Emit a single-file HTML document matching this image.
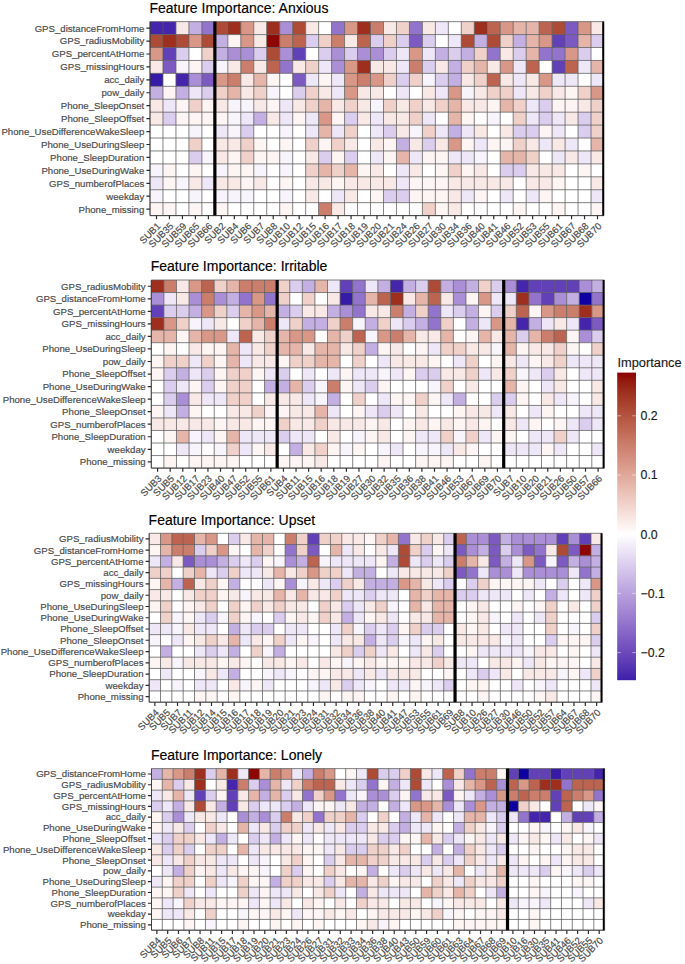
<!DOCTYPE html>
<html><head><meta charset="utf-8"><style>html,body{margin:0;padding:0;background:#fff;width:685px;height:964px;overflow:hidden}svg text{font-family:"Liberation Sans",sans-serif} .ax{stroke:#4d4d4d;stroke-width:0.2px} .tt{stroke:#000;stroke-width:0.15px} .lg{stroke:#1a1a1a;stroke-width:0.15px}</style></head>
<body><svg width="685" height="964" viewBox="0 0 685 964" style="position:absolute;left:0;top:0"><rect width="685" height="964" fill="#fff"/><text x="149.40" y="12.85" font-size="14.0" fill="#000" class="tt">Feature Importance: Anxious</text><rect x="150.00" y="21.65" width="13.02" height="12.98" fill="#4525ac"/><rect x="162.97" y="21.65" width="13.02" height="12.98" fill="#4525ac"/><rect x="175.94" y="21.65" width="13.02" height="12.98" fill="#f9e9e6"/><rect x="188.91" y="21.65" width="13.02" height="12.98" fill="#c4afe3"/><rect x="201.89" y="21.65" width="13.02" height="12.98" fill="#9374cc"/><rect x="214.86" y="21.65" width="13.02" height="12.98" fill="#ae4b37"/><rect x="227.83" y="21.65" width="13.02" height="12.98" fill="#9e2f1e"/><rect x="240.80" y="21.65" width="13.02" height="12.98" fill="#d89787"/><rect x="253.77" y="21.65" width="13.02" height="12.98" fill="#f9e9e6"/><rect x="266.74" y="21.65" width="13.02" height="12.98" fill="#9e2f1e"/><rect x="279.71" y="21.65" width="13.02" height="12.98" fill="#aa8fd7"/><rect x="292.69" y="21.65" width="13.02" height="12.98" fill="#ae4b37"/><rect x="305.66" y="21.65" width="13.02" height="12.98" fill="#f9e9e6"/><rect x="318.63" y="21.65" width="13.02" height="12.98" fill="#ffffff"/><rect x="331.60" y="21.65" width="13.02" height="12.98" fill="#9374cc"/><rect x="344.57" y="21.65" width="13.02" height="12.98" fill="#d89787"/><rect x="357.54" y="21.65" width="13.02" height="12.98" fill="#9e2f1e"/><rect x="370.51" y="21.65" width="13.02" height="12.98" fill="#cb7e6b"/><rect x="383.49" y="21.65" width="13.02" height="12.98" fill="#f9e9e6"/><rect x="396.46" y="21.65" width="13.02" height="12.98" fill="#f0d1c9"/><rect x="409.43" y="21.65" width="13.02" height="12.98" fill="#9374cc"/><rect x="422.40" y="21.65" width="13.02" height="12.98" fill="#f9e9e6"/><rect x="435.37" y="21.65" width="13.02" height="12.98" fill="#eee7f7"/><rect x="448.34" y="21.65" width="13.02" height="12.98" fill="#ffffff"/><rect x="461.31" y="21.65" width="13.02" height="12.98" fill="#f0d1c9"/><rect x="474.29" y="21.65" width="13.02" height="12.98" fill="#9e2f1e"/><rect x="487.26" y="21.65" width="13.02" height="12.98" fill="#bd6450"/><rect x="500.23" y="21.65" width="13.02" height="12.98" fill="#d89787"/><rect x="513.20" y="21.65" width="13.02" height="12.98" fill="#e6b5a9"/><rect x="526.17" y="21.65" width="13.02" height="12.98" fill="#e6b5a9"/><rect x="539.14" y="21.65" width="13.02" height="12.98" fill="#bd6450"/><rect x="552.11" y="21.65" width="13.02" height="12.98" fill="#ae4b37"/><rect x="565.09" y="21.65" width="13.02" height="12.98" fill="#7c5ac2"/><rect x="578.06" y="21.65" width="13.02" height="12.98" fill="#d89787"/><rect x="591.03" y="21.65" width="13.02" height="12.98" fill="#f9e9e6"/><rect x="150.00" y="34.58" width="13.02" height="12.98" fill="#ae4b37"/><rect x="162.97" y="34.58" width="13.02" height="12.98" fill="#9e2f1e"/><rect x="175.94" y="34.58" width="13.02" height="12.98" fill="#ae4b37"/><rect x="188.91" y="34.58" width="13.02" height="12.98" fill="#d89787"/><rect x="201.89" y="34.58" width="13.02" height="12.98" fill="#ae4b37"/><rect x="214.86" y="34.58" width="13.02" height="12.98" fill="#c4afe3"/><rect x="227.83" y="34.58" width="13.02" height="12.98" fill="#fcf5f4"/><rect x="240.80" y="34.58" width="13.02" height="12.98" fill="#d89787"/><rect x="253.77" y="34.58" width="13.02" height="12.98" fill="#f9e9e6"/><rect x="266.74" y="34.58" width="13.02" height="12.98" fill="#8d0603"/><rect x="279.71" y="34.58" width="13.02" height="12.98" fill="#cb7e6b"/><rect x="292.69" y="34.58" width="13.02" height="12.98" fill="#bd6450"/><rect x="305.66" y="34.58" width="13.02" height="12.98" fill="#dacdee"/><rect x="318.63" y="34.58" width="13.02" height="12.98" fill="#f0d1c9"/><rect x="331.60" y="34.58" width="13.02" height="12.98" fill="#cb7e6b"/><rect x="344.57" y="34.58" width="13.02" height="12.98" fill="#f9e9e6"/><rect x="357.54" y="34.58" width="13.02" height="12.98" fill="#bd6450"/><rect x="370.51" y="34.58" width="13.02" height="12.98" fill="#dacdee"/><rect x="383.49" y="34.58" width="13.02" height="12.98" fill="#f0d1c9"/><rect x="396.46" y="34.58" width="13.02" height="12.98" fill="#dacdee"/><rect x="409.43" y="34.58" width="13.02" height="12.98" fill="#7c5ac2"/><rect x="422.40" y="34.58" width="13.02" height="12.98" fill="#dacdee"/><rect x="435.37" y="34.58" width="13.02" height="12.98" fill="#ffffff"/><rect x="448.34" y="34.58" width="13.02" height="12.98" fill="#eee7f7"/><rect x="461.31" y="34.58" width="13.02" height="12.98" fill="#ae4b37"/><rect x="474.29" y="34.58" width="13.02" height="12.98" fill="#c4afe3"/><rect x="487.26" y="34.58" width="13.02" height="12.98" fill="#ae4b37"/><rect x="500.23" y="34.58" width="13.02" height="12.98" fill="#f0d1c9"/><rect x="513.20" y="34.58" width="13.02" height="12.98" fill="#c4afe3"/><rect x="526.17" y="34.58" width="13.02" height="12.98" fill="#e6b5a9"/><rect x="539.14" y="34.58" width="13.02" height="12.98" fill="#d89787"/><rect x="552.11" y="34.58" width="13.02" height="12.98" fill="#6240b7"/><rect x="565.09" y="34.58" width="13.02" height="12.98" fill="#7c5ac2"/><rect x="578.06" y="34.58" width="13.02" height="12.98" fill="#e6b5a9"/><rect x="591.03" y="34.58" width="13.02" height="12.98" fill="#dacdee"/><rect x="150.00" y="47.51" width="13.02" height="12.98" fill="#d89787"/><rect x="162.97" y="47.51" width="13.02" height="12.98" fill="#6240b7"/><rect x="175.94" y="47.51" width="13.02" height="12.98" fill="#dacdee"/><rect x="188.91" y="47.51" width="13.02" height="12.98" fill="#ffffff"/><rect x="201.89" y="47.51" width="13.02" height="12.98" fill="#f0d1c9"/><rect x="214.86" y="47.51" width="13.02" height="12.98" fill="#c4afe3"/><rect x="227.83" y="47.51" width="13.02" height="12.98" fill="#aa8fd7"/><rect x="240.80" y="47.51" width="13.02" height="12.98" fill="#aa8fd7"/><rect x="253.77" y="47.51" width="13.02" height="12.98" fill="#dacdee"/><rect x="266.74" y="47.51" width="13.02" height="12.98" fill="#ae4b37"/><rect x="279.71" y="47.51" width="13.02" height="12.98" fill="#aa8fd7"/><rect x="292.69" y="47.51" width="13.02" height="12.98" fill="#6240b7"/><rect x="305.66" y="47.51" width="13.02" height="12.98" fill="#ffffff"/><rect x="318.63" y="47.51" width="13.02" height="12.98" fill="#dacdee"/><rect x="331.60" y="47.51" width="13.02" height="12.98" fill="#aa8fd7"/><rect x="344.57" y="47.51" width="13.02" height="12.98" fill="#dacdee"/><rect x="357.54" y="47.51" width="13.02" height="12.98" fill="#aa8fd7"/><rect x="370.51" y="47.51" width="13.02" height="12.98" fill="#aa8fd7"/><rect x="383.49" y="47.51" width="13.02" height="12.98" fill="#dacdee"/><rect x="396.46" y="47.51" width="13.02" height="12.98" fill="#eee7f7"/><rect x="409.43" y="47.51" width="13.02" height="12.98" fill="#d89787"/><rect x="422.40" y="47.51" width="13.02" height="12.98" fill="#eee7f7"/><rect x="435.37" y="47.51" width="13.02" height="12.98" fill="#c4afe3"/><rect x="448.34" y="47.51" width="13.02" height="12.98" fill="#dacdee"/><rect x="461.31" y="47.51" width="13.02" height="12.98" fill="#c4afe3"/><rect x="474.29" y="47.51" width="13.02" height="12.98" fill="#f0d1c9"/><rect x="487.26" y="47.51" width="13.02" height="12.98" fill="#9374cc"/><rect x="500.23" y="47.51" width="13.02" height="12.98" fill="#f9e9e6"/><rect x="513.20" y="47.51" width="13.02" height="12.98" fill="#dacdee"/><rect x="526.17" y="47.51" width="13.02" height="12.98" fill="#e6b5a9"/><rect x="539.14" y="47.51" width="13.02" height="12.98" fill="#9374cc"/><rect x="552.11" y="47.51" width="13.02" height="12.98" fill="#9374cc"/><rect x="565.09" y="47.51" width="13.02" height="12.98" fill="#d89787"/><rect x="578.06" y="47.51" width="13.02" height="12.98" fill="#dacdee"/><rect x="591.03" y="47.51" width="13.02" height="12.98" fill="#ffffff"/><rect x="150.00" y="60.44" width="13.02" height="12.98" fill="#f9e9e6"/><rect x="162.97" y="60.44" width="13.02" height="12.98" fill="#7c5ac2"/><rect x="175.94" y="60.44" width="13.02" height="12.98" fill="#f7f4fb"/><rect x="188.91" y="60.44" width="13.02" height="12.98" fill="#fcf5f4"/><rect x="201.89" y="60.44" width="13.02" height="12.98" fill="#dacdee"/><rect x="214.86" y="60.44" width="13.02" height="12.98" fill="#f7f4fb"/><rect x="227.83" y="60.44" width="13.02" height="12.98" fill="#f9e9e6"/><rect x="240.80" y="60.44" width="13.02" height="12.98" fill="#cb7e6b"/><rect x="253.77" y="60.44" width="13.02" height="12.98" fill="#f9e9e6"/><rect x="266.74" y="60.44" width="13.02" height="12.98" fill="#bd6450"/><rect x="279.71" y="60.44" width="13.02" height="12.98" fill="#9374cc"/><rect x="292.69" y="60.44" width="13.02" height="12.98" fill="#f9e9e6"/><rect x="305.66" y="60.44" width="13.02" height="12.98" fill="#f0d1c9"/><rect x="318.63" y="60.44" width="13.02" height="12.98" fill="#eee7f7"/><rect x="331.60" y="60.44" width="13.02" height="12.98" fill="#aa8fd7"/><rect x="344.57" y="60.44" width="13.02" height="12.98" fill="#d89787"/><rect x="357.54" y="60.44" width="13.02" height="12.98" fill="#9e2f1e"/><rect x="370.51" y="60.44" width="13.02" height="12.98" fill="#f9e9e6"/><rect x="383.49" y="60.44" width="13.02" height="12.98" fill="#f9e9e6"/><rect x="396.46" y="60.44" width="13.02" height="12.98" fill="#eee7f7"/><rect x="409.43" y="60.44" width="13.02" height="12.98" fill="#cb7e6b"/><rect x="422.40" y="60.44" width="13.02" height="12.98" fill="#dacdee"/><rect x="435.37" y="60.44" width="13.02" height="12.98" fill="#f9e9e6"/><rect x="448.34" y="60.44" width="13.02" height="12.98" fill="#c4afe3"/><rect x="461.31" y="60.44" width="13.02" height="12.98" fill="#f0d1c9"/><rect x="474.29" y="60.44" width="13.02" height="12.98" fill="#e6b5a9"/><rect x="487.26" y="60.44" width="13.02" height="12.98" fill="#f9e9e6"/><rect x="500.23" y="60.44" width="13.02" height="12.98" fill="#d89787"/><rect x="513.20" y="60.44" width="13.02" height="12.98" fill="#eee7f7"/><rect x="526.17" y="60.44" width="13.02" height="12.98" fill="#bd6450"/><rect x="539.14" y="60.44" width="13.02" height="12.98" fill="#ffffff"/><rect x="552.11" y="60.44" width="13.02" height="12.98" fill="#6240b7"/><rect x="565.09" y="60.44" width="13.02" height="12.98" fill="#bd6450"/><rect x="578.06" y="60.44" width="13.02" height="12.98" fill="#eee7f7"/><rect x="591.03" y="60.44" width="13.02" height="12.98" fill="#e6b5a9"/><rect x="150.00" y="73.37" width="13.02" height="12.98" fill="#361aa8"/><rect x="162.97" y="73.37" width="13.02" height="12.98" fill="#ffffff"/><rect x="175.94" y="73.37" width="13.02" height="12.98" fill="#4525ac"/><rect x="188.91" y="73.37" width="13.02" height="12.98" fill="#aa8fd7"/><rect x="201.89" y="73.37" width="13.02" height="12.98" fill="#7c5ac2"/><rect x="214.86" y="73.37" width="13.02" height="12.98" fill="#d89787"/><rect x="227.83" y="73.37" width="13.02" height="12.98" fill="#cb7e6b"/><rect x="240.80" y="73.37" width="13.02" height="12.98" fill="#f9e9e6"/><rect x="253.77" y="73.37" width="13.02" height="12.98" fill="#e6b5a9"/><rect x="266.74" y="73.37" width="13.02" height="12.98" fill="#fcf5f4"/><rect x="279.71" y="73.37" width="13.02" height="12.98" fill="#ffffff"/><rect x="292.69" y="73.37" width="13.02" height="12.98" fill="#7c5ac2"/><rect x="305.66" y="73.37" width="13.02" height="12.98" fill="#eee7f7"/><rect x="318.63" y="73.37" width="13.02" height="12.98" fill="#fcf5f4"/><rect x="331.60" y="73.37" width="13.02" height="12.98" fill="#eee7f7"/><rect x="344.57" y="73.37" width="13.02" height="12.98" fill="#d89787"/><rect x="357.54" y="73.37" width="13.02" height="12.98" fill="#cb7e6b"/><rect x="370.51" y="73.37" width="13.02" height="12.98" fill="#d89787"/><rect x="383.49" y="73.37" width="13.02" height="12.98" fill="#f0d1c9"/><rect x="396.46" y="73.37" width="13.02" height="12.98" fill="#dacdee"/><rect x="409.43" y="73.37" width="13.02" height="12.98" fill="#f0d1c9"/><rect x="422.40" y="73.37" width="13.02" height="12.98" fill="#f7f4fb"/><rect x="435.37" y="73.37" width="13.02" height="12.98" fill="#dacdee"/><rect x="448.34" y="73.37" width="13.02" height="12.98" fill="#c4afe3"/><rect x="461.31" y="73.37" width="13.02" height="12.98" fill="#f9e9e6"/><rect x="474.29" y="73.37" width="13.02" height="12.98" fill="#f0d1c9"/><rect x="487.26" y="73.37" width="13.02" height="12.98" fill="#bd6450"/><rect x="500.23" y="73.37" width="13.02" height="12.98" fill="#f9e9e6"/><rect x="513.20" y="73.37" width="13.02" height="12.98" fill="#eee7f7"/><rect x="526.17" y="73.37" width="13.02" height="12.98" fill="#f9e9e6"/><rect x="539.14" y="73.37" width="13.02" height="12.98" fill="#d89787"/><rect x="552.11" y="73.37" width="13.02" height="12.98" fill="#eee7f7"/><rect x="565.09" y="73.37" width="13.02" height="12.98" fill="#eee7f7"/><rect x="578.06" y="73.37" width="13.02" height="12.98" fill="#ffffff"/><rect x="591.03" y="73.37" width="13.02" height="12.98" fill="#eee7f7"/><rect x="150.00" y="86.30" width="13.02" height="12.98" fill="#c4afe3"/><rect x="162.97" y="86.30" width="13.02" height="12.98" fill="#fcf5f4"/><rect x="175.94" y="86.30" width="13.02" height="12.98" fill="#c4afe3"/><rect x="188.91" y="86.30" width="13.02" height="12.98" fill="#eee7f7"/><rect x="201.89" y="86.30" width="13.02" height="12.98" fill="#dacdee"/><rect x="214.86" y="86.30" width="13.02" height="12.98" fill="#f0d1c9"/><rect x="227.83" y="86.30" width="13.02" height="12.98" fill="#e6b5a9"/><rect x="240.80" y="86.30" width="13.02" height="12.98" fill="#f9e9e6"/><rect x="253.77" y="86.30" width="13.02" height="12.98" fill="#f0d1c9"/><rect x="266.74" y="86.30" width="13.02" height="12.98" fill="#f7f4fb"/><rect x="279.71" y="86.30" width="13.02" height="12.98" fill="#ffffff"/><rect x="292.69" y="86.30" width="13.02" height="12.98" fill="#dacdee"/><rect x="305.66" y="86.30" width="13.02" height="12.98" fill="#f0d1c9"/><rect x="318.63" y="86.30" width="13.02" height="12.98" fill="#f9e9e6"/><rect x="331.60" y="86.30" width="13.02" height="12.98" fill="#eee7f7"/><rect x="344.57" y="86.30" width="13.02" height="12.98" fill="#d89787"/><rect x="357.54" y="86.30" width="13.02" height="12.98" fill="#f9e9e6"/><rect x="370.51" y="86.30" width="13.02" height="12.98" fill="#f9e9e6"/><rect x="383.49" y="86.30" width="13.02" height="12.98" fill="#ffffff"/><rect x="396.46" y="86.30" width="13.02" height="12.98" fill="#eee7f7"/><rect x="409.43" y="86.30" width="13.02" height="12.98" fill="#ffffff"/><rect x="422.40" y="86.30" width="13.02" height="12.98" fill="#f9e9e6"/><rect x="435.37" y="86.30" width="13.02" height="12.98" fill="#eee7f7"/><rect x="448.34" y="86.30" width="13.02" height="12.98" fill="#d89787"/><rect x="461.31" y="86.30" width="13.02" height="12.98" fill="#f7f4fb"/><rect x="474.29" y="86.30" width="13.02" height="12.98" fill="#f9e9e6"/><rect x="487.26" y="86.30" width="13.02" height="12.98" fill="#f0d1c9"/><rect x="500.23" y="86.30" width="13.02" height="12.98" fill="#f0d1c9"/><rect x="513.20" y="86.30" width="13.02" height="12.98" fill="#eee7f7"/><rect x="526.17" y="86.30" width="13.02" height="12.98" fill="#f9e9e6"/><rect x="539.14" y="86.30" width="13.02" height="12.98" fill="#f0d1c9"/><rect x="552.11" y="86.30" width="13.02" height="12.98" fill="#f9e9e6"/><rect x="565.09" y="86.30" width="13.02" height="12.98" fill="#fcf5f4"/><rect x="578.06" y="86.30" width="13.02" height="12.98" fill="#f0d1c9"/><rect x="591.03" y="86.30" width="13.02" height="12.98" fill="#d89787"/><rect x="150.00" y="99.23" width="13.02" height="12.98" fill="#f9e9e6"/><rect x="162.97" y="99.23" width="13.02" height="12.98" fill="#eee7f7"/><rect x="175.94" y="99.23" width="13.02" height="12.98" fill="#fcf5f4"/><rect x="188.91" y="99.23" width="13.02" height="12.98" fill="#f0d1c9"/><rect x="201.89" y="99.23" width="13.02" height="12.98" fill="#fcf5f4"/><rect x="214.86" y="99.23" width="13.02" height="12.98" fill="#f9e9e6"/><rect x="227.83" y="99.23" width="13.02" height="12.98" fill="#f7f4fb"/><rect x="240.80" y="99.23" width="13.02" height="12.98" fill="#f7f4fb"/><rect x="253.77" y="99.23" width="13.02" height="12.98" fill="#f9e9e6"/><rect x="266.74" y="99.23" width="13.02" height="12.98" fill="#fcf5f4"/><rect x="279.71" y="99.23" width="13.02" height="12.98" fill="#eee7f7"/><rect x="292.69" y="99.23" width="13.02" height="12.98" fill="#f9e9e6"/><rect x="305.66" y="99.23" width="13.02" height="12.98" fill="#f0d1c9"/><rect x="318.63" y="99.23" width="13.02" height="12.98" fill="#e6b5a9"/><rect x="331.60" y="99.23" width="13.02" height="12.98" fill="#f9e9e6"/><rect x="344.57" y="99.23" width="13.02" height="12.98" fill="#f0d1c9"/><rect x="357.54" y="99.23" width="13.02" height="12.98" fill="#f9e9e6"/><rect x="370.51" y="99.23" width="13.02" height="12.98" fill="#f7f4fb"/><rect x="383.49" y="99.23" width="13.02" height="12.98" fill="#f0d1c9"/><rect x="396.46" y="99.23" width="13.02" height="12.98" fill="#f9e9e6"/><rect x="409.43" y="99.23" width="13.02" height="12.98" fill="#f0d1c9"/><rect x="422.40" y="99.23" width="13.02" height="12.98" fill="#f9e9e6"/><rect x="435.37" y="99.23" width="13.02" height="12.98" fill="#f0d1c9"/><rect x="448.34" y="99.23" width="13.02" height="12.98" fill="#e6b5a9"/><rect x="461.31" y="99.23" width="13.02" height="12.98" fill="#f9e9e6"/><rect x="474.29" y="99.23" width="13.02" height="12.98" fill="#f9e9e6"/><rect x="487.26" y="99.23" width="13.02" height="12.98" fill="#fcf5f4"/><rect x="500.23" y="99.23" width="13.02" height="12.98" fill="#e6b5a9"/><rect x="513.20" y="99.23" width="13.02" height="12.98" fill="#f0d1c9"/><rect x="526.17" y="99.23" width="13.02" height="12.98" fill="#eee7f7"/><rect x="539.14" y="99.23" width="13.02" height="12.98" fill="#dacdee"/><rect x="552.11" y="99.23" width="13.02" height="12.98" fill="#fcf5f4"/><rect x="565.09" y="99.23" width="13.02" height="12.98" fill="#fcf5f4"/><rect x="578.06" y="99.23" width="13.02" height="12.98" fill="#f9e9e6"/><rect x="591.03" y="99.23" width="13.02" height="12.98" fill="#f0d1c9"/><rect x="150.00" y="112.16" width="13.02" height="12.98" fill="#f9e9e6"/><rect x="162.97" y="112.16" width="13.02" height="12.98" fill="#dacdee"/><rect x="175.94" y="112.16" width="13.02" height="12.98" fill="#fcf5f4"/><rect x="188.91" y="112.16" width="13.02" height="12.98" fill="#fcf5f4"/><rect x="201.89" y="112.16" width="13.02" height="12.98" fill="#fcf5f4"/><rect x="214.86" y="112.16" width="13.02" height="12.98" fill="#fcf5f4"/><rect x="227.83" y="112.16" width="13.02" height="12.98" fill="#f7f4fb"/><rect x="240.80" y="112.16" width="13.02" height="12.98" fill="#eee7f7"/><rect x="253.77" y="112.16" width="13.02" height="12.98" fill="#c4afe3"/><rect x="266.74" y="112.16" width="13.02" height="12.98" fill="#f9e9e6"/><rect x="279.71" y="112.16" width="13.02" height="12.98" fill="#eee7f7"/><rect x="292.69" y="112.16" width="13.02" height="12.98" fill="#fcf5f4"/><rect x="305.66" y="112.16" width="13.02" height="12.98" fill="#eee7f7"/><rect x="318.63" y="112.16" width="13.02" height="12.98" fill="#d89787"/><rect x="331.60" y="112.16" width="13.02" height="12.98" fill="#fcf5f4"/><rect x="344.57" y="112.16" width="13.02" height="12.98" fill="#dacdee"/><rect x="357.54" y="112.16" width="13.02" height="12.98" fill="#f9e9e6"/><rect x="370.51" y="112.16" width="13.02" height="12.98" fill="#eee7f7"/><rect x="383.49" y="112.16" width="13.02" height="12.98" fill="#f9e9e6"/><rect x="396.46" y="112.16" width="13.02" height="12.98" fill="#f9e9e6"/><rect x="409.43" y="112.16" width="13.02" height="12.98" fill="#f0d1c9"/><rect x="422.40" y="112.16" width="13.02" height="12.98" fill="#eee7f7"/><rect x="435.37" y="112.16" width="13.02" height="12.98" fill="#ffffff"/><rect x="448.34" y="112.16" width="13.02" height="12.98" fill="#e6b5a9"/><rect x="461.31" y="112.16" width="13.02" height="12.98" fill="#fcf5f4"/><rect x="474.29" y="112.16" width="13.02" height="12.98" fill="#ffffff"/><rect x="487.26" y="112.16" width="13.02" height="12.98" fill="#f7f4fb"/><rect x="500.23" y="112.16" width="13.02" height="12.98" fill="#ffffff"/><rect x="513.20" y="112.16" width="13.02" height="12.98" fill="#f0d1c9"/><rect x="526.17" y="112.16" width="13.02" height="12.98" fill="#eee7f7"/><rect x="539.14" y="112.16" width="13.02" height="12.98" fill="#dacdee"/><rect x="552.11" y="112.16" width="13.02" height="12.98" fill="#eee7f7"/><rect x="565.09" y="112.16" width="13.02" height="12.98" fill="#f9e9e6"/><rect x="578.06" y="112.16" width="13.02" height="12.98" fill="#dacdee"/><rect x="591.03" y="112.16" width="13.02" height="12.98" fill="#f0d1c9"/><rect x="150.00" y="125.09" width="13.02" height="12.98" fill="#ffffff"/><rect x="162.97" y="125.09" width="13.02" height="12.98" fill="#ffffff"/><rect x="175.94" y="125.09" width="13.02" height="12.98" fill="#ffffff"/><rect x="188.91" y="125.09" width="13.02" height="12.98" fill="#f7f4fb"/><rect x="201.89" y="125.09" width="13.02" height="12.98" fill="#ffffff"/><rect x="214.86" y="125.09" width="13.02" height="12.98" fill="#eee7f7"/><rect x="227.83" y="125.09" width="13.02" height="12.98" fill="#f7f4fb"/><rect x="240.80" y="125.09" width="13.02" height="12.98" fill="#dacdee"/><rect x="253.77" y="125.09" width="13.02" height="12.98" fill="#ffffff"/><rect x="266.74" y="125.09" width="13.02" height="12.98" fill="#ffffff"/><rect x="279.71" y="125.09" width="13.02" height="12.98" fill="#f7f4fb"/><rect x="292.69" y="125.09" width="13.02" height="12.98" fill="#ffffff"/><rect x="305.66" y="125.09" width="13.02" height="12.98" fill="#eee7f7"/><rect x="318.63" y="125.09" width="13.02" height="12.98" fill="#e6b5a9"/><rect x="331.60" y="125.09" width="13.02" height="12.98" fill="#eee7f7"/><rect x="344.57" y="125.09" width="13.02" height="12.98" fill="#f0d1c9"/><rect x="357.54" y="125.09" width="13.02" height="12.98" fill="#ffffff"/><rect x="370.51" y="125.09" width="13.02" height="12.98" fill="#eee7f7"/><rect x="383.49" y="125.09" width="13.02" height="12.98" fill="#dacdee"/><rect x="396.46" y="125.09" width="13.02" height="12.98" fill="#f9e9e6"/><rect x="409.43" y="125.09" width="13.02" height="12.98" fill="#f7f4fb"/><rect x="422.40" y="125.09" width="13.02" height="12.98" fill="#f0d1c9"/><rect x="435.37" y="125.09" width="13.02" height="12.98" fill="#eee7f7"/><rect x="448.34" y="125.09" width="13.02" height="12.98" fill="#c4afe3"/><rect x="461.31" y="125.09" width="13.02" height="12.98" fill="#eee7f7"/><rect x="474.29" y="125.09" width="13.02" height="12.98" fill="#f9e9e6"/><rect x="487.26" y="125.09" width="13.02" height="12.98" fill="#ffffff"/><rect x="500.23" y="125.09" width="13.02" height="12.98" fill="#f9e9e6"/><rect x="513.20" y="125.09" width="13.02" height="12.98" fill="#dacdee"/><rect x="526.17" y="125.09" width="13.02" height="12.98" fill="#dacdee"/><rect x="539.14" y="125.09" width="13.02" height="12.98" fill="#fcf5f4"/><rect x="552.11" y="125.09" width="13.02" height="12.98" fill="#eee7f7"/><rect x="565.09" y="125.09" width="13.02" height="12.98" fill="#ffffff"/><rect x="578.06" y="125.09" width="13.02" height="12.98" fill="#dacdee"/><rect x="591.03" y="125.09" width="13.02" height="12.98" fill="#f0d1c9"/><rect x="150.00" y="138.02" width="13.02" height="12.98" fill="#ffffff"/><rect x="162.97" y="138.02" width="13.02" height="12.98" fill="#ffffff"/><rect x="175.94" y="138.02" width="13.02" height="12.98" fill="#ffffff"/><rect x="188.91" y="138.02" width="13.02" height="12.98" fill="#f0d1c9"/><rect x="201.89" y="138.02" width="13.02" height="12.98" fill="#ffffff"/><rect x="214.86" y="138.02" width="13.02" height="12.98" fill="#f9e9e6"/><rect x="227.83" y="138.02" width="13.02" height="12.98" fill="#f9e9e6"/><rect x="240.80" y="138.02" width="13.02" height="12.98" fill="#f0d1c9"/><rect x="253.77" y="138.02" width="13.02" height="12.98" fill="#fcf5f4"/><rect x="266.74" y="138.02" width="13.02" height="12.98" fill="#ffffff"/><rect x="279.71" y="138.02" width="13.02" height="12.98" fill="#fcf5f4"/><rect x="292.69" y="138.02" width="13.02" height="12.98" fill="#ffffff"/><rect x="305.66" y="138.02" width="13.02" height="12.98" fill="#f0d1c9"/><rect x="318.63" y="138.02" width="13.02" height="12.98" fill="#fcf5f4"/><rect x="331.60" y="138.02" width="13.02" height="12.98" fill="#f0d1c9"/><rect x="344.57" y="138.02" width="13.02" height="12.98" fill="#f9e9e6"/><rect x="357.54" y="138.02" width="13.02" height="12.98" fill="#ffffff"/><rect x="370.51" y="138.02" width="13.02" height="12.98" fill="#f9e9e6"/><rect x="383.49" y="138.02" width="13.02" height="12.98" fill="#fcf5f4"/><rect x="396.46" y="138.02" width="13.02" height="12.98" fill="#c4afe3"/><rect x="409.43" y="138.02" width="13.02" height="12.98" fill="#f9e9e6"/><rect x="422.40" y="138.02" width="13.02" height="12.98" fill="#dacdee"/><rect x="435.37" y="138.02" width="13.02" height="12.98" fill="#f9e9e6"/><rect x="448.34" y="138.02" width="13.02" height="12.98" fill="#d89787"/><rect x="461.31" y="138.02" width="13.02" height="12.98" fill="#fcf5f4"/><rect x="474.29" y="138.02" width="13.02" height="12.98" fill="#eee7f7"/><rect x="487.26" y="138.02" width="13.02" height="12.98" fill="#fcf5f4"/><rect x="500.23" y="138.02" width="13.02" height="12.98" fill="#fcf5f4"/><rect x="513.20" y="138.02" width="13.02" height="12.98" fill="#f0d1c9"/><rect x="526.17" y="138.02" width="13.02" height="12.98" fill="#f9e9e6"/><rect x="539.14" y="138.02" width="13.02" height="12.98" fill="#eee7f7"/><rect x="552.11" y="138.02" width="13.02" height="12.98" fill="#f9e9e6"/><rect x="565.09" y="138.02" width="13.02" height="12.98" fill="#eee7f7"/><rect x="578.06" y="138.02" width="13.02" height="12.98" fill="#ffffff"/><rect x="591.03" y="138.02" width="13.02" height="12.98" fill="#e6b5a9"/><rect x="150.00" y="150.95" width="13.02" height="12.98" fill="#ffffff"/><rect x="162.97" y="150.95" width="13.02" height="12.98" fill="#ffffff"/><rect x="175.94" y="150.95" width="13.02" height="12.98" fill="#ffffff"/><rect x="188.91" y="150.95" width="13.02" height="12.98" fill="#dacdee"/><rect x="201.89" y="150.95" width="13.02" height="12.98" fill="#f7f4fb"/><rect x="214.86" y="150.95" width="13.02" height="12.98" fill="#f9e9e6"/><rect x="227.83" y="150.95" width="13.02" height="12.98" fill="#fcf5f4"/><rect x="240.80" y="150.95" width="13.02" height="12.98" fill="#f0d1c9"/><rect x="253.77" y="150.95" width="13.02" height="12.98" fill="#fcf5f4"/><rect x="266.74" y="150.95" width="13.02" height="12.98" fill="#fcf5f4"/><rect x="279.71" y="150.95" width="13.02" height="12.98" fill="#f7f4fb"/><rect x="292.69" y="150.95" width="13.02" height="12.98" fill="#ffffff"/><rect x="305.66" y="150.95" width="13.02" height="12.98" fill="#f9e9e6"/><rect x="318.63" y="150.95" width="13.02" height="12.98" fill="#dacdee"/><rect x="331.60" y="150.95" width="13.02" height="12.98" fill="#fcf5f4"/><rect x="344.57" y="150.95" width="13.02" height="12.98" fill="#dacdee"/><rect x="357.54" y="150.95" width="13.02" height="12.98" fill="#ffffff"/><rect x="370.51" y="150.95" width="13.02" height="12.98" fill="#eee7f7"/><rect x="383.49" y="150.95" width="13.02" height="12.98" fill="#fcf5f4"/><rect x="396.46" y="150.95" width="13.02" height="12.98" fill="#e6b5a9"/><rect x="409.43" y="150.95" width="13.02" height="12.98" fill="#eee7f7"/><rect x="422.40" y="150.95" width="13.02" height="12.98" fill="#fcf5f4"/><rect x="435.37" y="150.95" width="13.02" height="12.98" fill="#fcf5f4"/><rect x="448.34" y="150.95" width="13.02" height="12.98" fill="#eee7f7"/><rect x="461.31" y="150.95" width="13.02" height="12.98" fill="#eee7f7"/><rect x="474.29" y="150.95" width="13.02" height="12.98" fill="#f7f4fb"/><rect x="487.26" y="150.95" width="13.02" height="12.98" fill="#ffffff"/><rect x="500.23" y="150.95" width="13.02" height="12.98" fill="#e6b5a9"/><rect x="513.20" y="150.95" width="13.02" height="12.98" fill="#e6b5a9"/><rect x="526.17" y="150.95" width="13.02" height="12.98" fill="#f0d1c9"/><rect x="539.14" y="150.95" width="13.02" height="12.98" fill="#ffffff"/><rect x="552.11" y="150.95" width="13.02" height="12.98" fill="#eee7f7"/><rect x="565.09" y="150.95" width="13.02" height="12.98" fill="#f9e9e6"/><rect x="578.06" y="150.95" width="13.02" height="12.98" fill="#eee7f7"/><rect x="591.03" y="150.95" width="13.02" height="12.98" fill="#f9e9e6"/><rect x="150.00" y="163.88" width="13.02" height="12.98" fill="#f7f4fb"/><rect x="162.97" y="163.88" width="13.02" height="12.98" fill="#fcf5f4"/><rect x="175.94" y="163.88" width="13.02" height="12.98" fill="#ffffff"/><rect x="188.91" y="163.88" width="13.02" height="12.98" fill="#fcf5f4"/><rect x="201.89" y="163.88" width="13.02" height="12.98" fill="#ffffff"/><rect x="214.86" y="163.88" width="13.02" height="12.98" fill="#f7f4fb"/><rect x="227.83" y="163.88" width="13.02" height="12.98" fill="#fcf5f4"/><rect x="240.80" y="163.88" width="13.02" height="12.98" fill="#fcf5f4"/><rect x="253.77" y="163.88" width="13.02" height="12.98" fill="#f7f4fb"/><rect x="266.74" y="163.88" width="13.02" height="12.98" fill="#ffffff"/><rect x="279.71" y="163.88" width="13.02" height="12.98" fill="#f7f4fb"/><rect x="292.69" y="163.88" width="13.02" height="12.98" fill="#ffffff"/><rect x="305.66" y="163.88" width="13.02" height="12.98" fill="#f0d1c9"/><rect x="318.63" y="163.88" width="13.02" height="12.98" fill="#e6b5a9"/><rect x="331.60" y="163.88" width="13.02" height="12.98" fill="#f0d1c9"/><rect x="344.57" y="163.88" width="13.02" height="12.98" fill="#e6b5a9"/><rect x="357.54" y="163.88" width="13.02" height="12.98" fill="#fcf5f4"/><rect x="370.51" y="163.88" width="13.02" height="12.98" fill="#f9e9e6"/><rect x="383.49" y="163.88" width="13.02" height="12.98" fill="#ffffff"/><rect x="396.46" y="163.88" width="13.02" height="12.98" fill="#eee7f7"/><rect x="409.43" y="163.88" width="13.02" height="12.98" fill="#f9e9e6"/><rect x="422.40" y="163.88" width="13.02" height="12.98" fill="#ffffff"/><rect x="435.37" y="163.88" width="13.02" height="12.98" fill="#fcf5f4"/><rect x="448.34" y="163.88" width="13.02" height="12.98" fill="#f0d1c9"/><rect x="461.31" y="163.88" width="13.02" height="12.98" fill="#fcf5f4"/><rect x="474.29" y="163.88" width="13.02" height="12.98" fill="#f9e9e6"/><rect x="487.26" y="163.88" width="13.02" height="12.98" fill="#ffffff"/><rect x="500.23" y="163.88" width="13.02" height="12.98" fill="#dacdee"/><rect x="513.20" y="163.88" width="13.02" height="12.98" fill="#dacdee"/><rect x="526.17" y="163.88" width="13.02" height="12.98" fill="#f9e9e6"/><rect x="539.14" y="163.88" width="13.02" height="12.98" fill="#f9e9e6"/><rect x="552.11" y="163.88" width="13.02" height="12.98" fill="#f9e9e6"/><rect x="565.09" y="163.88" width="13.02" height="12.98" fill="#ffffff"/><rect x="578.06" y="163.88" width="13.02" height="12.98" fill="#fcf5f4"/><rect x="591.03" y="163.88" width="13.02" height="12.98" fill="#ffffff"/><rect x="150.00" y="176.81" width="13.02" height="12.98" fill="#eee7f7"/><rect x="162.97" y="176.81" width="13.02" height="12.98" fill="#fcf5f4"/><rect x="175.94" y="176.81" width="13.02" height="12.98" fill="#f7f4fb"/><rect x="188.91" y="176.81" width="13.02" height="12.98" fill="#f9e9e6"/><rect x="201.89" y="176.81" width="13.02" height="12.98" fill="#eee7f7"/><rect x="214.86" y="176.81" width="13.02" height="12.98" fill="#f9e9e6"/><rect x="227.83" y="176.81" width="13.02" height="12.98" fill="#f9e9e6"/><rect x="240.80" y="176.81" width="13.02" height="12.98" fill="#fcf5f4"/><rect x="253.77" y="176.81" width="13.02" height="12.98" fill="#f9e9e6"/><rect x="266.74" y="176.81" width="13.02" height="12.98" fill="#ffffff"/><rect x="279.71" y="176.81" width="13.02" height="12.98" fill="#fcf5f4"/><rect x="292.69" y="176.81" width="13.02" height="12.98" fill="#ffffff"/><rect x="305.66" y="176.81" width="13.02" height="12.98" fill="#f9e9e6"/><rect x="318.63" y="176.81" width="13.02" height="12.98" fill="#f9e9e6"/><rect x="331.60" y="176.81" width="13.02" height="12.98" fill="#fcf5f4"/><rect x="344.57" y="176.81" width="13.02" height="12.98" fill="#f9e9e6"/><rect x="357.54" y="176.81" width="13.02" height="12.98" fill="#f9e9e6"/><rect x="370.51" y="176.81" width="13.02" height="12.98" fill="#f9e9e6"/><rect x="383.49" y="176.81" width="13.02" height="12.98" fill="#f9e9e6"/><rect x="396.46" y="176.81" width="13.02" height="12.98" fill="#eee7f7"/><rect x="409.43" y="176.81" width="13.02" height="12.98" fill="#fcf5f4"/><rect x="422.40" y="176.81" width="13.02" height="12.98" fill="#fcf5f4"/><rect x="435.37" y="176.81" width="13.02" height="12.98" fill="#fcf5f4"/><rect x="448.34" y="176.81" width="13.02" height="12.98" fill="#f9e9e6"/><rect x="461.31" y="176.81" width="13.02" height="12.98" fill="#f9e9e6"/><rect x="474.29" y="176.81" width="13.02" height="12.98" fill="#f9e9e6"/><rect x="487.26" y="176.81" width="13.02" height="12.98" fill="#f9e9e6"/><rect x="500.23" y="176.81" width="13.02" height="12.98" fill="#f9e9e6"/><rect x="513.20" y="176.81" width="13.02" height="12.98" fill="#ffffff"/><rect x="526.17" y="176.81" width="13.02" height="12.98" fill="#f9e9e6"/><rect x="539.14" y="176.81" width="13.02" height="12.98" fill="#f9e9e6"/><rect x="552.11" y="176.81" width="13.02" height="12.98" fill="#fcf5f4"/><rect x="565.09" y="176.81" width="13.02" height="12.98" fill="#ffffff"/><rect x="578.06" y="176.81" width="13.02" height="12.98" fill="#ffffff"/><rect x="591.03" y="176.81" width="13.02" height="12.98" fill="#f9e9e6"/><rect x="150.00" y="189.74" width="13.02" height="12.98" fill="#f7f4fb"/><rect x="162.97" y="189.74" width="13.02" height="12.98" fill="#ffffff"/><rect x="175.94" y="189.74" width="13.02" height="12.98" fill="#ffffff"/><rect x="188.91" y="189.74" width="13.02" height="12.98" fill="#f7f4fb"/><rect x="201.89" y="189.74" width="13.02" height="12.98" fill="#ffffff"/><rect x="214.86" y="189.74" width="13.02" height="12.98" fill="#f7f4fb"/><rect x="227.83" y="189.74" width="13.02" height="12.98" fill="#f7f4fb"/><rect x="240.80" y="189.74" width="13.02" height="12.98" fill="#f7f4fb"/><rect x="253.77" y="189.74" width="13.02" height="12.98" fill="#ffffff"/><rect x="266.74" y="189.74" width="13.02" height="12.98" fill="#ffffff"/><rect x="279.71" y="189.74" width="13.02" height="12.98" fill="#f7f4fb"/><rect x="292.69" y="189.74" width="13.02" height="12.98" fill="#ffffff"/><rect x="305.66" y="189.74" width="13.02" height="12.98" fill="#f9e9e6"/><rect x="318.63" y="189.74" width="13.02" height="12.98" fill="#ffffff"/><rect x="331.60" y="189.74" width="13.02" height="12.98" fill="#eee7f7"/><rect x="344.57" y="189.74" width="13.02" height="12.98" fill="#f9e9e6"/><rect x="357.54" y="189.74" width="13.02" height="12.98" fill="#ffffff"/><rect x="370.51" y="189.74" width="13.02" height="12.98" fill="#fcf5f4"/><rect x="383.49" y="189.74" width="13.02" height="12.98" fill="#dacdee"/><rect x="396.46" y="189.74" width="13.02" height="12.98" fill="#dacdee"/><rect x="409.43" y="189.74" width="13.02" height="12.98" fill="#fcf5f4"/><rect x="422.40" y="189.74" width="13.02" height="12.98" fill="#fcf5f4"/><rect x="435.37" y="189.74" width="13.02" height="12.98" fill="#fcf5f4"/><rect x="448.34" y="189.74" width="13.02" height="12.98" fill="#f9e9e6"/><rect x="461.31" y="189.74" width="13.02" height="12.98" fill="#eee7f7"/><rect x="474.29" y="189.74" width="13.02" height="12.98" fill="#fcf5f4"/><rect x="487.26" y="189.74" width="13.02" height="12.98" fill="#ffffff"/><rect x="500.23" y="189.74" width="13.02" height="12.98" fill="#eee7f7"/><rect x="513.20" y="189.74" width="13.02" height="12.98" fill="#ffffff"/><rect x="526.17" y="189.74" width="13.02" height="12.98" fill="#eee7f7"/><rect x="539.14" y="189.74" width="13.02" height="12.98" fill="#fcf5f4"/><rect x="552.11" y="189.74" width="13.02" height="12.98" fill="#ffffff"/><rect x="565.09" y="189.74" width="13.02" height="12.98" fill="#ffffff"/><rect x="578.06" y="189.74" width="13.02" height="12.98" fill="#ffffff"/><rect x="591.03" y="189.74" width="13.02" height="12.98" fill="#eee7f7"/><rect x="150.00" y="202.67" width="13.02" height="12.98" fill="#fcf5f4"/><rect x="162.97" y="202.67" width="13.02" height="12.98" fill="#fcf5f4"/><rect x="175.94" y="202.67" width="13.02" height="12.98" fill="#ffffff"/><rect x="188.91" y="202.67" width="13.02" height="12.98" fill="#fcf5f4"/><rect x="201.89" y="202.67" width="13.02" height="12.98" fill="#ffffff"/><rect x="214.86" y="202.67" width="13.02" height="12.98" fill="#fcf5f4"/><rect x="227.83" y="202.67" width="13.02" height="12.98" fill="#ffffff"/><rect x="240.80" y="202.67" width="13.02" height="12.98" fill="#ffffff"/><rect x="253.77" y="202.67" width="13.02" height="12.98" fill="#ffffff"/><rect x="266.74" y="202.67" width="13.02" height="12.98" fill="#ffffff"/><rect x="279.71" y="202.67" width="13.02" height="12.98" fill="#fcf5f4"/><rect x="292.69" y="202.67" width="13.02" height="12.98" fill="#ffffff"/><rect x="305.66" y="202.67" width="13.02" height="12.98" fill="#ffffff"/><rect x="318.63" y="202.67" width="13.02" height="12.98" fill="#cb7e6b"/><rect x="331.60" y="202.67" width="13.02" height="12.98" fill="#f9e9e6"/><rect x="344.57" y="202.67" width="13.02" height="12.98" fill="#ffffff"/><rect x="357.54" y="202.67" width="13.02" height="12.98" fill="#ffffff"/><rect x="370.51" y="202.67" width="13.02" height="12.98" fill="#ffffff"/><rect x="383.49" y="202.67" width="13.02" height="12.98" fill="#ffffff"/><rect x="396.46" y="202.67" width="13.02" height="12.98" fill="#ffffff"/><rect x="409.43" y="202.67" width="13.02" height="12.98" fill="#ffffff"/><rect x="422.40" y="202.67" width="13.02" height="12.98" fill="#f0d1c9"/><rect x="435.37" y="202.67" width="13.02" height="12.98" fill="#fcf5f4"/><rect x="448.34" y="202.67" width="13.02" height="12.98" fill="#f9e9e6"/><rect x="461.31" y="202.67" width="13.02" height="12.98" fill="#ffffff"/><rect x="474.29" y="202.67" width="13.02" height="12.98" fill="#ffffff"/><rect x="487.26" y="202.67" width="13.02" height="12.98" fill="#ffffff"/><rect x="500.23" y="202.67" width="13.02" height="12.98" fill="#ffffff"/><rect x="513.20" y="202.67" width="13.02" height="12.98" fill="#fcf5f4"/><rect x="526.17" y="202.67" width="13.02" height="12.98" fill="#ffffff"/><rect x="539.14" y="202.67" width="13.02" height="12.98" fill="#ffffff"/><rect x="552.11" y="202.67" width="13.02" height="12.98" fill="#fcf5f4"/><rect x="565.09" y="202.67" width="13.02" height="12.98" fill="#ffffff"/><rect x="578.06" y="202.67" width="13.02" height="12.98" fill="#ffffff"/><rect x="591.03" y="202.67" width="13.02" height="12.98" fill="#fcf5f4"/><path d="M150.00 21.65V215.60M162.97 21.65V215.60M175.94 21.65V215.60M188.91 21.65V215.60M201.89 21.65V215.60M214.86 21.65V215.60M227.83 21.65V215.60M240.80 21.65V215.60M253.77 21.65V215.60M266.74 21.65V215.60M279.71 21.65V215.60M292.69 21.65V215.60M305.66 21.65V215.60M318.63 21.65V215.60M331.60 21.65V215.60M344.57 21.65V215.60M357.54 21.65V215.60M370.51 21.65V215.60M383.49 21.65V215.60M396.46 21.65V215.60M409.43 21.65V215.60M422.40 21.65V215.60M435.37 21.65V215.60M448.34 21.65V215.60M461.31 21.65V215.60M474.29 21.65V215.60M487.26 21.65V215.60M500.23 21.65V215.60M513.20 21.65V215.60M526.17 21.65V215.60M539.14 21.65V215.60M552.11 21.65V215.60M565.09 21.65V215.60M578.06 21.65V215.60M591.03 21.65V215.60M604.00 21.65V215.60M150.00 21.65H604.00M150.00 34.58H604.00M150.00 47.51H604.00M150.00 60.44H604.00M150.00 73.37H604.00M150.00 86.30H604.00M150.00 99.23H604.00M150.00 112.16H604.00M150.00 125.09H604.00M150.00 138.02H604.00M150.00 150.95H604.00M150.00 163.88H604.00M150.00 176.81H604.00M150.00 189.74H604.00M150.00 202.67H604.00M150.00 215.60H604.00" stroke="#5a5a5a" stroke-width="0.75" fill="none"/><rect x="213.26" y="21.65" width="3.2" height="193.95" fill="#000"/><rect x="602.20" y="21.65" width="1.8" height="193.95" fill="#000"/><path d="M150.00 21.65V215.60H604.00" stroke="#262626" stroke-width="0.7" fill="none"/><text x="144.30" y="31.51" font-size="9.65" fill="#4d4d4d" class="ax" text-anchor="end">GPS_distanceFromHome</text><text x="144.30" y="44.45" font-size="9.65" fill="#4d4d4d" class="ax" text-anchor="end">GPS_radiusMobility</text><text x="144.30" y="57.38" font-size="9.65" fill="#4d4d4d" class="ax" text-anchor="end">GPS_percentAtHome</text><text x="144.30" y="70.31" font-size="9.65" fill="#4d4d4d" class="ax" text-anchor="end">GPS_missingHours</text><text x="144.30" y="83.24" font-size="9.65" fill="#4d4d4d" class="ax" text-anchor="end">acc_daily</text><text x="144.30" y="96.16" font-size="9.65" fill="#4d4d4d" class="ax" text-anchor="end">pow_daily</text><text x="144.30" y="109.09" font-size="9.65" fill="#4d4d4d" class="ax" text-anchor="end">Phone_SleepOnset</text><text x="144.30" y="122.03" font-size="9.65" fill="#4d4d4d" class="ax" text-anchor="end">Phone_SleepOffset</text><text x="144.30" y="134.96" font-size="9.65" fill="#4d4d4d" class="ax" text-anchor="end">Phone_UseDifferenceWakeSleep</text><text x="144.30" y="147.88" font-size="9.65" fill="#4d4d4d" class="ax" text-anchor="end">Phone_UseDuringSleep</text><text x="144.30" y="160.81" font-size="9.65" fill="#4d4d4d" class="ax" text-anchor="end">Phone_SleepDuration</text><text x="144.30" y="173.75" font-size="9.65" fill="#4d4d4d" class="ax" text-anchor="end">Phone_UseDuringWake</text><text x="144.30" y="186.68" font-size="9.65" fill="#4d4d4d" class="ax" text-anchor="end">GPS_numberofPlaces</text><text x="144.30" y="199.61" font-size="9.65" fill="#4d4d4d" class="ax" text-anchor="end">weekday</text><text x="144.30" y="212.53" font-size="9.65" fill="#4d4d4d" class="ax" text-anchor="end">Phone_missing</text><text x="0" y="0" font-size="9.65" fill="#4d4d4d" class="ax" text-anchor="end" transform="translate(161.19 226.60) rotate(-45)">SUB1</text><text x="0" y="0" font-size="9.65" fill="#4d4d4d" class="ax" text-anchor="end" transform="translate(174.16 226.60) rotate(-45)">SUB35</text><text x="0" y="0" font-size="9.65" fill="#4d4d4d" class="ax" text-anchor="end" transform="translate(187.13 226.60) rotate(-45)">SUB59</text><text x="0" y="0" font-size="9.65" fill="#4d4d4d" class="ax" text-anchor="end" transform="translate(200.10 226.60) rotate(-45)">SUB65</text><text x="0" y="0" font-size="9.65" fill="#4d4d4d" class="ax" text-anchor="end" transform="translate(213.07 226.60) rotate(-45)">SUB66</text><text x="0" y="0" font-size="9.65" fill="#4d4d4d" class="ax" text-anchor="end" transform="translate(226.04 226.60) rotate(-45)">SUB2</text><text x="0" y="0" font-size="9.65" fill="#4d4d4d" class="ax" text-anchor="end" transform="translate(239.01 226.60) rotate(-45)">SUB4</text><text x="0" y="0" font-size="9.65" fill="#4d4d4d" class="ax" text-anchor="end" transform="translate(251.99 226.60) rotate(-45)">SUB6</text><text x="0" y="0" font-size="9.65" fill="#4d4d4d" class="ax" text-anchor="end" transform="translate(264.96 226.60) rotate(-45)">SUB7</text><text x="0" y="0" font-size="9.65" fill="#4d4d4d" class="ax" text-anchor="end" transform="translate(277.93 226.60) rotate(-45)">SUB8</text><text x="0" y="0" font-size="9.65" fill="#4d4d4d" class="ax" text-anchor="end" transform="translate(290.90 226.60) rotate(-45)">SUB10</text><text x="0" y="0" font-size="9.65" fill="#4d4d4d" class="ax" text-anchor="end" transform="translate(303.87 226.60) rotate(-45)">SUB12</text><text x="0" y="0" font-size="9.65" fill="#4d4d4d" class="ax" text-anchor="end" transform="translate(316.84 226.60) rotate(-45)">SUB15</text><text x="0" y="0" font-size="9.65" fill="#4d4d4d" class="ax" text-anchor="end" transform="translate(329.81 226.60) rotate(-45)">SUB16</text><text x="0" y="0" font-size="9.65" fill="#4d4d4d" class="ax" text-anchor="end" transform="translate(342.79 226.60) rotate(-45)">SUB17</text><text x="0" y="0" font-size="9.65" fill="#4d4d4d" class="ax" text-anchor="end" transform="translate(355.76 226.60) rotate(-45)">SUB18</text><text x="0" y="0" font-size="9.65" fill="#4d4d4d" class="ax" text-anchor="end" transform="translate(368.73 226.60) rotate(-45)">SUB19</text><text x="0" y="0" font-size="9.65" fill="#4d4d4d" class="ax" text-anchor="end" transform="translate(381.70 226.60) rotate(-45)">SUB20</text><text x="0" y="0" font-size="9.65" fill="#4d4d4d" class="ax" text-anchor="end" transform="translate(394.67 226.60) rotate(-45)">SUB21</text><text x="0" y="0" font-size="9.65" fill="#4d4d4d" class="ax" text-anchor="end" transform="translate(407.64 226.60) rotate(-45)">SUB24</text><text x="0" y="0" font-size="9.65" fill="#4d4d4d" class="ax" text-anchor="end" transform="translate(420.61 226.60) rotate(-45)">SUB26</text><text x="0" y="0" font-size="9.65" fill="#4d4d4d" class="ax" text-anchor="end" transform="translate(433.59 226.60) rotate(-45)">SUB27</text><text x="0" y="0" font-size="9.65" fill="#4d4d4d" class="ax" text-anchor="end" transform="translate(446.56 226.60) rotate(-45)">SUB30</text><text x="0" y="0" font-size="9.65" fill="#4d4d4d" class="ax" text-anchor="end" transform="translate(459.53 226.60) rotate(-45)">SUB34</text><text x="0" y="0" font-size="9.65" fill="#4d4d4d" class="ax" text-anchor="end" transform="translate(472.50 226.60) rotate(-45)">SUB36</text><text x="0" y="0" font-size="9.65" fill="#4d4d4d" class="ax" text-anchor="end" transform="translate(485.47 226.60) rotate(-45)">SUB40</text><text x="0" y="0" font-size="9.65" fill="#4d4d4d" class="ax" text-anchor="end" transform="translate(498.44 226.60) rotate(-45)">SUB41</text><text x="0" y="0" font-size="9.65" fill="#4d4d4d" class="ax" text-anchor="end" transform="translate(511.41 226.60) rotate(-45)">SUB46</text><text x="0" y="0" font-size="9.65" fill="#4d4d4d" class="ax" text-anchor="end" transform="translate(524.39 226.60) rotate(-45)">SUB52</text><text x="0" y="0" font-size="9.65" fill="#4d4d4d" class="ax" text-anchor="end" transform="translate(537.36 226.60) rotate(-45)">SUB53</text><text x="0" y="0" font-size="9.65" fill="#4d4d4d" class="ax" text-anchor="end" transform="translate(550.33 226.60) rotate(-45)">SUB55</text><text x="0" y="0" font-size="9.65" fill="#4d4d4d" class="ax" text-anchor="end" transform="translate(563.30 226.60) rotate(-45)">SUB61</text><text x="0" y="0" font-size="9.65" fill="#4d4d4d" class="ax" text-anchor="end" transform="translate(576.27 226.60) rotate(-45)">SUB67</text><text x="0" y="0" font-size="9.65" fill="#4d4d4d" class="ax" text-anchor="end" transform="translate(589.24 226.60) rotate(-45)">SUB68</text><text x="0" y="0" font-size="9.65" fill="#4d4d4d" class="ax" text-anchor="end" transform="translate(602.21 226.60) rotate(-45)">SUB70</text><path d="M146.40 28.11H150.00M146.40 41.05H150.00M146.40 53.98H150.00M146.40 66.91H150.00M146.40 79.84H150.00M146.40 92.76H150.00M146.40 105.69H150.00M146.40 118.62H150.00M146.40 131.56H150.00M146.40 144.48H150.00M146.40 157.41H150.00M146.40 170.34H150.00M146.40 183.28H150.00M146.40 196.21H150.00M146.40 209.13H150.00M156.49 215.60V219.30M169.46 215.60V219.30M182.43 215.60V219.30M195.40 215.60V219.30M208.37 215.60V219.30M221.34 215.60V219.30M234.31 215.60V219.30M247.29 215.60V219.30M260.26 215.60V219.30M273.23 215.60V219.30M286.20 215.60V219.30M299.17 215.60V219.30M312.14 215.60V219.30M325.11 215.60V219.30M338.09 215.60V219.30M351.06 215.60V219.30M364.03 215.60V219.30M377.00 215.60V219.30M389.97 215.60V219.30M402.94 215.60V219.30M415.91 215.60V219.30M428.89 215.60V219.30M441.86 215.60V219.30M454.83 215.60V219.30M467.80 215.60V219.30M480.77 215.60V219.30M493.74 215.60V219.30M506.71 215.60V219.30M519.69 215.60V219.30M532.66 215.60V219.30M545.63 215.60V219.30M558.60 215.60V219.30M571.57 215.60V219.30M584.54 215.60V219.30M597.51 215.60V219.30" stroke="#2b2b2b" stroke-width="1.2" fill="none"/><text x="150.70" y="271.20" font-size="14.0" fill="#000" class="tt">Feature Importance: Irritable</text><rect x="151.30" y="280.00" width="12.64" height="12.59" fill="#9e2f1e"/><rect x="163.89" y="280.00" width="12.64" height="12.59" fill="#cb7e6b"/><rect x="176.47" y="280.00" width="12.64" height="12.59" fill="#f9e9e6"/><rect x="189.06" y="280.00" width="12.64" height="12.59" fill="#d89787"/><rect x="201.64" y="280.00" width="12.64" height="12.59" fill="#bd6450"/><rect x="214.23" y="280.00" width="12.64" height="12.59" fill="#f0d1c9"/><rect x="226.82" y="280.00" width="12.64" height="12.59" fill="#e6b5a9"/><rect x="239.40" y="280.00" width="12.64" height="12.59" fill="#cb7e6b"/><rect x="251.99" y="280.00" width="12.64" height="12.59" fill="#cb7e6b"/><rect x="264.57" y="280.00" width="12.64" height="12.59" fill="#cb7e6b"/><rect x="277.16" y="280.00" width="12.64" height="12.59" fill="#f0d1c9"/><rect x="289.75" y="280.00" width="12.64" height="12.59" fill="#dacdee"/><rect x="302.33" y="280.00" width="12.64" height="12.59" fill="#c4afe3"/><rect x="314.92" y="280.00" width="12.64" height="12.59" fill="#e6b5a9"/><rect x="327.51" y="280.00" width="12.64" height="12.59" fill="#eee7f7"/><rect x="340.09" y="280.00" width="12.64" height="12.59" fill="#6240b7"/><rect x="352.68" y="280.00" width="12.64" height="12.59" fill="#9374cc"/><rect x="365.26" y="280.00" width="12.64" height="12.59" fill="#eee7f7"/><rect x="377.85" y="280.00" width="12.64" height="12.59" fill="#c4afe3"/><rect x="390.44" y="280.00" width="12.64" height="12.59" fill="#4525ac"/><rect x="403.02" y="280.00" width="12.64" height="12.59" fill="#c4afe3"/><rect x="415.61" y="280.00" width="12.64" height="12.59" fill="#dacdee"/><rect x="428.19" y="280.00" width="12.64" height="12.59" fill="#ae4b37"/><rect x="440.78" y="280.00" width="12.64" height="12.59" fill="#c4afe3"/><rect x="453.37" y="280.00" width="12.64" height="12.59" fill="#aa8fd7"/><rect x="465.95" y="280.00" width="12.64" height="12.59" fill="#c4afe3"/><rect x="478.54" y="280.00" width="12.64" height="12.59" fill="#f0d1c9"/><rect x="491.12" y="280.00" width="12.64" height="12.59" fill="#dacdee"/><rect x="503.71" y="280.00" width="12.64" height="12.59" fill="#aa8fd7"/><rect x="516.30" y="280.00" width="12.64" height="12.59" fill="#4525ac"/><rect x="528.88" y="280.00" width="12.64" height="12.59" fill="#6240b7"/><rect x="541.47" y="280.00" width="12.64" height="12.59" fill="#6240b7"/><rect x="554.06" y="280.00" width="12.64" height="12.59" fill="#6240b7"/><rect x="566.64" y="280.00" width="12.64" height="12.59" fill="#6240b7"/><rect x="579.23" y="280.00" width="12.64" height="12.59" fill="#aa8fd7"/><rect x="591.81" y="280.00" width="12.64" height="12.59" fill="#c4afe3"/><rect x="151.30" y="292.54" width="12.64" height="12.59" fill="#aa8fd7"/><rect x="163.89" y="292.54" width="12.64" height="12.59" fill="#eee7f7"/><rect x="176.47" y="292.54" width="12.64" height="12.59" fill="#f9e9e6"/><rect x="189.06" y="292.54" width="12.64" height="12.59" fill="#aa8fd7"/><rect x="201.64" y="292.54" width="12.64" height="12.59" fill="#cb7e6b"/><rect x="214.23" y="292.54" width="12.64" height="12.59" fill="#aa8fd7"/><rect x="226.82" y="292.54" width="12.64" height="12.59" fill="#c4afe3"/><rect x="239.40" y="292.54" width="12.64" height="12.59" fill="#9374cc"/><rect x="251.99" y="292.54" width="12.64" height="12.59" fill="#d89787"/><rect x="264.57" y="292.54" width="12.64" height="12.59" fill="#9374cc"/><rect x="277.16" y="292.54" width="12.64" height="12.59" fill="#f0d1c9"/><rect x="289.75" y="292.54" width="12.64" height="12.59" fill="#ffffff"/><rect x="302.33" y="292.54" width="12.64" height="12.59" fill="#f0d1c9"/><rect x="314.92" y="292.54" width="12.64" height="12.59" fill="#ffffff"/><rect x="327.51" y="292.54" width="12.64" height="12.59" fill="#f9e9e6"/><rect x="340.09" y="292.54" width="12.64" height="12.59" fill="#361aa8"/><rect x="352.68" y="292.54" width="12.64" height="12.59" fill="#9374cc"/><rect x="365.26" y="292.54" width="12.64" height="12.59" fill="#e6b5a9"/><rect x="377.85" y="292.54" width="12.64" height="12.59" fill="#bd6450"/><rect x="390.44" y="292.54" width="12.64" height="12.59" fill="#9e2f1e"/><rect x="403.02" y="292.54" width="12.64" height="12.59" fill="#f9e9e6"/><rect x="415.61" y="292.54" width="12.64" height="12.59" fill="#e6b5a9"/><rect x="428.19" y="292.54" width="12.64" height="12.59" fill="#bd6450"/><rect x="440.78" y="292.54" width="12.64" height="12.59" fill="#f9e9e6"/><rect x="453.37" y="292.54" width="12.64" height="12.59" fill="#aa8fd7"/><rect x="465.95" y="292.54" width="12.64" height="12.59" fill="#fcf5f4"/><rect x="478.54" y="292.54" width="12.64" height="12.59" fill="#d89787"/><rect x="491.12" y="292.54" width="12.64" height="12.59" fill="#eee7f7"/><rect x="503.71" y="292.54" width="12.64" height="12.59" fill="#eee7f7"/><rect x="516.30" y="292.54" width="12.64" height="12.59" fill="#9e2f1e"/><rect x="528.88" y="292.54" width="12.64" height="12.59" fill="#9374cc"/><rect x="541.47" y="292.54" width="12.64" height="12.59" fill="#6240b7"/><rect x="554.06" y="292.54" width="12.64" height="12.59" fill="#aa8fd7"/><rect x="566.64" y="292.54" width="12.64" height="12.59" fill="#c4afe3"/><rect x="579.23" y="292.54" width="12.64" height="12.59" fill="#0f00a0"/><rect x="591.81" y="292.54" width="12.64" height="12.59" fill="#9374cc"/><rect x="151.30" y="305.08" width="12.64" height="12.59" fill="#6240b7"/><rect x="163.89" y="305.08" width="12.64" height="12.59" fill="#dacdee"/><rect x="176.47" y="305.08" width="12.64" height="12.59" fill="#dacdee"/><rect x="189.06" y="305.08" width="12.64" height="12.59" fill="#c4afe3"/><rect x="201.64" y="305.08" width="12.64" height="12.59" fill="#d89787"/><rect x="214.23" y="305.08" width="12.64" height="12.59" fill="#f0d1c9"/><rect x="226.82" y="305.08" width="12.64" height="12.59" fill="#dacdee"/><rect x="239.40" y="305.08" width="12.64" height="12.59" fill="#e6b5a9"/><rect x="251.99" y="305.08" width="12.64" height="12.59" fill="#d89787"/><rect x="264.57" y="305.08" width="12.64" height="12.59" fill="#e6b5a9"/><rect x="277.16" y="305.08" width="12.64" height="12.59" fill="#c4afe3"/><rect x="289.75" y="305.08" width="12.64" height="12.59" fill="#dacdee"/><rect x="302.33" y="305.08" width="12.64" height="12.59" fill="#f9e9e6"/><rect x="314.92" y="305.08" width="12.64" height="12.59" fill="#f9e9e6"/><rect x="327.51" y="305.08" width="12.64" height="12.59" fill="#c4afe3"/><rect x="340.09" y="305.08" width="12.64" height="12.59" fill="#aa8fd7"/><rect x="352.68" y="305.08" width="12.64" height="12.59" fill="#9374cc"/><rect x="365.26" y="305.08" width="12.64" height="12.59" fill="#f9e9e6"/><rect x="377.85" y="305.08" width="12.64" height="12.59" fill="#f9e9e6"/><rect x="390.44" y="305.08" width="12.64" height="12.59" fill="#cb7e6b"/><rect x="403.02" y="305.08" width="12.64" height="12.59" fill="#c4afe3"/><rect x="415.61" y="305.08" width="12.64" height="12.59" fill="#f0d1c9"/><rect x="428.19" y="305.08" width="12.64" height="12.59" fill="#9374cc"/><rect x="440.78" y="305.08" width="12.64" height="12.59" fill="#eee7f7"/><rect x="453.37" y="305.08" width="12.64" height="12.59" fill="#dacdee"/><rect x="465.95" y="305.08" width="12.64" height="12.59" fill="#c4afe3"/><rect x="478.54" y="305.08" width="12.64" height="12.59" fill="#fcf5f4"/><rect x="491.12" y="305.08" width="12.64" height="12.59" fill="#dacdee"/><rect x="503.71" y="305.08" width="12.64" height="12.59" fill="#f0d1c9"/><rect x="516.30" y="305.08" width="12.64" height="12.59" fill="#bd6450"/><rect x="528.88" y="305.08" width="12.64" height="12.59" fill="#fcf5f4"/><rect x="541.47" y="305.08" width="12.64" height="12.59" fill="#d89787"/><rect x="554.06" y="305.08" width="12.64" height="12.59" fill="#cb7e6b"/><rect x="566.64" y="305.08" width="12.64" height="12.59" fill="#cb7e6b"/><rect x="579.23" y="305.08" width="12.64" height="12.59" fill="#9e2f1e"/><rect x="591.81" y="305.08" width="12.64" height="12.59" fill="#d89787"/><rect x="151.30" y="317.62" width="12.64" height="12.59" fill="#9e2f1e"/><rect x="163.89" y="317.62" width="12.64" height="12.59" fill="#d89787"/><rect x="176.47" y="317.62" width="12.64" height="12.59" fill="#f0d1c9"/><rect x="189.06" y="317.62" width="12.64" height="12.59" fill="#f7f4fb"/><rect x="201.64" y="317.62" width="12.64" height="12.59" fill="#eee7f7"/><rect x="214.23" y="317.62" width="12.64" height="12.59" fill="#f9e9e6"/><rect x="226.82" y="317.62" width="12.64" height="12.59" fill="#ffffff"/><rect x="239.40" y="317.62" width="12.64" height="12.59" fill="#f0d1c9"/><rect x="251.99" y="317.62" width="12.64" height="12.59" fill="#e6b5a9"/><rect x="264.57" y="317.62" width="12.64" height="12.59" fill="#cb7e6b"/><rect x="277.16" y="317.62" width="12.64" height="12.59" fill="#eee7f7"/><rect x="289.75" y="317.62" width="12.64" height="12.59" fill="#f0d1c9"/><rect x="302.33" y="317.62" width="12.64" height="12.59" fill="#c4afe3"/><rect x="314.92" y="317.62" width="12.64" height="12.59" fill="#c4afe3"/><rect x="327.51" y="317.62" width="12.64" height="12.59" fill="#f0d1c9"/><rect x="340.09" y="317.62" width="12.64" height="12.59" fill="#cb7e6b"/><rect x="352.68" y="317.62" width="12.64" height="12.59" fill="#f7f4fb"/><rect x="365.26" y="317.62" width="12.64" height="12.59" fill="#c4afe3"/><rect x="377.85" y="317.62" width="12.64" height="12.59" fill="#f0d1c9"/><rect x="390.44" y="317.62" width="12.64" height="12.59" fill="#eee7f7"/><rect x="403.02" y="317.62" width="12.64" height="12.59" fill="#dacdee"/><rect x="415.61" y="317.62" width="12.64" height="12.59" fill="#c4afe3"/><rect x="428.19" y="317.62" width="12.64" height="12.59" fill="#9374cc"/><rect x="440.78" y="317.62" width="12.64" height="12.59" fill="#f0d1c9"/><rect x="453.37" y="317.62" width="12.64" height="12.59" fill="#ffffff"/><rect x="465.95" y="317.62" width="12.64" height="12.59" fill="#c4afe3"/><rect x="478.54" y="317.62" width="12.64" height="12.59" fill="#eee7f7"/><rect x="491.12" y="317.62" width="12.64" height="12.59" fill="#d89787"/><rect x="503.71" y="317.62" width="12.64" height="12.59" fill="#e6b5a9"/><rect x="516.30" y="317.62" width="12.64" height="12.59" fill="#4525ac"/><rect x="528.88" y="317.62" width="12.64" height="12.59" fill="#c4afe3"/><rect x="541.47" y="317.62" width="12.64" height="12.59" fill="#eee7f7"/><rect x="554.06" y="317.62" width="12.64" height="12.59" fill="#f9e9e6"/><rect x="566.64" y="317.62" width="12.64" height="12.59" fill="#eee7f7"/><rect x="579.23" y="317.62" width="12.64" height="12.59" fill="#4525ac"/><rect x="591.81" y="317.62" width="12.64" height="12.59" fill="#7c5ac2"/><rect x="151.30" y="330.16" width="12.64" height="12.59" fill="#e6b5a9"/><rect x="163.89" y="330.16" width="12.64" height="12.59" fill="#e6b5a9"/><rect x="176.47" y="330.16" width="12.64" height="12.59" fill="#fcf5f4"/><rect x="189.06" y="330.16" width="12.64" height="12.59" fill="#e6b5a9"/><rect x="201.64" y="330.16" width="12.64" height="12.59" fill="#d89787"/><rect x="214.23" y="330.16" width="12.64" height="12.59" fill="#d89787"/><rect x="226.82" y="330.16" width="12.64" height="12.59" fill="#eee7f7"/><rect x="239.40" y="330.16" width="12.64" height="12.59" fill="#bd6450"/><rect x="251.99" y="330.16" width="12.64" height="12.59" fill="#f9e9e6"/><rect x="264.57" y="330.16" width="12.64" height="12.59" fill="#f0d1c9"/><rect x="277.16" y="330.16" width="12.64" height="12.59" fill="#e6b5a9"/><rect x="289.75" y="330.16" width="12.64" height="12.59" fill="#d89787"/><rect x="302.33" y="330.16" width="12.64" height="12.59" fill="#d89787"/><rect x="314.92" y="330.16" width="12.64" height="12.59" fill="#ffffff"/><rect x="327.51" y="330.16" width="12.64" height="12.59" fill="#e6b5a9"/><rect x="340.09" y="330.16" width="12.64" height="12.59" fill="#f0d1c9"/><rect x="352.68" y="330.16" width="12.64" height="12.59" fill="#bd6450"/><rect x="365.26" y="330.16" width="12.64" height="12.59" fill="#f7f4fb"/><rect x="377.85" y="330.16" width="12.64" height="12.59" fill="#d89787"/><rect x="390.44" y="330.16" width="12.64" height="12.59" fill="#cb7e6b"/><rect x="403.02" y="330.16" width="12.64" height="12.59" fill="#e6b5a9"/><rect x="415.61" y="330.16" width="12.64" height="12.59" fill="#f9e9e6"/><rect x="428.19" y="330.16" width="12.64" height="12.59" fill="#f9e9e6"/><rect x="440.78" y="330.16" width="12.64" height="12.59" fill="#e6b5a9"/><rect x="453.37" y="330.16" width="12.64" height="12.59" fill="#ffffff"/><rect x="465.95" y="330.16" width="12.64" height="12.59" fill="#fcf5f4"/><rect x="478.54" y="330.16" width="12.64" height="12.59" fill="#e6b5a9"/><rect x="491.12" y="330.16" width="12.64" height="12.59" fill="#f9e9e6"/><rect x="503.71" y="330.16" width="12.64" height="12.59" fill="#e6b5a9"/><rect x="516.30" y="330.16" width="12.64" height="12.59" fill="#dacdee"/><rect x="528.88" y="330.16" width="12.64" height="12.59" fill="#e6b5a9"/><rect x="541.47" y="330.16" width="12.64" height="12.59" fill="#cb7e6b"/><rect x="554.06" y="330.16" width="12.64" height="12.59" fill="#bd6450"/><rect x="566.64" y="330.16" width="12.64" height="12.59" fill="#fcf5f4"/><rect x="579.23" y="330.16" width="12.64" height="12.59" fill="#aa8fd7"/><rect x="591.81" y="330.16" width="12.64" height="12.59" fill="#dacdee"/><rect x="151.30" y="342.70" width="12.64" height="12.59" fill="#ffffff"/><rect x="163.89" y="342.70" width="12.64" height="12.59" fill="#fcf5f4"/><rect x="176.47" y="342.70" width="12.64" height="12.59" fill="#ffffff"/><rect x="189.06" y="342.70" width="12.64" height="12.59" fill="#f9e9e6"/><rect x="201.64" y="342.70" width="12.64" height="12.59" fill="#fcf5f4"/><rect x="214.23" y="342.70" width="12.64" height="12.59" fill="#fcf5f4"/><rect x="226.82" y="342.70" width="12.64" height="12.59" fill="#e6b5a9"/><rect x="239.40" y="342.70" width="12.64" height="12.59" fill="#eee7f7"/><rect x="251.99" y="342.70" width="12.64" height="12.59" fill="#f9e9e6"/><rect x="264.57" y="342.70" width="12.64" height="12.59" fill="#f0d1c9"/><rect x="277.16" y="342.70" width="12.64" height="12.59" fill="#e6b5a9"/><rect x="289.75" y="342.70" width="12.64" height="12.59" fill="#e6b5a9"/><rect x="302.33" y="342.70" width="12.64" height="12.59" fill="#f9e9e6"/><rect x="314.92" y="342.70" width="12.64" height="12.59" fill="#e6b5a9"/><rect x="327.51" y="342.70" width="12.64" height="12.59" fill="#e6b5a9"/><rect x="340.09" y="342.70" width="12.64" height="12.59" fill="#f9e9e6"/><rect x="352.68" y="342.70" width="12.64" height="12.59" fill="#f0d1c9"/><rect x="365.26" y="342.70" width="12.64" height="12.59" fill="#c4afe3"/><rect x="377.85" y="342.70" width="12.64" height="12.59" fill="#fcf5f4"/><rect x="390.44" y="342.70" width="12.64" height="12.59" fill="#f9e9e6"/><rect x="403.02" y="342.70" width="12.64" height="12.59" fill="#ffffff"/><rect x="415.61" y="342.70" width="12.64" height="12.59" fill="#fcf5f4"/><rect x="428.19" y="342.70" width="12.64" height="12.59" fill="#eee7f7"/><rect x="440.78" y="342.70" width="12.64" height="12.59" fill="#f0d1c9"/><rect x="453.37" y="342.70" width="12.64" height="12.59" fill="#f0d1c9"/><rect x="465.95" y="342.70" width="12.64" height="12.59" fill="#f9e9e6"/><rect x="478.54" y="342.70" width="12.64" height="12.59" fill="#f9e9e6"/><rect x="491.12" y="342.70" width="12.64" height="12.59" fill="#f7f4fb"/><rect x="503.71" y="342.70" width="12.64" height="12.59" fill="#e6b5a9"/><rect x="516.30" y="342.70" width="12.64" height="12.59" fill="#fcf5f4"/><rect x="528.88" y="342.70" width="12.64" height="12.59" fill="#f9e9e6"/><rect x="541.47" y="342.70" width="12.64" height="12.59" fill="#f9e9e6"/><rect x="554.06" y="342.70" width="12.64" height="12.59" fill="#f0d1c9"/><rect x="566.64" y="342.70" width="12.64" height="12.59" fill="#fcf5f4"/><rect x="579.23" y="342.70" width="12.64" height="12.59" fill="#ffffff"/><rect x="591.81" y="342.70" width="12.64" height="12.59" fill="#f0d1c9"/><rect x="151.30" y="355.24" width="12.64" height="12.59" fill="#fcf5f4"/><rect x="163.89" y="355.24" width="12.64" height="12.59" fill="#f0d1c9"/><rect x="176.47" y="355.24" width="12.64" height="12.59" fill="#f0d1c9"/><rect x="189.06" y="355.24" width="12.64" height="12.59" fill="#eee7f7"/><rect x="201.64" y="355.24" width="12.64" height="12.59" fill="#f0d1c9"/><rect x="214.23" y="355.24" width="12.64" height="12.59" fill="#fcf5f4"/><rect x="226.82" y="355.24" width="12.64" height="12.59" fill="#e6b5a9"/><rect x="239.40" y="355.24" width="12.64" height="12.59" fill="#eee7f7"/><rect x="251.99" y="355.24" width="12.64" height="12.59" fill="#f9e9e6"/><rect x="264.57" y="355.24" width="12.64" height="12.59" fill="#f9e9e6"/><rect x="277.16" y="355.24" width="12.64" height="12.59" fill="#fcf5f4"/><rect x="289.75" y="355.24" width="12.64" height="12.59" fill="#f0d1c9"/><rect x="302.33" y="355.24" width="12.64" height="12.59" fill="#f0d1c9"/><rect x="314.92" y="355.24" width="12.64" height="12.59" fill="#e6b5a9"/><rect x="327.51" y="355.24" width="12.64" height="12.59" fill="#e6b5a9"/><rect x="340.09" y="355.24" width="12.64" height="12.59" fill="#ffffff"/><rect x="352.68" y="355.24" width="12.64" height="12.59" fill="#f0d1c9"/><rect x="365.26" y="355.24" width="12.64" height="12.59" fill="#ffffff"/><rect x="377.85" y="355.24" width="12.64" height="12.59" fill="#eee7f7"/><rect x="390.44" y="355.24" width="12.64" height="12.59" fill="#f9e9e6"/><rect x="403.02" y="355.24" width="12.64" height="12.59" fill="#f9e9e6"/><rect x="415.61" y="355.24" width="12.64" height="12.59" fill="#f9e9e6"/><rect x="428.19" y="355.24" width="12.64" height="12.59" fill="#fcf5f4"/><rect x="440.78" y="355.24" width="12.64" height="12.59" fill="#ffffff"/><rect x="453.37" y="355.24" width="12.64" height="12.59" fill="#eee7f7"/><rect x="465.95" y="355.24" width="12.64" height="12.59" fill="#f0d1c9"/><rect x="478.54" y="355.24" width="12.64" height="12.59" fill="#ffffff"/><rect x="491.12" y="355.24" width="12.64" height="12.59" fill="#fcf5f4"/><rect x="503.71" y="355.24" width="12.64" height="12.59" fill="#f9e9e6"/><rect x="516.30" y="355.24" width="12.64" height="12.59" fill="#eee7f7"/><rect x="528.88" y="355.24" width="12.64" height="12.59" fill="#fcf5f4"/><rect x="541.47" y="355.24" width="12.64" height="12.59" fill="#f9e9e6"/><rect x="554.06" y="355.24" width="12.64" height="12.59" fill="#f0d1c9"/><rect x="566.64" y="355.24" width="12.64" height="12.59" fill="#eee7f7"/><rect x="579.23" y="355.24" width="12.64" height="12.59" fill="#eee7f7"/><rect x="591.81" y="355.24" width="12.64" height="12.59" fill="#eee7f7"/><rect x="151.30" y="367.78" width="12.64" height="12.59" fill="#fcf5f4"/><rect x="163.89" y="367.78" width="12.64" height="12.59" fill="#dacdee"/><rect x="176.47" y="367.78" width="12.64" height="12.59" fill="#c4afe3"/><rect x="189.06" y="367.78" width="12.64" height="12.59" fill="#eee7f7"/><rect x="201.64" y="367.78" width="12.64" height="12.59" fill="#dacdee"/><rect x="214.23" y="367.78" width="12.64" height="12.59" fill="#fcf5f4"/><rect x="226.82" y="367.78" width="12.64" height="12.59" fill="#f0d1c9"/><rect x="239.40" y="367.78" width="12.64" height="12.59" fill="#f0d1c9"/><rect x="251.99" y="367.78" width="12.64" height="12.59" fill="#fcf5f4"/><rect x="264.57" y="367.78" width="12.64" height="12.59" fill="#eee7f7"/><rect x="277.16" y="367.78" width="12.64" height="12.59" fill="#dacdee"/><rect x="289.75" y="367.78" width="12.64" height="12.59" fill="#ffffff"/><rect x="302.33" y="367.78" width="12.64" height="12.59" fill="#eee7f7"/><rect x="314.92" y="367.78" width="12.64" height="12.59" fill="#ffffff"/><rect x="327.51" y="367.78" width="12.64" height="12.59" fill="#eee7f7"/><rect x="340.09" y="367.78" width="12.64" height="12.59" fill="#fcf5f4"/><rect x="352.68" y="367.78" width="12.64" height="12.59" fill="#eee7f7"/><rect x="365.26" y="367.78" width="12.64" height="12.59" fill="#eee7f7"/><rect x="377.85" y="367.78" width="12.64" height="12.59" fill="#f7f4fb"/><rect x="390.44" y="367.78" width="12.64" height="12.59" fill="#eee7f7"/><rect x="403.02" y="367.78" width="12.64" height="12.59" fill="#fcf5f4"/><rect x="415.61" y="367.78" width="12.64" height="12.59" fill="#dacdee"/><rect x="428.19" y="367.78" width="12.64" height="12.59" fill="#dacdee"/><rect x="440.78" y="367.78" width="12.64" height="12.59" fill="#f9e9e6"/><rect x="453.37" y="367.78" width="12.64" height="12.59" fill="#f9e9e6"/><rect x="465.95" y="367.78" width="12.64" height="12.59" fill="#f0d1c9"/><rect x="478.54" y="367.78" width="12.64" height="12.59" fill="#eee7f7"/><rect x="491.12" y="367.78" width="12.64" height="12.59" fill="#f9e9e6"/><rect x="503.71" y="367.78" width="12.64" height="12.59" fill="#f0d1c9"/><rect x="516.30" y="367.78" width="12.64" height="12.59" fill="#f7f4fb"/><rect x="528.88" y="367.78" width="12.64" height="12.59" fill="#eee7f7"/><rect x="541.47" y="367.78" width="12.64" height="12.59" fill="#dacdee"/><rect x="554.06" y="367.78" width="12.64" height="12.59" fill="#f9e9e6"/><rect x="566.64" y="367.78" width="12.64" height="12.59" fill="#ffffff"/><rect x="579.23" y="367.78" width="12.64" height="12.59" fill="#eee7f7"/><rect x="591.81" y="367.78" width="12.64" height="12.59" fill="#eee7f7"/><rect x="151.30" y="380.32" width="12.64" height="12.59" fill="#ffffff"/><rect x="163.89" y="380.32" width="12.64" height="12.59" fill="#dacdee"/><rect x="176.47" y="380.32" width="12.64" height="12.59" fill="#eee7f7"/><rect x="189.06" y="380.32" width="12.64" height="12.59" fill="#fcf5f4"/><rect x="201.64" y="380.32" width="12.64" height="12.59" fill="#dacdee"/><rect x="214.23" y="380.32" width="12.64" height="12.59" fill="#fcf5f4"/><rect x="226.82" y="380.32" width="12.64" height="12.59" fill="#f0d1c9"/><rect x="239.40" y="380.32" width="12.64" height="12.59" fill="#f0d1c9"/><rect x="251.99" y="380.32" width="12.64" height="12.59" fill="#ffffff"/><rect x="264.57" y="380.32" width="12.64" height="12.59" fill="#c4afe3"/><rect x="277.16" y="380.32" width="12.64" height="12.59" fill="#c4afe3"/><rect x="289.75" y="380.32" width="12.64" height="12.59" fill="#e6b5a9"/><rect x="302.33" y="380.32" width="12.64" height="12.59" fill="#dacdee"/><rect x="314.92" y="380.32" width="12.64" height="12.59" fill="#f7f4fb"/><rect x="327.51" y="380.32" width="12.64" height="12.59" fill="#cb7e6b"/><rect x="340.09" y="380.32" width="12.64" height="12.59" fill="#fcf5f4"/><rect x="352.68" y="380.32" width="12.64" height="12.59" fill="#eee7f7"/><rect x="365.26" y="380.32" width="12.64" height="12.59" fill="#dacdee"/><rect x="377.85" y="380.32" width="12.64" height="12.59" fill="#fcf5f4"/><rect x="390.44" y="380.32" width="12.64" height="12.59" fill="#ffffff"/><rect x="403.02" y="380.32" width="12.64" height="12.59" fill="#ffffff"/><rect x="415.61" y="380.32" width="12.64" height="12.59" fill="#ffffff"/><rect x="428.19" y="380.32" width="12.64" height="12.59" fill="#f7f4fb"/><rect x="440.78" y="380.32" width="12.64" height="12.59" fill="#f0d1c9"/><rect x="453.37" y="380.32" width="12.64" height="12.59" fill="#ffffff"/><rect x="465.95" y="380.32" width="12.64" height="12.59" fill="#f9e9e6"/><rect x="478.54" y="380.32" width="12.64" height="12.59" fill="#ffffff"/><rect x="491.12" y="380.32" width="12.64" height="12.59" fill="#ffffff"/><rect x="503.71" y="380.32" width="12.64" height="12.59" fill="#e6b5a9"/><rect x="516.30" y="380.32" width="12.64" height="12.59" fill="#fcf5f4"/><rect x="528.88" y="380.32" width="12.64" height="12.59" fill="#ffffff"/><rect x="541.47" y="380.32" width="12.64" height="12.59" fill="#eee7f7"/><rect x="554.06" y="380.32" width="12.64" height="12.59" fill="#f9e9e6"/><rect x="566.64" y="380.32" width="12.64" height="12.59" fill="#ffffff"/><rect x="579.23" y="380.32" width="12.64" height="12.59" fill="#ffffff"/><rect x="591.81" y="380.32" width="12.64" height="12.59" fill="#f9e9e6"/><rect x="151.30" y="392.86" width="12.64" height="12.59" fill="#ffffff"/><rect x="163.89" y="392.86" width="12.64" height="12.59" fill="#dacdee"/><rect x="176.47" y="392.86" width="12.64" height="12.59" fill="#aa8fd7"/><rect x="189.06" y="392.86" width="12.64" height="12.59" fill="#f9e9e6"/><rect x="201.64" y="392.86" width="12.64" height="12.59" fill="#eee7f7"/><rect x="214.23" y="392.86" width="12.64" height="12.59" fill="#eee7f7"/><rect x="226.82" y="392.86" width="12.64" height="12.59" fill="#f0d1c9"/><rect x="239.40" y="392.86" width="12.64" height="12.59" fill="#f0d1c9"/><rect x="251.99" y="392.86" width="12.64" height="12.59" fill="#ffffff"/><rect x="264.57" y="392.86" width="12.64" height="12.59" fill="#f9e9e6"/><rect x="277.16" y="392.86" width="12.64" height="12.59" fill="#f9e9e6"/><rect x="289.75" y="392.86" width="12.64" height="12.59" fill="#f9e9e6"/><rect x="302.33" y="392.86" width="12.64" height="12.59" fill="#eee7f7"/><rect x="314.92" y="392.86" width="12.64" height="12.59" fill="#f7f4fb"/><rect x="327.51" y="392.86" width="12.64" height="12.59" fill="#c4afe3"/><rect x="340.09" y="392.86" width="12.64" height="12.59" fill="#ffffff"/><rect x="352.68" y="392.86" width="12.64" height="12.59" fill="#f0d1c9"/><rect x="365.26" y="392.86" width="12.64" height="12.59" fill="#ffffff"/><rect x="377.85" y="392.86" width="12.64" height="12.59" fill="#eee7f7"/><rect x="390.44" y="392.86" width="12.64" height="12.59" fill="#fcf5f4"/><rect x="403.02" y="392.86" width="12.64" height="12.59" fill="#fcf5f4"/><rect x="415.61" y="392.86" width="12.64" height="12.59" fill="#f0d1c9"/><rect x="428.19" y="392.86" width="12.64" height="12.59" fill="#fcf5f4"/><rect x="440.78" y="392.86" width="12.64" height="12.59" fill="#eee7f7"/><rect x="453.37" y="392.86" width="12.64" height="12.59" fill="#c4afe3"/><rect x="465.95" y="392.86" width="12.64" height="12.59" fill="#ffffff"/><rect x="478.54" y="392.86" width="12.64" height="12.59" fill="#ffffff"/><rect x="491.12" y="392.86" width="12.64" height="12.59" fill="#dacdee"/><rect x="503.71" y="392.86" width="12.64" height="12.59" fill="#dacdee"/><rect x="516.30" y="392.86" width="12.64" height="12.59" fill="#fcf5f4"/><rect x="528.88" y="392.86" width="12.64" height="12.59" fill="#ffffff"/><rect x="541.47" y="392.86" width="12.64" height="12.59" fill="#f9e9e6"/><rect x="554.06" y="392.86" width="12.64" height="12.59" fill="#eee7f7"/><rect x="566.64" y="392.86" width="12.64" height="12.59" fill="#f7f4fb"/><rect x="579.23" y="392.86" width="12.64" height="12.59" fill="#ffffff"/><rect x="591.81" y="392.86" width="12.64" height="12.59" fill="#f9e9e6"/><rect x="151.30" y="405.40" width="12.64" height="12.59" fill="#fcf5f4"/><rect x="163.89" y="405.40" width="12.64" height="12.59" fill="#eee7f7"/><rect x="176.47" y="405.40" width="12.64" height="12.59" fill="#c4afe3"/><rect x="189.06" y="405.40" width="12.64" height="12.59" fill="#fcf5f4"/><rect x="201.64" y="405.40" width="12.64" height="12.59" fill="#ffffff"/><rect x="214.23" y="405.40" width="12.64" height="12.59" fill="#ffffff"/><rect x="226.82" y="405.40" width="12.64" height="12.59" fill="#f9e9e6"/><rect x="239.40" y="405.40" width="12.64" height="12.59" fill="#f9e9e6"/><rect x="251.99" y="405.40" width="12.64" height="12.59" fill="#f0d1c9"/><rect x="264.57" y="405.40" width="12.64" height="12.59" fill="#fcf5f4"/><rect x="277.16" y="405.40" width="12.64" height="12.59" fill="#fcf5f4"/><rect x="289.75" y="405.40" width="12.64" height="12.59" fill="#f9e9e6"/><rect x="302.33" y="405.40" width="12.64" height="12.59" fill="#f9e9e6"/><rect x="314.92" y="405.40" width="12.64" height="12.59" fill="#e6b5a9"/><rect x="327.51" y="405.40" width="12.64" height="12.59" fill="#eee7f7"/><rect x="340.09" y="405.40" width="12.64" height="12.59" fill="#ffffff"/><rect x="352.68" y="405.40" width="12.64" height="12.59" fill="#fcf5f4"/><rect x="365.26" y="405.40" width="12.64" height="12.59" fill="#eee7f7"/><rect x="377.85" y="405.40" width="12.64" height="12.59" fill="#dacdee"/><rect x="390.44" y="405.40" width="12.64" height="12.59" fill="#eee7f7"/><rect x="403.02" y="405.40" width="12.64" height="12.59" fill="#ffffff"/><rect x="415.61" y="405.40" width="12.64" height="12.59" fill="#f9e9e6"/><rect x="428.19" y="405.40" width="12.64" height="12.59" fill="#ffffff"/><rect x="440.78" y="405.40" width="12.64" height="12.59" fill="#ffffff"/><rect x="453.37" y="405.40" width="12.64" height="12.59" fill="#fcf5f4"/><rect x="465.95" y="405.40" width="12.64" height="12.59" fill="#f9e9e6"/><rect x="478.54" y="405.40" width="12.64" height="12.59" fill="#f9e9e6"/><rect x="491.12" y="405.40" width="12.64" height="12.59" fill="#eee7f7"/><rect x="503.71" y="405.40" width="12.64" height="12.59" fill="#f9e9e6"/><rect x="516.30" y="405.40" width="12.64" height="12.59" fill="#ffffff"/><rect x="528.88" y="405.40" width="12.64" height="12.59" fill="#eee7f7"/><rect x="541.47" y="405.40" width="12.64" height="12.59" fill="#fcf5f4"/><rect x="554.06" y="405.40" width="12.64" height="12.59" fill="#ffffff"/><rect x="566.64" y="405.40" width="12.64" height="12.59" fill="#ffffff"/><rect x="579.23" y="405.40" width="12.64" height="12.59" fill="#eee7f7"/><rect x="591.81" y="405.40" width="12.64" height="12.59" fill="#eee7f7"/><rect x="151.30" y="417.94" width="12.64" height="12.59" fill="#f9e9e6"/><rect x="163.89" y="417.94" width="12.64" height="12.59" fill="#f9e9e6"/><rect x="176.47" y="417.94" width="12.64" height="12.59" fill="#f9e9e6"/><rect x="189.06" y="417.94" width="12.64" height="12.59" fill="#f9e9e6"/><rect x="201.64" y="417.94" width="12.64" height="12.59" fill="#f9e9e6"/><rect x="214.23" y="417.94" width="12.64" height="12.59" fill="#fcf5f4"/><rect x="226.82" y="417.94" width="12.64" height="12.59" fill="#f9e9e6"/><rect x="239.40" y="417.94" width="12.64" height="12.59" fill="#f9e9e6"/><rect x="251.99" y="417.94" width="12.64" height="12.59" fill="#fcf5f4"/><rect x="264.57" y="417.94" width="12.64" height="12.59" fill="#fcf5f4"/><rect x="277.16" y="417.94" width="12.64" height="12.59" fill="#f0d1c9"/><rect x="289.75" y="417.94" width="12.64" height="12.59" fill="#f9e9e6"/><rect x="302.33" y="417.94" width="12.64" height="12.59" fill="#f9e9e6"/><rect x="314.92" y="417.94" width="12.64" height="12.59" fill="#f0d1c9"/><rect x="327.51" y="417.94" width="12.64" height="12.59" fill="#f9e9e6"/><rect x="340.09" y="417.94" width="12.64" height="12.59" fill="#f9e9e6"/><rect x="352.68" y="417.94" width="12.64" height="12.59" fill="#f9e9e6"/><rect x="365.26" y="417.94" width="12.64" height="12.59" fill="#fcf5f4"/><rect x="377.85" y="417.94" width="12.64" height="12.59" fill="#f9e9e6"/><rect x="390.44" y="417.94" width="12.64" height="12.59" fill="#ffffff"/><rect x="403.02" y="417.94" width="12.64" height="12.59" fill="#fcf5f4"/><rect x="415.61" y="417.94" width="12.64" height="12.59" fill="#f9e9e6"/><rect x="428.19" y="417.94" width="12.64" height="12.59" fill="#fcf5f4"/><rect x="440.78" y="417.94" width="12.64" height="12.59" fill="#f9e9e6"/><rect x="453.37" y="417.94" width="12.64" height="12.59" fill="#fcf5f4"/><rect x="465.95" y="417.94" width="12.64" height="12.59" fill="#f9e9e6"/><rect x="478.54" y="417.94" width="12.64" height="12.59" fill="#fcf5f4"/><rect x="491.12" y="417.94" width="12.64" height="12.59" fill="#ffffff"/><rect x="503.71" y="417.94" width="12.64" height="12.59" fill="#f9e9e6"/><rect x="516.30" y="417.94" width="12.64" height="12.59" fill="#eee7f7"/><rect x="528.88" y="417.94" width="12.64" height="12.59" fill="#fcf5f4"/><rect x="541.47" y="417.94" width="12.64" height="12.59" fill="#ffffff"/><rect x="554.06" y="417.94" width="12.64" height="12.59" fill="#fcf5f4"/><rect x="566.64" y="417.94" width="12.64" height="12.59" fill="#eee7f7"/><rect x="579.23" y="417.94" width="12.64" height="12.59" fill="#dacdee"/><rect x="591.81" y="417.94" width="12.64" height="12.59" fill="#eee7f7"/><rect x="151.30" y="430.48" width="12.64" height="12.59" fill="#ffffff"/><rect x="163.89" y="430.48" width="12.64" height="12.59" fill="#fcf5f4"/><rect x="176.47" y="430.48" width="12.64" height="12.59" fill="#e6b5a9"/><rect x="189.06" y="430.48" width="12.64" height="12.59" fill="#f7f4fb"/><rect x="201.64" y="430.48" width="12.64" height="12.59" fill="#eee7f7"/><rect x="214.23" y="430.48" width="12.64" height="12.59" fill="#fcf5f4"/><rect x="226.82" y="430.48" width="12.64" height="12.59" fill="#e6b5a9"/><rect x="239.40" y="430.48" width="12.64" height="12.59" fill="#eee7f7"/><rect x="251.99" y="430.48" width="12.64" height="12.59" fill="#eee7f7"/><rect x="264.57" y="430.48" width="12.64" height="12.59" fill="#eee7f7"/><rect x="277.16" y="430.48" width="12.64" height="12.59" fill="#dacdee"/><rect x="289.75" y="430.48" width="12.64" height="12.59" fill="#eee7f7"/><rect x="302.33" y="430.48" width="12.64" height="12.59" fill="#eee7f7"/><rect x="314.92" y="430.48" width="12.64" height="12.59" fill="#ffffff"/><rect x="327.51" y="430.48" width="12.64" height="12.59" fill="#f9e9e6"/><rect x="340.09" y="430.48" width="12.64" height="12.59" fill="#ffffff"/><rect x="352.68" y="430.48" width="12.64" height="12.59" fill="#f7f4fb"/><rect x="365.26" y="430.48" width="12.64" height="12.59" fill="#fcf5f4"/><rect x="377.85" y="430.48" width="12.64" height="12.59" fill="#f9e9e6"/><rect x="390.44" y="430.48" width="12.64" height="12.59" fill="#ffffff"/><rect x="403.02" y="430.48" width="12.64" height="12.59" fill="#fcf5f4"/><rect x="415.61" y="430.48" width="12.64" height="12.59" fill="#eee7f7"/><rect x="428.19" y="430.48" width="12.64" height="12.59" fill="#eee7f7"/><rect x="440.78" y="430.48" width="12.64" height="12.59" fill="#f0d1c9"/><rect x="453.37" y="430.48" width="12.64" height="12.59" fill="#f7f4fb"/><rect x="465.95" y="430.48" width="12.64" height="12.59" fill="#f0d1c9"/><rect x="478.54" y="430.48" width="12.64" height="12.59" fill="#eee7f7"/><rect x="491.12" y="430.48" width="12.64" height="12.59" fill="#fcf5f4"/><rect x="503.71" y="430.48" width="12.64" height="12.59" fill="#fcf5f4"/><rect x="516.30" y="430.48" width="12.64" height="12.59" fill="#ffffff"/><rect x="528.88" y="430.48" width="12.64" height="12.59" fill="#eee7f7"/><rect x="541.47" y="430.48" width="12.64" height="12.59" fill="#eee7f7"/><rect x="554.06" y="430.48" width="12.64" height="12.59" fill="#f0d1c9"/><rect x="566.64" y="430.48" width="12.64" height="12.59" fill="#eee7f7"/><rect x="579.23" y="430.48" width="12.64" height="12.59" fill="#ffffff"/><rect x="591.81" y="430.48" width="12.64" height="12.59" fill="#ffffff"/><rect x="151.30" y="443.02" width="12.64" height="12.59" fill="#ffffff"/><rect x="163.89" y="443.02" width="12.64" height="12.59" fill="#ffffff"/><rect x="176.47" y="443.02" width="12.64" height="12.59" fill="#eee7f7"/><rect x="189.06" y="443.02" width="12.64" height="12.59" fill="#f7f4fb"/><rect x="201.64" y="443.02" width="12.64" height="12.59" fill="#ffffff"/><rect x="214.23" y="443.02" width="12.64" height="12.59" fill="#f7f4fb"/><rect x="226.82" y="443.02" width="12.64" height="12.59" fill="#f0d1c9"/><rect x="239.40" y="443.02" width="12.64" height="12.59" fill="#eee7f7"/><rect x="251.99" y="443.02" width="12.64" height="12.59" fill="#fcf5f4"/><rect x="264.57" y="443.02" width="12.64" height="12.59" fill="#f9e9e6"/><rect x="277.16" y="443.02" width="12.64" height="12.59" fill="#ffffff"/><rect x="289.75" y="443.02" width="12.64" height="12.59" fill="#c4afe3"/><rect x="302.33" y="443.02" width="12.64" height="12.59" fill="#f9e9e6"/><rect x="314.92" y="443.02" width="12.64" height="12.59" fill="#f0d1c9"/><rect x="327.51" y="443.02" width="12.64" height="12.59" fill="#fcf5f4"/><rect x="340.09" y="443.02" width="12.64" height="12.59" fill="#f7f4fb"/><rect x="352.68" y="443.02" width="12.64" height="12.59" fill="#fcf5f4"/><rect x="365.26" y="443.02" width="12.64" height="12.59" fill="#ffffff"/><rect x="377.85" y="443.02" width="12.64" height="12.59" fill="#f7f4fb"/><rect x="390.44" y="443.02" width="12.64" height="12.59" fill="#eee7f7"/><rect x="403.02" y="443.02" width="12.64" height="12.59" fill="#ffffff"/><rect x="415.61" y="443.02" width="12.64" height="12.59" fill="#f7f4fb"/><rect x="428.19" y="443.02" width="12.64" height="12.59" fill="#f7f4fb"/><rect x="440.78" y="443.02" width="12.64" height="12.59" fill="#eee7f7"/><rect x="453.37" y="443.02" width="12.64" height="12.59" fill="#f9e9e6"/><rect x="465.95" y="443.02" width="12.64" height="12.59" fill="#fcf5f4"/><rect x="478.54" y="443.02" width="12.64" height="12.59" fill="#ffffff"/><rect x="491.12" y="443.02" width="12.64" height="12.59" fill="#ffffff"/><rect x="503.71" y="443.02" width="12.64" height="12.59" fill="#eee7f7"/><rect x="516.30" y="443.02" width="12.64" height="12.59" fill="#eee7f7"/><rect x="528.88" y="443.02" width="12.64" height="12.59" fill="#eee7f7"/><rect x="541.47" y="443.02" width="12.64" height="12.59" fill="#fcf5f4"/><rect x="554.06" y="443.02" width="12.64" height="12.59" fill="#eee7f7"/><rect x="566.64" y="443.02" width="12.64" height="12.59" fill="#ffffff"/><rect x="579.23" y="443.02" width="12.64" height="12.59" fill="#ffffff"/><rect x="591.81" y="443.02" width="12.64" height="12.59" fill="#eee7f7"/><rect x="151.30" y="455.56" width="12.64" height="12.59" fill="#ffffff"/><rect x="163.89" y="455.56" width="12.64" height="12.59" fill="#fcf5f4"/><rect x="176.47" y="455.56" width="12.64" height="12.59" fill="#ffffff"/><rect x="189.06" y="455.56" width="12.64" height="12.59" fill="#fcf5f4"/><rect x="201.64" y="455.56" width="12.64" height="12.59" fill="#fcf5f4"/><rect x="214.23" y="455.56" width="12.64" height="12.59" fill="#fcf5f4"/><rect x="226.82" y="455.56" width="12.64" height="12.59" fill="#fcf5f4"/><rect x="239.40" y="455.56" width="12.64" height="12.59" fill="#ffffff"/><rect x="251.99" y="455.56" width="12.64" height="12.59" fill="#ffffff"/><rect x="264.57" y="455.56" width="12.64" height="12.59" fill="#ffffff"/><rect x="277.16" y="455.56" width="12.64" height="12.59" fill="#fcf5f4"/><rect x="289.75" y="455.56" width="12.64" height="12.59" fill="#fcf5f4"/><rect x="302.33" y="455.56" width="12.64" height="12.59" fill="#fcf5f4"/><rect x="314.92" y="455.56" width="12.64" height="12.59" fill="#f9e9e6"/><rect x="327.51" y="455.56" width="12.64" height="12.59" fill="#ffffff"/><rect x="340.09" y="455.56" width="12.64" height="12.59" fill="#ffffff"/><rect x="352.68" y="455.56" width="12.64" height="12.59" fill="#ffffff"/><rect x="365.26" y="455.56" width="12.64" height="12.59" fill="#ffffff"/><rect x="377.85" y="455.56" width="12.64" height="12.59" fill="#fcf5f4"/><rect x="390.44" y="455.56" width="12.64" height="12.59" fill="#ffffff"/><rect x="403.02" y="455.56" width="12.64" height="12.59" fill="#ffffff"/><rect x="415.61" y="455.56" width="12.64" height="12.59" fill="#fcf5f4"/><rect x="428.19" y="455.56" width="12.64" height="12.59" fill="#fcf5f4"/><rect x="440.78" y="455.56" width="12.64" height="12.59" fill="#fcf5f4"/><rect x="453.37" y="455.56" width="12.64" height="12.59" fill="#ffffff"/><rect x="465.95" y="455.56" width="12.64" height="12.59" fill="#ffffff"/><rect x="478.54" y="455.56" width="12.64" height="12.59" fill="#fcf5f4"/><rect x="491.12" y="455.56" width="12.64" height="12.59" fill="#ffffff"/><rect x="503.71" y="455.56" width="12.64" height="12.59" fill="#ffffff"/><rect x="516.30" y="455.56" width="12.64" height="12.59" fill="#ffffff"/><rect x="528.88" y="455.56" width="12.64" height="12.59" fill="#ffffff"/><rect x="541.47" y="455.56" width="12.64" height="12.59" fill="#ffffff"/><rect x="554.06" y="455.56" width="12.64" height="12.59" fill="#ffffff"/><rect x="566.64" y="455.56" width="12.64" height="12.59" fill="#ffffff"/><rect x="579.23" y="455.56" width="12.64" height="12.59" fill="#ffffff"/><rect x="591.81" y="455.56" width="12.64" height="12.59" fill="#ffffff"/><path d="M151.30 280.00V468.10M163.89 280.00V468.10M176.47 280.00V468.10M189.06 280.00V468.10M201.64 280.00V468.10M214.23 280.00V468.10M226.82 280.00V468.10M239.40 280.00V468.10M251.99 280.00V468.10M264.57 280.00V468.10M277.16 280.00V468.10M289.75 280.00V468.10M302.33 280.00V468.10M314.92 280.00V468.10M327.51 280.00V468.10M340.09 280.00V468.10M352.68 280.00V468.10M365.26 280.00V468.10M377.85 280.00V468.10M390.44 280.00V468.10M403.02 280.00V468.10M415.61 280.00V468.10M428.19 280.00V468.10M440.78 280.00V468.10M453.37 280.00V468.10M465.95 280.00V468.10M478.54 280.00V468.10M491.12 280.00V468.10M503.71 280.00V468.10M516.30 280.00V468.10M528.88 280.00V468.10M541.47 280.00V468.10M554.06 280.00V468.10M566.64 280.00V468.10M579.23 280.00V468.10M591.81 280.00V468.10M604.40 280.00V468.10M151.30 280.00H604.40M151.30 292.54H604.40M151.30 305.08H604.40M151.30 317.62H604.40M151.30 330.16H604.40M151.30 342.70H604.40M151.30 355.24H604.40M151.30 367.78H604.40M151.30 380.32H604.40M151.30 392.86H604.40M151.30 405.40H604.40M151.30 417.94H604.40M151.30 430.48H604.40M151.30 443.02H604.40M151.30 455.56H604.40M151.30 468.10H604.40" stroke="#5a5a5a" stroke-width="0.75" fill="none"/><rect x="275.56" y="280.00" width="3.2" height="188.10" fill="#000"/><rect x="502.11" y="280.00" width="3.2" height="188.10" fill="#000"/><rect x="602.60" y="280.00" width="1.8" height="188.10" fill="#000"/><path d="M151.30 280.00V468.10H604.40" stroke="#262626" stroke-width="0.7" fill="none"/><text x="145.60" y="289.67" font-size="9.65" fill="#4d4d4d" class="ax" text-anchor="end">GPS_radiusMobility</text><text x="145.60" y="302.21" font-size="9.65" fill="#4d4d4d" class="ax" text-anchor="end">GPS_distanceFromHome</text><text x="145.60" y="314.75" font-size="9.65" fill="#4d4d4d" class="ax" text-anchor="end">GPS_percentAtHome</text><text x="145.60" y="327.29" font-size="9.65" fill="#4d4d4d" class="ax" text-anchor="end">GPS_missingHours</text><text x="145.60" y="339.83" font-size="9.65" fill="#4d4d4d" class="ax" text-anchor="end">acc_daily</text><text x="145.60" y="352.37" font-size="9.65" fill="#4d4d4d" class="ax" text-anchor="end">Phone_UseDuringSleep</text><text x="145.60" y="364.91" font-size="9.65" fill="#4d4d4d" class="ax" text-anchor="end">pow_daily</text><text x="145.60" y="377.45" font-size="9.65" fill="#4d4d4d" class="ax" text-anchor="end">Phone_SleepOffset</text><text x="145.60" y="389.99" font-size="9.65" fill="#4d4d4d" class="ax" text-anchor="end">Phone_UseDuringWake</text><text x="145.60" y="402.53" font-size="9.65" fill="#4d4d4d" class="ax" text-anchor="end">Phone_UseDifferenceWakeSleep</text><text x="145.60" y="415.07" font-size="9.65" fill="#4d4d4d" class="ax" text-anchor="end">Phone_SleepOnset</text><text x="145.60" y="427.61" font-size="9.65" fill="#4d4d4d" class="ax" text-anchor="end">GPS_numberofPlaces</text><text x="145.60" y="440.15" font-size="9.65" fill="#4d4d4d" class="ax" text-anchor="end">Phone_SleepDuration</text><text x="145.60" y="452.69" font-size="9.65" fill="#4d4d4d" class="ax" text-anchor="end">weekday</text><text x="145.60" y="465.23" font-size="9.65" fill="#4d4d4d" class="ax" text-anchor="end">Phone_missing</text><text x="0" y="0" font-size="9.65" fill="#4d4d4d" class="ax" text-anchor="end" transform="translate(162.29 479.10) rotate(-45)">SUB3</text><text x="0" y="0" font-size="9.65" fill="#4d4d4d" class="ax" text-anchor="end" transform="translate(174.88 479.10) rotate(-45)">SUB5</text><text x="0" y="0" font-size="9.65" fill="#4d4d4d" class="ax" text-anchor="end" transform="translate(187.47 479.10) rotate(-45)">SUB12</text><text x="0" y="0" font-size="9.65" fill="#4d4d4d" class="ax" text-anchor="end" transform="translate(200.05 479.10) rotate(-45)">SUB17</text><text x="0" y="0" font-size="9.65" fill="#4d4d4d" class="ax" text-anchor="end" transform="translate(212.64 479.10) rotate(-45)">SUB23</text><text x="0" y="0" font-size="9.65" fill="#4d4d4d" class="ax" text-anchor="end" transform="translate(225.22 479.10) rotate(-45)">SUB40</text><text x="0" y="0" font-size="9.65" fill="#4d4d4d" class="ax" text-anchor="end" transform="translate(237.81 479.10) rotate(-45)">SUB47</text><text x="0" y="0" font-size="9.65" fill="#4d4d4d" class="ax" text-anchor="end" transform="translate(250.40 479.10) rotate(-45)">SUB52</text><text x="0" y="0" font-size="9.65" fill="#4d4d4d" class="ax" text-anchor="end" transform="translate(262.98 479.10) rotate(-45)">SUB55</text><text x="0" y="0" font-size="9.65" fill="#4d4d4d" class="ax" text-anchor="end" transform="translate(275.57 479.10) rotate(-45)">SUB61</text><text x="0" y="0" font-size="9.65" fill="#4d4d4d" class="ax" text-anchor="end" transform="translate(288.15 479.10) rotate(-45)">SUB4</text><text x="0" y="0" font-size="9.65" fill="#4d4d4d" class="ax" text-anchor="end" transform="translate(300.74 479.10) rotate(-45)">SUB11</text><text x="0" y="0" font-size="9.65" fill="#4d4d4d" class="ax" text-anchor="end" transform="translate(313.33 479.10) rotate(-45)">SUB15</text><text x="0" y="0" font-size="9.65" fill="#4d4d4d" class="ax" text-anchor="end" transform="translate(325.91 479.10) rotate(-45)">SUB16</text><text x="0" y="0" font-size="9.65" fill="#4d4d4d" class="ax" text-anchor="end" transform="translate(338.50 479.10) rotate(-45)">SUB18</text><text x="0" y="0" font-size="9.65" fill="#4d4d4d" class="ax" text-anchor="end" transform="translate(351.08 479.10) rotate(-45)">SUB19</text><text x="0" y="0" font-size="9.65" fill="#4d4d4d" class="ax" text-anchor="end" transform="translate(363.67 479.10) rotate(-45)">SUB27</text><text x="0" y="0" font-size="9.65" fill="#4d4d4d" class="ax" text-anchor="end" transform="translate(376.26 479.10) rotate(-45)">SUB30</text><text x="0" y="0" font-size="9.65" fill="#4d4d4d" class="ax" text-anchor="end" transform="translate(388.84 479.10) rotate(-45)">SUB32</text><text x="0" y="0" font-size="9.65" fill="#4d4d4d" class="ax" text-anchor="end" transform="translate(401.43 479.10) rotate(-45)">SUB35</text><text x="0" y="0" font-size="9.65" fill="#4d4d4d" class="ax" text-anchor="end" transform="translate(414.02 479.10) rotate(-45)">SUB36</text><text x="0" y="0" font-size="9.65" fill="#4d4d4d" class="ax" text-anchor="end" transform="translate(426.60 479.10) rotate(-45)">SUB38</text><text x="0" y="0" font-size="9.65" fill="#4d4d4d" class="ax" text-anchor="end" transform="translate(439.19 479.10) rotate(-45)">SUB41</text><text x="0" y="0" font-size="9.65" fill="#4d4d4d" class="ax" text-anchor="end" transform="translate(451.77 479.10) rotate(-45)">SUB46</text><text x="0" y="0" font-size="9.65" fill="#4d4d4d" class="ax" text-anchor="end" transform="translate(464.36 479.10) rotate(-45)">SUB53</text><text x="0" y="0" font-size="9.65" fill="#4d4d4d" class="ax" text-anchor="end" transform="translate(476.95 479.10) rotate(-45)">SUB67</text><text x="0" y="0" font-size="9.65" fill="#4d4d4d" class="ax" text-anchor="end" transform="translate(489.53 479.10) rotate(-45)">SUB69</text><text x="0" y="0" font-size="9.65" fill="#4d4d4d" class="ax" text-anchor="end" transform="translate(502.12 479.10) rotate(-45)">SUB70</text><text x="0" y="0" font-size="9.65" fill="#4d4d4d" class="ax" text-anchor="end" transform="translate(514.70 479.10) rotate(-45)">SUB7</text><text x="0" y="0" font-size="9.65" fill="#4d4d4d" class="ax" text-anchor="end" transform="translate(527.29 479.10) rotate(-45)">SUB10</text><text x="0" y="0" font-size="9.65" fill="#4d4d4d" class="ax" text-anchor="end" transform="translate(539.88 479.10) rotate(-45)">SUB20</text><text x="0" y="0" font-size="9.65" fill="#4d4d4d" class="ax" text-anchor="end" transform="translate(552.46 479.10) rotate(-45)">SUB21</text><text x="0" y="0" font-size="9.65" fill="#4d4d4d" class="ax" text-anchor="end" transform="translate(565.05 479.10) rotate(-45)">SUB26</text><text x="0" y="0" font-size="9.65" fill="#4d4d4d" class="ax" text-anchor="end" transform="translate(577.63 479.10) rotate(-45)">SUB50</text><text x="0" y="0" font-size="9.65" fill="#4d4d4d" class="ax" text-anchor="end" transform="translate(590.22 479.10) rotate(-45)">SUB57</text><text x="0" y="0" font-size="9.65" fill="#4d4d4d" class="ax" text-anchor="end" transform="translate(602.81 479.10) rotate(-45)">SUB66</text><path d="M147.70 286.27H151.30M147.70 298.81H151.30M147.70 311.35H151.30M147.70 323.89H151.30M147.70 336.43H151.30M147.70 348.97H151.30M147.70 361.51H151.30M147.70 374.05H151.30M147.70 386.59H151.30M147.70 399.13H151.30M147.70 411.67H151.30M147.70 424.21H151.30M147.70 436.75H151.30M147.70 449.29H151.30M147.70 461.83H151.30M157.59 468.10V471.80M170.18 468.10V471.80M182.77 468.10V471.80M195.35 468.10V471.80M207.94 468.10V471.80M220.52 468.10V471.80M233.11 468.10V471.80M245.70 468.10V471.80M258.28 468.10V471.80M270.87 468.10V471.80M283.45 468.10V471.80M296.04 468.10V471.80M308.63 468.10V471.80M321.21 468.10V471.80M333.80 468.10V471.80M346.38 468.10V471.80M358.97 468.10V471.80M371.56 468.10V471.80M384.14 468.10V471.80M396.73 468.10V471.80M409.32 468.10V471.80M421.90 468.10V471.80M434.49 468.10V471.80M447.07 468.10V471.80M459.66 468.10V471.80M472.25 468.10V471.80M484.83 468.10V471.80M497.42 468.10V471.80M510.00 468.10V471.80M522.59 468.10V471.80M535.18 468.10V471.80M547.76 468.10V471.80M560.35 468.10V471.80M572.93 468.10V471.80M585.52 468.10V471.80M598.11 468.10V471.80" stroke="#2b2b2b" stroke-width="1.2" fill="none"/><text x="148.60" y="524.50" font-size="14.0" fill="#000" class="tt">Feature Importance: Upset</text><rect x="149.20" y="533.30" width="11.38" height="11.31" fill="#f9e9e6"/><rect x="160.53" y="533.30" width="11.38" height="11.31" fill="#d89787"/><rect x="171.85" y="533.30" width="11.38" height="11.31" fill="#bd6450"/><rect x="183.18" y="533.30" width="11.38" height="11.31" fill="#bd6450"/><rect x="194.51" y="533.30" width="11.38" height="11.31" fill="#e6b5a9"/><rect x="205.84" y="533.30" width="11.38" height="11.31" fill="#d89787"/><rect x="217.16" y="533.30" width="11.38" height="11.31" fill="#ffffff"/><rect x="228.49" y="533.30" width="11.38" height="11.31" fill="#dacdee"/><rect x="239.82" y="533.30" width="11.38" height="11.31" fill="#f9e9e6"/><rect x="251.15" y="533.30" width="11.38" height="11.31" fill="#e6b5a9"/><rect x="262.47" y="533.30" width="11.38" height="11.31" fill="#e6b5a9"/><rect x="273.80" y="533.30" width="11.38" height="11.31" fill="#ffffff"/><rect x="285.13" y="533.30" width="11.38" height="11.31" fill="#cb7e6b"/><rect x="296.46" y="533.30" width="11.38" height="11.31" fill="#f0d1c9"/><rect x="307.78" y="533.30" width="11.38" height="11.31" fill="#6240b7"/><rect x="319.11" y="533.30" width="11.38" height="11.31" fill="#f0d1c9"/><rect x="330.44" y="533.30" width="11.38" height="11.31" fill="#f0d1c9"/><rect x="341.77" y="533.30" width="11.38" height="11.31" fill="#f9e9e6"/><rect x="353.09" y="533.30" width="11.38" height="11.31" fill="#f9e9e6"/><rect x="364.42" y="533.30" width="11.38" height="11.31" fill="#fcf5f4"/><rect x="375.75" y="533.30" width="11.38" height="11.31" fill="#f0d1c9"/><rect x="387.08" y="533.30" width="11.38" height="11.31" fill="#e6b5a9"/><rect x="398.40" y="533.30" width="11.38" height="11.31" fill="#9374cc"/><rect x="409.73" y="533.30" width="11.38" height="11.31" fill="#f9e9e6"/><rect x="421.06" y="533.30" width="11.38" height="11.31" fill="#f0d1c9"/><rect x="432.39" y="533.30" width="11.38" height="11.31" fill="#f9e9e6"/><rect x="443.71" y="533.30" width="11.38" height="11.31" fill="#dacdee"/><rect x="455.04" y="533.30" width="11.38" height="11.31" fill="#bd6450"/><rect x="466.37" y="533.30" width="11.38" height="11.31" fill="#aa8fd7"/><rect x="477.70" y="533.30" width="11.38" height="11.31" fill="#aa8fd7"/><rect x="489.02" y="533.30" width="11.38" height="11.31" fill="#7c5ac2"/><rect x="500.35" y="533.30" width="11.38" height="11.31" fill="#c4afe3"/><rect x="511.68" y="533.30" width="11.38" height="11.31" fill="#aa8fd7"/><rect x="523.01" y="533.30" width="11.38" height="11.31" fill="#aa8fd7"/><rect x="534.33" y="533.30" width="11.38" height="11.31" fill="#aa8fd7"/><rect x="545.66" y="533.30" width="11.38" height="11.31" fill="#aa8fd7"/><rect x="556.99" y="533.30" width="11.38" height="11.31" fill="#6240b7"/><rect x="568.32" y="533.30" width="11.38" height="11.31" fill="#aa8fd7"/><rect x="579.64" y="533.30" width="11.38" height="11.31" fill="#6240b7"/><rect x="590.97" y="533.30" width="11.38" height="11.31" fill="#f9e9e6"/><rect x="149.20" y="544.56" width="11.38" height="11.31" fill="#fcf5f4"/><rect x="160.53" y="544.56" width="11.38" height="11.31" fill="#e6b5a9"/><rect x="171.85" y="544.56" width="11.38" height="11.31" fill="#cb7e6b"/><rect x="183.18" y="544.56" width="11.38" height="11.31" fill="#cb7e6b"/><rect x="194.51" y="544.56" width="11.38" height="11.31" fill="#dacdee"/><rect x="205.84" y="544.56" width="11.38" height="11.31" fill="#f0d1c9"/><rect x="217.16" y="544.56" width="11.38" height="11.31" fill="#d89787"/><rect x="228.49" y="544.56" width="11.38" height="11.31" fill="#fcf5f4"/><rect x="239.82" y="544.56" width="11.38" height="11.31" fill="#ffffff"/><rect x="251.15" y="544.56" width="11.38" height="11.31" fill="#e6b5a9"/><rect x="262.47" y="544.56" width="11.38" height="11.31" fill="#f0d1c9"/><rect x="273.80" y="544.56" width="11.38" height="11.31" fill="#ffffff"/><rect x="285.13" y="544.56" width="11.38" height="11.31" fill="#9374cc"/><rect x="296.46" y="544.56" width="11.38" height="11.31" fill="#f0d1c9"/><rect x="307.78" y="544.56" width="11.38" height="11.31" fill="#7c5ac2"/><rect x="319.11" y="544.56" width="11.38" height="11.31" fill="#ffffff"/><rect x="330.44" y="544.56" width="11.38" height="11.31" fill="#e6b5a9"/><rect x="341.77" y="544.56" width="11.38" height="11.31" fill="#eee7f7"/><rect x="353.09" y="544.56" width="11.38" height="11.31" fill="#f9e9e6"/><rect x="364.42" y="544.56" width="11.38" height="11.31" fill="#ffffff"/><rect x="375.75" y="544.56" width="11.38" height="11.31" fill="#f9e9e6"/><rect x="387.08" y="544.56" width="11.38" height="11.31" fill="#eee7f7"/><rect x="398.40" y="544.56" width="11.38" height="11.31" fill="#ae4b37"/><rect x="409.73" y="544.56" width="11.38" height="11.31" fill="#f0d1c9"/><rect x="421.06" y="544.56" width="11.38" height="11.31" fill="#dacdee"/><rect x="432.39" y="544.56" width="11.38" height="11.31" fill="#fcf5f4"/><rect x="443.71" y="544.56" width="11.38" height="11.31" fill="#eee7f7"/><rect x="455.04" y="544.56" width="11.38" height="11.31" fill="#7c5ac2"/><rect x="466.37" y="544.56" width="11.38" height="11.31" fill="#aa8fd7"/><rect x="477.70" y="544.56" width="11.38" height="11.31" fill="#c4afe3"/><rect x="489.02" y="544.56" width="11.38" height="11.31" fill="#7c5ac2"/><rect x="500.35" y="544.56" width="11.38" height="11.31" fill="#dacdee"/><rect x="511.68" y="544.56" width="11.38" height="11.31" fill="#aa8fd7"/><rect x="523.01" y="544.56" width="11.38" height="11.31" fill="#7c5ac2"/><rect x="534.33" y="544.56" width="11.38" height="11.31" fill="#9374cc"/><rect x="545.66" y="544.56" width="11.38" height="11.31" fill="#f9e9e6"/><rect x="556.99" y="544.56" width="11.38" height="11.31" fill="#ae4b37"/><rect x="568.32" y="544.56" width="11.38" height="11.31" fill="#7c5ac2"/><rect x="579.64" y="544.56" width="11.38" height="11.31" fill="#8d0603"/><rect x="590.97" y="544.56" width="11.38" height="11.31" fill="#c4afe3"/><rect x="149.20" y="555.82" width="11.38" height="11.31" fill="#eee7f7"/><rect x="160.53" y="555.82" width="11.38" height="11.31" fill="#c4afe3"/><rect x="171.85" y="555.82" width="11.38" height="11.31" fill="#f9e9e6"/><rect x="183.18" y="555.82" width="11.38" height="11.31" fill="#7c5ac2"/><rect x="194.51" y="555.82" width="11.38" height="11.31" fill="#aa8fd7"/><rect x="205.84" y="555.82" width="11.38" height="11.31" fill="#aa8fd7"/><rect x="217.16" y="555.82" width="11.38" height="11.31" fill="#c4afe3"/><rect x="228.49" y="555.82" width="11.38" height="11.31" fill="#dacdee"/><rect x="239.82" y="555.82" width="11.38" height="11.31" fill="#eee7f7"/><rect x="251.15" y="555.82" width="11.38" height="11.31" fill="#dacdee"/><rect x="262.47" y="555.82" width="11.38" height="11.31" fill="#fcf5f4"/><rect x="273.80" y="555.82" width="11.38" height="11.31" fill="#f7f4fb"/><rect x="285.13" y="555.82" width="11.38" height="11.31" fill="#aa8fd7"/><rect x="296.46" y="555.82" width="11.38" height="11.31" fill="#c4afe3"/><rect x="307.78" y="555.82" width="11.38" height="11.31" fill="#bd6450"/><rect x="319.11" y="555.82" width="11.38" height="11.31" fill="#f7f4fb"/><rect x="330.44" y="555.82" width="11.38" height="11.31" fill="#eee7f7"/><rect x="341.77" y="555.82" width="11.38" height="11.31" fill="#eee7f7"/><rect x="353.09" y="555.82" width="11.38" height="11.31" fill="#eee7f7"/><rect x="364.42" y="555.82" width="11.38" height="11.31" fill="#eee7f7"/><rect x="375.75" y="555.82" width="11.38" height="11.31" fill="#fcf5f4"/><rect x="387.08" y="555.82" width="11.38" height="11.31" fill="#c4afe3"/><rect x="398.40" y="555.82" width="11.38" height="11.31" fill="#ae4b37"/><rect x="409.73" y="555.82" width="11.38" height="11.31" fill="#eee7f7"/><rect x="421.06" y="555.82" width="11.38" height="11.31" fill="#dacdee"/><rect x="432.39" y="555.82" width="11.38" height="11.31" fill="#eee7f7"/><rect x="443.71" y="555.82" width="11.38" height="11.31" fill="#dacdee"/><rect x="455.04" y="555.82" width="11.38" height="11.31" fill="#cb7e6b"/><rect x="466.37" y="555.82" width="11.38" height="11.31" fill="#e6b5a9"/><rect x="477.70" y="555.82" width="11.38" height="11.31" fill="#f9e9e6"/><rect x="489.02" y="555.82" width="11.38" height="11.31" fill="#7c5ac2"/><rect x="500.35" y="555.82" width="11.38" height="11.31" fill="#c4afe3"/><rect x="511.68" y="555.82" width="11.38" height="11.31" fill="#eee7f7"/><rect x="523.01" y="555.82" width="11.38" height="11.31" fill="#d89787"/><rect x="534.33" y="555.82" width="11.38" height="11.31" fill="#7c5ac2"/><rect x="545.66" y="555.82" width="11.38" height="11.31" fill="#f7f4fb"/><rect x="556.99" y="555.82" width="11.38" height="11.31" fill="#7c5ac2"/><rect x="568.32" y="555.82" width="11.38" height="11.31" fill="#c4afe3"/><rect x="579.64" y="555.82" width="11.38" height="11.31" fill="#aa8fd7"/><rect x="590.97" y="555.82" width="11.38" height="11.31" fill="#c4afe3"/><rect x="149.20" y="567.08" width="11.38" height="11.31" fill="#f0d1c9"/><rect x="160.53" y="567.08" width="11.38" height="11.31" fill="#f0d1c9"/><rect x="171.85" y="567.08" width="11.38" height="11.31" fill="#ffffff"/><rect x="183.18" y="567.08" width="11.38" height="11.31" fill="#f0d1c9"/><rect x="194.51" y="567.08" width="11.38" height="11.31" fill="#e6b5a9"/><rect x="205.84" y="567.08" width="11.38" height="11.31" fill="#eee7f7"/><rect x="217.16" y="567.08" width="11.38" height="11.31" fill="#dacdee"/><rect x="228.49" y="567.08" width="11.38" height="11.31" fill="#f0d1c9"/><rect x="239.82" y="567.08" width="11.38" height="11.31" fill="#eee7f7"/><rect x="251.15" y="567.08" width="11.38" height="11.31" fill="#eee7f7"/><rect x="262.47" y="567.08" width="11.38" height="11.31" fill="#f9e9e6"/><rect x="273.80" y="567.08" width="11.38" height="11.31" fill="#e6b5a9"/><rect x="285.13" y="567.08" width="11.38" height="11.31" fill="#f9e9e6"/><rect x="296.46" y="567.08" width="11.38" height="11.31" fill="#f0d1c9"/><rect x="307.78" y="567.08" width="11.38" height="11.31" fill="#d89787"/><rect x="319.11" y="567.08" width="11.38" height="11.31" fill="#f0d1c9"/><rect x="330.44" y="567.08" width="11.38" height="11.31" fill="#f0d1c9"/><rect x="341.77" y="567.08" width="11.38" height="11.31" fill="#eee7f7"/><rect x="353.09" y="567.08" width="11.38" height="11.31" fill="#c4afe3"/><rect x="364.42" y="567.08" width="11.38" height="11.31" fill="#c4afe3"/><rect x="375.75" y="567.08" width="11.38" height="11.31" fill="#ffffff"/><rect x="387.08" y="567.08" width="11.38" height="11.31" fill="#eee7f7"/><rect x="398.40" y="567.08" width="11.38" height="11.31" fill="#f9e9e6"/><rect x="409.73" y="567.08" width="11.38" height="11.31" fill="#f9e9e6"/><rect x="421.06" y="567.08" width="11.38" height="11.31" fill="#f9e9e6"/><rect x="432.39" y="567.08" width="11.38" height="11.31" fill="#f9e9e6"/><rect x="443.71" y="567.08" width="11.38" height="11.31" fill="#f0d1c9"/><rect x="455.04" y="567.08" width="11.38" height="11.31" fill="#7c5ac2"/><rect x="466.37" y="567.08" width="11.38" height="11.31" fill="#9374cc"/><rect x="477.70" y="567.08" width="11.38" height="11.31" fill="#eee7f7"/><rect x="489.02" y="567.08" width="11.38" height="11.31" fill="#aa8fd7"/><rect x="500.35" y="567.08" width="11.38" height="11.31" fill="#aa8fd7"/><rect x="511.68" y="567.08" width="11.38" height="11.31" fill="#eee7f7"/><rect x="523.01" y="567.08" width="11.38" height="11.31" fill="#aa8fd7"/><rect x="534.33" y="567.08" width="11.38" height="11.31" fill="#aa8fd7"/><rect x="545.66" y="567.08" width="11.38" height="11.31" fill="#aa8fd7"/><rect x="556.99" y="567.08" width="11.38" height="11.31" fill="#aa8fd7"/><rect x="568.32" y="567.08" width="11.38" height="11.31" fill="#eee7f7"/><rect x="579.64" y="567.08" width="11.38" height="11.31" fill="#9374cc"/><rect x="590.97" y="567.08" width="11.38" height="11.31" fill="#c4afe3"/><rect x="149.20" y="578.34" width="11.38" height="11.31" fill="#fcf5f4"/><rect x="160.53" y="578.34" width="11.38" height="11.31" fill="#e6b5a9"/><rect x="171.85" y="578.34" width="11.38" height="11.31" fill="#c4afe3"/><rect x="183.18" y="578.34" width="11.38" height="11.31" fill="#bd6450"/><rect x="194.51" y="578.34" width="11.38" height="11.31" fill="#f9e9e6"/><rect x="205.84" y="578.34" width="11.38" height="11.31" fill="#f0d1c9"/><rect x="217.16" y="578.34" width="11.38" height="11.31" fill="#fcf5f4"/><rect x="228.49" y="578.34" width="11.38" height="11.31" fill="#c4afe3"/><rect x="239.82" y="578.34" width="11.38" height="11.31" fill="#ffffff"/><rect x="251.15" y="578.34" width="11.38" height="11.31" fill="#ffffff"/><rect x="262.47" y="578.34" width="11.38" height="11.31" fill="#eee7f7"/><rect x="273.80" y="578.34" width="11.38" height="11.31" fill="#fcf5f4"/><rect x="285.13" y="578.34" width="11.38" height="11.31" fill="#aa8fd7"/><rect x="296.46" y="578.34" width="11.38" height="11.31" fill="#f7f4fb"/><rect x="307.78" y="578.34" width="11.38" height="11.31" fill="#f9e9e6"/><rect x="319.11" y="578.34" width="11.38" height="11.31" fill="#eee7f7"/><rect x="330.44" y="578.34" width="11.38" height="11.31" fill="#dacdee"/><rect x="341.77" y="578.34" width="11.38" height="11.31" fill="#f0d1c9"/><rect x="353.09" y="578.34" width="11.38" height="11.31" fill="#f9e9e6"/><rect x="364.42" y="578.34" width="11.38" height="11.31" fill="#c4afe3"/><rect x="375.75" y="578.34" width="11.38" height="11.31" fill="#c4afe3"/><rect x="387.08" y="578.34" width="11.38" height="11.31" fill="#c4afe3"/><rect x="398.40" y="578.34" width="11.38" height="11.31" fill="#d89787"/><rect x="409.73" y="578.34" width="11.38" height="11.31" fill="#e6b5a9"/><rect x="421.06" y="578.34" width="11.38" height="11.31" fill="#f9e9e6"/><rect x="432.39" y="578.34" width="11.38" height="11.31" fill="#eee7f7"/><rect x="443.71" y="578.34" width="11.38" height="11.31" fill="#dacdee"/><rect x="455.04" y="578.34" width="11.38" height="11.31" fill="#ffffff"/><rect x="466.37" y="578.34" width="11.38" height="11.31" fill="#dacdee"/><rect x="477.70" y="578.34" width="11.38" height="11.31" fill="#f0d1c9"/><rect x="489.02" y="578.34" width="11.38" height="11.31" fill="#fcf5f4"/><rect x="500.35" y="578.34" width="11.38" height="11.31" fill="#fcf5f4"/><rect x="511.68" y="578.34" width="11.38" height="11.31" fill="#fcf5f4"/><rect x="523.01" y="578.34" width="11.38" height="11.31" fill="#fcf5f4"/><rect x="534.33" y="578.34" width="11.38" height="11.31" fill="#eee7f7"/><rect x="545.66" y="578.34" width="11.38" height="11.31" fill="#ffffff"/><rect x="556.99" y="578.34" width="11.38" height="11.31" fill="#dacdee"/><rect x="568.32" y="578.34" width="11.38" height="11.31" fill="#ffffff"/><rect x="579.64" y="578.34" width="11.38" height="11.31" fill="#eee7f7"/><rect x="590.97" y="578.34" width="11.38" height="11.31" fill="#d89787"/><rect x="149.20" y="589.60" width="11.38" height="11.31" fill="#f9e9e6"/><rect x="160.53" y="589.60" width="11.38" height="11.31" fill="#f9e9e6"/><rect x="171.85" y="589.60" width="11.38" height="11.31" fill="#ffffff"/><rect x="183.18" y="589.60" width="11.38" height="11.31" fill="#f9e9e6"/><rect x="194.51" y="589.60" width="11.38" height="11.31" fill="#f0d1c9"/><rect x="205.84" y="589.60" width="11.38" height="11.31" fill="#f0d1c9"/><rect x="217.16" y="589.60" width="11.38" height="11.31" fill="#fcf5f4"/><rect x="228.49" y="589.60" width="11.38" height="11.31" fill="#f9e9e6"/><rect x="239.82" y="589.60" width="11.38" height="11.31" fill="#f7f4fb"/><rect x="251.15" y="589.60" width="11.38" height="11.31" fill="#f9e9e6"/><rect x="262.47" y="589.60" width="11.38" height="11.31" fill="#f9e9e6"/><rect x="273.80" y="589.60" width="11.38" height="11.31" fill="#e6b5a9"/><rect x="285.13" y="589.60" width="11.38" height="11.31" fill="#f9e9e6"/><rect x="296.46" y="589.60" width="11.38" height="11.31" fill="#e6b5a9"/><rect x="307.78" y="589.60" width="11.38" height="11.31" fill="#f9e9e6"/><rect x="319.11" y="589.60" width="11.38" height="11.31" fill="#f9e9e6"/><rect x="330.44" y="589.60" width="11.38" height="11.31" fill="#f0d1c9"/><rect x="341.77" y="589.60" width="11.38" height="11.31" fill="#eee7f7"/><rect x="353.09" y="589.60" width="11.38" height="11.31" fill="#eee7f7"/><rect x="364.42" y="589.60" width="11.38" height="11.31" fill="#dacdee"/><rect x="375.75" y="589.60" width="11.38" height="11.31" fill="#eee7f7"/><rect x="387.08" y="589.60" width="11.38" height="11.31" fill="#eee7f7"/><rect x="398.40" y="589.60" width="11.38" height="11.31" fill="#ffffff"/><rect x="409.73" y="589.60" width="11.38" height="11.31" fill="#e6b5a9"/><rect x="421.06" y="589.60" width="11.38" height="11.31" fill="#f0d1c9"/><rect x="432.39" y="589.60" width="11.38" height="11.31" fill="#e6b5a9"/><rect x="443.71" y="589.60" width="11.38" height="11.31" fill="#e6b5a9"/><rect x="455.04" y="589.60" width="11.38" height="11.31" fill="#dacdee"/><rect x="466.37" y="589.60" width="11.38" height="11.31" fill="#dacdee"/><rect x="477.70" y="589.60" width="11.38" height="11.31" fill="#eee7f7"/><rect x="489.02" y="589.60" width="11.38" height="11.31" fill="#eee7f7"/><rect x="500.35" y="589.60" width="11.38" height="11.31" fill="#eee7f7"/><rect x="511.68" y="589.60" width="11.38" height="11.31" fill="#ffffff"/><rect x="523.01" y="589.60" width="11.38" height="11.31" fill="#eee7f7"/><rect x="534.33" y="589.60" width="11.38" height="11.31" fill="#ffffff"/><rect x="545.66" y="589.60" width="11.38" height="11.31" fill="#c4afe3"/><rect x="556.99" y="589.60" width="11.38" height="11.31" fill="#eee7f7"/><rect x="568.32" y="589.60" width="11.38" height="11.31" fill="#ffffff"/><rect x="579.64" y="589.60" width="11.38" height="11.31" fill="#eee7f7"/><rect x="590.97" y="589.60" width="11.38" height="11.31" fill="#f0d1c9"/><rect x="149.20" y="600.86" width="11.38" height="11.31" fill="#fcf5f4"/><rect x="160.53" y="600.86" width="11.38" height="11.31" fill="#f0d1c9"/><rect x="171.85" y="600.86" width="11.38" height="11.31" fill="#ffffff"/><rect x="183.18" y="600.86" width="11.38" height="11.31" fill="#fcf5f4"/><rect x="194.51" y="600.86" width="11.38" height="11.31" fill="#f9e9e6"/><rect x="205.84" y="600.86" width="11.38" height="11.31" fill="#f0d1c9"/><rect x="217.16" y="600.86" width="11.38" height="11.31" fill="#ffffff"/><rect x="228.49" y="600.86" width="11.38" height="11.31" fill="#f0d1c9"/><rect x="239.82" y="600.86" width="11.38" height="11.31" fill="#fcf5f4"/><rect x="251.15" y="600.86" width="11.38" height="11.31" fill="#f0d1c9"/><rect x="262.47" y="600.86" width="11.38" height="11.31" fill="#f9e9e6"/><rect x="273.80" y="600.86" width="11.38" height="11.31" fill="#f0d1c9"/><rect x="285.13" y="600.86" width="11.38" height="11.31" fill="#f9e9e6"/><rect x="296.46" y="600.86" width="11.38" height="11.31" fill="#f9e9e6"/><rect x="307.78" y="600.86" width="11.38" height="11.31" fill="#ffffff"/><rect x="319.11" y="600.86" width="11.38" height="11.31" fill="#f0d1c9"/><rect x="330.44" y="600.86" width="11.38" height="11.31" fill="#f9e9e6"/><rect x="341.77" y="600.86" width="11.38" height="11.31" fill="#dacdee"/><rect x="353.09" y="600.86" width="11.38" height="11.31" fill="#eee7f7"/><rect x="364.42" y="600.86" width="11.38" height="11.31" fill="#f9e9e6"/><rect x="375.75" y="600.86" width="11.38" height="11.31" fill="#f0d1c9"/><rect x="387.08" y="600.86" width="11.38" height="11.31" fill="#f7f4fb"/><rect x="398.40" y="600.86" width="11.38" height="11.31" fill="#ffffff"/><rect x="409.73" y="600.86" width="11.38" height="11.31" fill="#e6b5a9"/><rect x="421.06" y="600.86" width="11.38" height="11.31" fill="#f9e9e6"/><rect x="432.39" y="600.86" width="11.38" height="11.31" fill="#e6b5a9"/><rect x="443.71" y="600.86" width="11.38" height="11.31" fill="#e6b5a9"/><rect x="455.04" y="600.86" width="11.38" height="11.31" fill="#ffffff"/><rect x="466.37" y="600.86" width="11.38" height="11.31" fill="#fcf5f4"/><rect x="477.70" y="600.86" width="11.38" height="11.31" fill="#f9e9e6"/><rect x="489.02" y="600.86" width="11.38" height="11.31" fill="#ffffff"/><rect x="500.35" y="600.86" width="11.38" height="11.31" fill="#ffffff"/><rect x="511.68" y="600.86" width="11.38" height="11.31" fill="#fcf5f4"/><rect x="523.01" y="600.86" width="11.38" height="11.31" fill="#ffffff"/><rect x="534.33" y="600.86" width="11.38" height="11.31" fill="#fcf5f4"/><rect x="545.66" y="600.86" width="11.38" height="11.31" fill="#f0d1c9"/><rect x="556.99" y="600.86" width="11.38" height="11.31" fill="#ffffff"/><rect x="568.32" y="600.86" width="11.38" height="11.31" fill="#f9e9e6"/><rect x="579.64" y="600.86" width="11.38" height="11.31" fill="#ffffff"/><rect x="590.97" y="600.86" width="11.38" height="11.31" fill="#f0d1c9"/><rect x="149.20" y="612.12" width="11.38" height="11.31" fill="#ffffff"/><rect x="160.53" y="612.12" width="11.38" height="11.31" fill="#f0d1c9"/><rect x="171.85" y="612.12" width="11.38" height="11.31" fill="#f7f4fb"/><rect x="183.18" y="612.12" width="11.38" height="11.31" fill="#fcf5f4"/><rect x="194.51" y="612.12" width="11.38" height="11.31" fill="#eee7f7"/><rect x="205.84" y="612.12" width="11.38" height="11.31" fill="#dacdee"/><rect x="217.16" y="612.12" width="11.38" height="11.31" fill="#f7f4fb"/><rect x="228.49" y="612.12" width="11.38" height="11.31" fill="#f0d1c9"/><rect x="239.82" y="612.12" width="11.38" height="11.31" fill="#fcf5f4"/><rect x="251.15" y="612.12" width="11.38" height="11.31" fill="#f7f4fb"/><rect x="262.47" y="612.12" width="11.38" height="11.31" fill="#ffffff"/><rect x="273.80" y="612.12" width="11.38" height="11.31" fill="#dacdee"/><rect x="285.13" y="612.12" width="11.38" height="11.31" fill="#fcf5f4"/><rect x="296.46" y="612.12" width="11.38" height="11.31" fill="#f9e9e6"/><rect x="307.78" y="612.12" width="11.38" height="11.31" fill="#fcf5f4"/><rect x="319.11" y="612.12" width="11.38" height="11.31" fill="#f0d1c9"/><rect x="330.44" y="612.12" width="11.38" height="11.31" fill="#f9e9e6"/><rect x="341.77" y="612.12" width="11.38" height="11.31" fill="#c4afe3"/><rect x="353.09" y="612.12" width="11.38" height="11.31" fill="#eee7f7"/><rect x="364.42" y="612.12" width="11.38" height="11.31" fill="#fcf5f4"/><rect x="375.75" y="612.12" width="11.38" height="11.31" fill="#f9e9e6"/><rect x="387.08" y="612.12" width="11.38" height="11.31" fill="#eee7f7"/><rect x="398.40" y="612.12" width="11.38" height="11.31" fill="#ffffff"/><rect x="409.73" y="612.12" width="11.38" height="11.31" fill="#f9e9e6"/><rect x="421.06" y="612.12" width="11.38" height="11.31" fill="#f9e9e6"/><rect x="432.39" y="612.12" width="11.38" height="11.31" fill="#e6b5a9"/><rect x="443.71" y="612.12" width="11.38" height="11.31" fill="#e6b5a9"/><rect x="455.04" y="612.12" width="11.38" height="11.31" fill="#ffffff"/><rect x="466.37" y="612.12" width="11.38" height="11.31" fill="#fcf5f4"/><rect x="477.70" y="612.12" width="11.38" height="11.31" fill="#f9e9e6"/><rect x="489.02" y="612.12" width="11.38" height="11.31" fill="#f7f4fb"/><rect x="500.35" y="612.12" width="11.38" height="11.31" fill="#ffffff"/><rect x="511.68" y="612.12" width="11.38" height="11.31" fill="#eee7f7"/><rect x="523.01" y="612.12" width="11.38" height="11.31" fill="#ffffff"/><rect x="534.33" y="612.12" width="11.38" height="11.31" fill="#eee7f7"/><rect x="545.66" y="612.12" width="11.38" height="11.31" fill="#f0d1c9"/><rect x="556.99" y="612.12" width="11.38" height="11.31" fill="#ffffff"/><rect x="568.32" y="612.12" width="11.38" height="11.31" fill="#ffffff"/><rect x="579.64" y="612.12" width="11.38" height="11.31" fill="#ffffff"/><rect x="590.97" y="612.12" width="11.38" height="11.31" fill="#dacdee"/><rect x="149.20" y="623.38" width="11.38" height="11.31" fill="#eee7f7"/><rect x="160.53" y="623.38" width="11.38" height="11.31" fill="#eee7f7"/><rect x="171.85" y="623.38" width="11.38" height="11.31" fill="#f7f4fb"/><rect x="183.18" y="623.38" width="11.38" height="11.31" fill="#f9e9e6"/><rect x="194.51" y="623.38" width="11.38" height="11.31" fill="#eee7f7"/><rect x="205.84" y="623.38" width="11.38" height="11.31" fill="#eee7f7"/><rect x="217.16" y="623.38" width="11.38" height="11.31" fill="#ffffff"/><rect x="228.49" y="623.38" width="11.38" height="11.31" fill="#c4afe3"/><rect x="239.82" y="623.38" width="11.38" height="11.31" fill="#eee7f7"/><rect x="251.15" y="623.38" width="11.38" height="11.31" fill="#dacdee"/><rect x="262.47" y="623.38" width="11.38" height="11.31" fill="#dacdee"/><rect x="273.80" y="623.38" width="11.38" height="11.31" fill="#ffffff"/><rect x="285.13" y="623.38" width="11.38" height="11.31" fill="#eee7f7"/><rect x="296.46" y="623.38" width="11.38" height="11.31" fill="#eee7f7"/><rect x="307.78" y="623.38" width="11.38" height="11.31" fill="#ffffff"/><rect x="319.11" y="623.38" width="11.38" height="11.31" fill="#ffffff"/><rect x="330.44" y="623.38" width="11.38" height="11.31" fill="#eee7f7"/><rect x="341.77" y="623.38" width="11.38" height="11.31" fill="#f0d1c9"/><rect x="353.09" y="623.38" width="11.38" height="11.31" fill="#f7f4fb"/><rect x="364.42" y="623.38" width="11.38" height="11.31" fill="#dacdee"/><rect x="375.75" y="623.38" width="11.38" height="11.31" fill="#eee7f7"/><rect x="387.08" y="623.38" width="11.38" height="11.31" fill="#dacdee"/><rect x="398.40" y="623.38" width="11.38" height="11.31" fill="#fcf5f4"/><rect x="409.73" y="623.38" width="11.38" height="11.31" fill="#f0d1c9"/><rect x="421.06" y="623.38" width="11.38" height="11.31" fill="#dacdee"/><rect x="432.39" y="623.38" width="11.38" height="11.31" fill="#dacdee"/><rect x="443.71" y="623.38" width="11.38" height="11.31" fill="#ffffff"/><rect x="455.04" y="623.38" width="11.38" height="11.31" fill="#f9e9e6"/><rect x="466.37" y="623.38" width="11.38" height="11.31" fill="#fcf5f4"/><rect x="477.70" y="623.38" width="11.38" height="11.31" fill="#f9e9e6"/><rect x="489.02" y="623.38" width="11.38" height="11.31" fill="#ffffff"/><rect x="500.35" y="623.38" width="11.38" height="11.31" fill="#eee7f7"/><rect x="511.68" y="623.38" width="11.38" height="11.31" fill="#eee7f7"/><rect x="523.01" y="623.38" width="11.38" height="11.31" fill="#ffffff"/><rect x="534.33" y="623.38" width="11.38" height="11.31" fill="#ffffff"/><rect x="545.66" y="623.38" width="11.38" height="11.31" fill="#f0d1c9"/><rect x="556.99" y="623.38" width="11.38" height="11.31" fill="#ffffff"/><rect x="568.32" y="623.38" width="11.38" height="11.31" fill="#f7f4fb"/><rect x="579.64" y="623.38" width="11.38" height="11.31" fill="#ffffff"/><rect x="590.97" y="623.38" width="11.38" height="11.31" fill="#f0d1c9"/><rect x="149.20" y="634.64" width="11.38" height="11.31" fill="#f7f4fb"/><rect x="160.53" y="634.64" width="11.38" height="11.31" fill="#ffffff"/><rect x="171.85" y="634.64" width="11.38" height="11.31" fill="#eee7f7"/><rect x="183.18" y="634.64" width="11.38" height="11.31" fill="#fcf5f4"/><rect x="194.51" y="634.64" width="11.38" height="11.31" fill="#f9e9e6"/><rect x="205.84" y="634.64" width="11.38" height="11.31" fill="#f0d1c9"/><rect x="217.16" y="634.64" width="11.38" height="11.31" fill="#f9e9e6"/><rect x="228.49" y="634.64" width="11.38" height="11.31" fill="#e6b5a9"/><rect x="239.82" y="634.64" width="11.38" height="11.31" fill="#eee7f7"/><rect x="251.15" y="634.64" width="11.38" height="11.31" fill="#f9e9e6"/><rect x="262.47" y="634.64" width="11.38" height="11.31" fill="#fcf5f4"/><rect x="273.80" y="634.64" width="11.38" height="11.31" fill="#f0d1c9"/><rect x="285.13" y="634.64" width="11.38" height="11.31" fill="#eee7f7"/><rect x="296.46" y="634.64" width="11.38" height="11.31" fill="#fcf5f4"/><rect x="307.78" y="634.64" width="11.38" height="11.31" fill="#f7f4fb"/><rect x="319.11" y="634.64" width="11.38" height="11.31" fill="#ffffff"/><rect x="330.44" y="634.64" width="11.38" height="11.31" fill="#eee7f7"/><rect x="341.77" y="634.64" width="11.38" height="11.31" fill="#f9e9e6"/><rect x="353.09" y="634.64" width="11.38" height="11.31" fill="#f9e9e6"/><rect x="364.42" y="634.64" width="11.38" height="11.31" fill="#c4afe3"/><rect x="375.75" y="634.64" width="11.38" height="11.31" fill="#eee7f7"/><rect x="387.08" y="634.64" width="11.38" height="11.31" fill="#dacdee"/><rect x="398.40" y="634.64" width="11.38" height="11.31" fill="#f7f4fb"/><rect x="409.73" y="634.64" width="11.38" height="11.31" fill="#eee7f7"/><rect x="421.06" y="634.64" width="11.38" height="11.31" fill="#fcf5f4"/><rect x="432.39" y="634.64" width="11.38" height="11.31" fill="#f9e9e6"/><rect x="443.71" y="634.64" width="11.38" height="11.31" fill="#ffffff"/><rect x="455.04" y="634.64" width="11.38" height="11.31" fill="#f9e9e6"/><rect x="466.37" y="634.64" width="11.38" height="11.31" fill="#f9e9e6"/><rect x="477.70" y="634.64" width="11.38" height="11.31" fill="#f9e9e6"/><rect x="489.02" y="634.64" width="11.38" height="11.31" fill="#f9e9e6"/><rect x="500.35" y="634.64" width="11.38" height="11.31" fill="#f7f4fb"/><rect x="511.68" y="634.64" width="11.38" height="11.31" fill="#eee7f7"/><rect x="523.01" y="634.64" width="11.38" height="11.31" fill="#ffffff"/><rect x="534.33" y="634.64" width="11.38" height="11.31" fill="#ffffff"/><rect x="545.66" y="634.64" width="11.38" height="11.31" fill="#dacdee"/><rect x="556.99" y="634.64" width="11.38" height="11.31" fill="#fcf5f4"/><rect x="568.32" y="634.64" width="11.38" height="11.31" fill="#fcf5f4"/><rect x="579.64" y="634.64" width="11.38" height="11.31" fill="#fcf5f4"/><rect x="590.97" y="634.64" width="11.38" height="11.31" fill="#dacdee"/><rect x="149.20" y="645.90" width="11.38" height="11.31" fill="#ffffff"/><rect x="160.53" y="645.90" width="11.38" height="11.31" fill="#c4afe3"/><rect x="171.85" y="645.90" width="11.38" height="11.31" fill="#ffffff"/><rect x="183.18" y="645.90" width="11.38" height="11.31" fill="#ffffff"/><rect x="194.51" y="645.90" width="11.38" height="11.31" fill="#eee7f7"/><rect x="205.84" y="645.90" width="11.38" height="11.31" fill="#dacdee"/><rect x="217.16" y="645.90" width="11.38" height="11.31" fill="#eee7f7"/><rect x="228.49" y="645.90" width="11.38" height="11.31" fill="#c4afe3"/><rect x="239.82" y="645.90" width="11.38" height="11.31" fill="#ffffff"/><rect x="251.15" y="645.90" width="11.38" height="11.31" fill="#f0d1c9"/><rect x="262.47" y="645.90" width="11.38" height="11.31" fill="#f7f4fb"/><rect x="273.80" y="645.90" width="11.38" height="11.31" fill="#c4afe3"/><rect x="285.13" y="645.90" width="11.38" height="11.31" fill="#ffffff"/><rect x="296.46" y="645.90" width="11.38" height="11.31" fill="#ffffff"/><rect x="307.78" y="645.90" width="11.38" height="11.31" fill="#ffffff"/><rect x="319.11" y="645.90" width="11.38" height="11.31" fill="#ffffff"/><rect x="330.44" y="645.90" width="11.38" height="11.31" fill="#f9e9e6"/><rect x="341.77" y="645.90" width="11.38" height="11.31" fill="#f0d1c9"/><rect x="353.09" y="645.90" width="11.38" height="11.31" fill="#dacdee"/><rect x="364.42" y="645.90" width="11.38" height="11.31" fill="#f0d1c9"/><rect x="375.75" y="645.90" width="11.38" height="11.31" fill="#eee7f7"/><rect x="387.08" y="645.90" width="11.38" height="11.31" fill="#f9e9e6"/><rect x="398.40" y="645.90" width="11.38" height="11.31" fill="#ffffff"/><rect x="409.73" y="645.90" width="11.38" height="11.31" fill="#eee7f7"/><rect x="421.06" y="645.90" width="11.38" height="11.31" fill="#f9e9e6"/><rect x="432.39" y="645.90" width="11.38" height="11.31" fill="#dacdee"/><rect x="443.71" y="645.90" width="11.38" height="11.31" fill="#ffffff"/><rect x="455.04" y="645.90" width="11.38" height="11.31" fill="#ffffff"/><rect x="466.37" y="645.90" width="11.38" height="11.31" fill="#fcf5f4"/><rect x="477.70" y="645.90" width="11.38" height="11.31" fill="#eee7f7"/><rect x="489.02" y="645.90" width="11.38" height="11.31" fill="#eee7f7"/><rect x="500.35" y="645.90" width="11.38" height="11.31" fill="#eee7f7"/><rect x="511.68" y="645.90" width="11.38" height="11.31" fill="#eee7f7"/><rect x="523.01" y="645.90" width="11.38" height="11.31" fill="#f7f4fb"/><rect x="534.33" y="645.90" width="11.38" height="11.31" fill="#f9e9e6"/><rect x="545.66" y="645.90" width="11.38" height="11.31" fill="#f9e9e6"/><rect x="556.99" y="645.90" width="11.38" height="11.31" fill="#ffffff"/><rect x="568.32" y="645.90" width="11.38" height="11.31" fill="#fcf5f4"/><rect x="579.64" y="645.90" width="11.38" height="11.31" fill="#ffffff"/><rect x="590.97" y="645.90" width="11.38" height="11.31" fill="#eee7f7"/><rect x="149.20" y="657.16" width="11.38" height="11.31" fill="#fcf5f4"/><rect x="160.53" y="657.16" width="11.38" height="11.31" fill="#f9e9e6"/><rect x="171.85" y="657.16" width="11.38" height="11.31" fill="#f7f4fb"/><rect x="183.18" y="657.16" width="11.38" height="11.31" fill="#f9e9e6"/><rect x="194.51" y="657.16" width="11.38" height="11.31" fill="#f9e9e6"/><rect x="205.84" y="657.16" width="11.38" height="11.31" fill="#f9e9e6"/><rect x="217.16" y="657.16" width="11.38" height="11.31" fill="#fcf5f4"/><rect x="228.49" y="657.16" width="11.38" height="11.31" fill="#f9e9e6"/><rect x="239.82" y="657.16" width="11.38" height="11.31" fill="#fcf5f4"/><rect x="251.15" y="657.16" width="11.38" height="11.31" fill="#ffffff"/><rect x="262.47" y="657.16" width="11.38" height="11.31" fill="#f9e9e6"/><rect x="273.80" y="657.16" width="11.38" height="11.31" fill="#f9e9e6"/><rect x="285.13" y="657.16" width="11.38" height="11.31" fill="#fcf5f4"/><rect x="296.46" y="657.16" width="11.38" height="11.31" fill="#f9e9e6"/><rect x="307.78" y="657.16" width="11.38" height="11.31" fill="#ffffff"/><rect x="319.11" y="657.16" width="11.38" height="11.31" fill="#f9e9e6"/><rect x="330.44" y="657.16" width="11.38" height="11.31" fill="#fcf5f4"/><rect x="341.77" y="657.16" width="11.38" height="11.31" fill="#f7f4fb"/><rect x="353.09" y="657.16" width="11.38" height="11.31" fill="#fcf5f4"/><rect x="364.42" y="657.16" width="11.38" height="11.31" fill="#f9e9e6"/><rect x="375.75" y="657.16" width="11.38" height="11.31" fill="#fcf5f4"/><rect x="387.08" y="657.16" width="11.38" height="11.31" fill="#fcf5f4"/><rect x="398.40" y="657.16" width="11.38" height="11.31" fill="#fcf5f4"/><rect x="409.73" y="657.16" width="11.38" height="11.31" fill="#f9e9e6"/><rect x="421.06" y="657.16" width="11.38" height="11.31" fill="#f9e9e6"/><rect x="432.39" y="657.16" width="11.38" height="11.31" fill="#f0d1c9"/><rect x="443.71" y="657.16" width="11.38" height="11.31" fill="#f9e9e6"/><rect x="455.04" y="657.16" width="11.38" height="11.31" fill="#eee7f7"/><rect x="466.37" y="657.16" width="11.38" height="11.31" fill="#eee7f7"/><rect x="477.70" y="657.16" width="11.38" height="11.31" fill="#ffffff"/><rect x="489.02" y="657.16" width="11.38" height="11.31" fill="#f9e9e6"/><rect x="500.35" y="657.16" width="11.38" height="11.31" fill="#f9e9e6"/><rect x="511.68" y="657.16" width="11.38" height="11.31" fill="#fcf5f4"/><rect x="523.01" y="657.16" width="11.38" height="11.31" fill="#eee7f7"/><rect x="534.33" y="657.16" width="11.38" height="11.31" fill="#f9e9e6"/><rect x="545.66" y="657.16" width="11.38" height="11.31" fill="#fcf5f4"/><rect x="556.99" y="657.16" width="11.38" height="11.31" fill="#fcf5f4"/><rect x="568.32" y="657.16" width="11.38" height="11.31" fill="#fcf5f4"/><rect x="579.64" y="657.16" width="11.38" height="11.31" fill="#ffffff"/><rect x="590.97" y="657.16" width="11.38" height="11.31" fill="#f9e9e6"/><rect x="149.20" y="668.42" width="11.38" height="11.31" fill="#ffffff"/><rect x="160.53" y="668.42" width="11.38" height="11.31" fill="#eee7f7"/><rect x="171.85" y="668.42" width="11.38" height="11.31" fill="#ffffff"/><rect x="183.18" y="668.42" width="11.38" height="11.31" fill="#ffffff"/><rect x="194.51" y="668.42" width="11.38" height="11.31" fill="#f7f4fb"/><rect x="205.84" y="668.42" width="11.38" height="11.31" fill="#f9e9e6"/><rect x="217.16" y="668.42" width="11.38" height="11.31" fill="#eee7f7"/><rect x="228.49" y="668.42" width="11.38" height="11.31" fill="#c4afe3"/><rect x="239.82" y="668.42" width="11.38" height="11.31" fill="#ffffff"/><rect x="251.15" y="668.42" width="11.38" height="11.31" fill="#ffffff"/><rect x="262.47" y="668.42" width="11.38" height="11.31" fill="#f7f4fb"/><rect x="273.80" y="668.42" width="11.38" height="11.31" fill="#eee7f7"/><rect x="285.13" y="668.42" width="11.38" height="11.31" fill="#f7f4fb"/><rect x="296.46" y="668.42" width="11.38" height="11.31" fill="#ffffff"/><rect x="307.78" y="668.42" width="11.38" height="11.31" fill="#fcf5f4"/><rect x="319.11" y="668.42" width="11.38" height="11.31" fill="#fcf5f4"/><rect x="330.44" y="668.42" width="11.38" height="11.31" fill="#f9e9e6"/><rect x="341.77" y="668.42" width="11.38" height="11.31" fill="#f9e9e6"/><rect x="353.09" y="668.42" width="11.38" height="11.31" fill="#eee7f7"/><rect x="364.42" y="668.42" width="11.38" height="11.31" fill="#f9e9e6"/><rect x="375.75" y="668.42" width="11.38" height="11.31" fill="#eee7f7"/><rect x="387.08" y="668.42" width="11.38" height="11.31" fill="#f9e9e6"/><rect x="398.40" y="668.42" width="11.38" height="11.31" fill="#f9e9e6"/><rect x="409.73" y="668.42" width="11.38" height="11.31" fill="#f9e9e6"/><rect x="421.06" y="668.42" width="11.38" height="11.31" fill="#ffffff"/><rect x="432.39" y="668.42" width="11.38" height="11.31" fill="#ffffff"/><rect x="443.71" y="668.42" width="11.38" height="11.31" fill="#fcf5f4"/><rect x="455.04" y="668.42" width="11.38" height="11.31" fill="#ffffff"/><rect x="466.37" y="668.42" width="11.38" height="11.31" fill="#eee7f7"/><rect x="477.70" y="668.42" width="11.38" height="11.31" fill="#dacdee"/><rect x="489.02" y="668.42" width="11.38" height="11.31" fill="#eee7f7"/><rect x="500.35" y="668.42" width="11.38" height="11.31" fill="#f9e9e6"/><rect x="511.68" y="668.42" width="11.38" height="11.31" fill="#ffffff"/><rect x="523.01" y="668.42" width="11.38" height="11.31" fill="#f9e9e6"/><rect x="534.33" y="668.42" width="11.38" height="11.31" fill="#f9e9e6"/><rect x="545.66" y="668.42" width="11.38" height="11.31" fill="#f9e9e6"/><rect x="556.99" y="668.42" width="11.38" height="11.31" fill="#f7f4fb"/><rect x="568.32" y="668.42" width="11.38" height="11.31" fill="#fcf5f4"/><rect x="579.64" y="668.42" width="11.38" height="11.31" fill="#eee7f7"/><rect x="590.97" y="668.42" width="11.38" height="11.31" fill="#f0d1c9"/><rect x="149.20" y="679.68" width="11.38" height="11.31" fill="#eee7f7"/><rect x="160.53" y="679.68" width="11.38" height="11.31" fill="#ffffff"/><rect x="171.85" y="679.68" width="11.38" height="11.31" fill="#f7f4fb"/><rect x="183.18" y="679.68" width="11.38" height="11.31" fill="#ffffff"/><rect x="194.51" y="679.68" width="11.38" height="11.31" fill="#eee7f7"/><rect x="205.84" y="679.68" width="11.38" height="11.31" fill="#eee7f7"/><rect x="217.16" y="679.68" width="11.38" height="11.31" fill="#ffffff"/><rect x="228.49" y="679.68" width="11.38" height="11.31" fill="#f9e9e6"/><rect x="239.82" y="679.68" width="11.38" height="11.31" fill="#f7f4fb"/><rect x="251.15" y="679.68" width="11.38" height="11.31" fill="#fcf5f4"/><rect x="262.47" y="679.68" width="11.38" height="11.31" fill="#eee7f7"/><rect x="273.80" y="679.68" width="11.38" height="11.31" fill="#ffffff"/><rect x="285.13" y="679.68" width="11.38" height="11.31" fill="#ffffff"/><rect x="296.46" y="679.68" width="11.38" height="11.31" fill="#ffffff"/><rect x="307.78" y="679.68" width="11.38" height="11.31" fill="#f7f4fb"/><rect x="319.11" y="679.68" width="11.38" height="11.31" fill="#eee7f7"/><rect x="330.44" y="679.68" width="11.38" height="11.31" fill="#f9e9e6"/><rect x="341.77" y="679.68" width="11.38" height="11.31" fill="#dacdee"/><rect x="353.09" y="679.68" width="11.38" height="11.31" fill="#eee7f7"/><rect x="364.42" y="679.68" width="11.38" height="11.31" fill="#f7f4fb"/><rect x="375.75" y="679.68" width="11.38" height="11.31" fill="#ffffff"/><rect x="387.08" y="679.68" width="11.38" height="11.31" fill="#eee7f7"/><rect x="398.40" y="679.68" width="11.38" height="11.31" fill="#eee7f7"/><rect x="409.73" y="679.68" width="11.38" height="11.31" fill="#fcf5f4"/><rect x="421.06" y="679.68" width="11.38" height="11.31" fill="#f7f4fb"/><rect x="432.39" y="679.68" width="11.38" height="11.31" fill="#eee7f7"/><rect x="443.71" y="679.68" width="11.38" height="11.31" fill="#dacdee"/><rect x="455.04" y="679.68" width="11.38" height="11.31" fill="#ffffff"/><rect x="466.37" y="679.68" width="11.38" height="11.31" fill="#fcf5f4"/><rect x="477.70" y="679.68" width="11.38" height="11.31" fill="#fcf5f4"/><rect x="489.02" y="679.68" width="11.38" height="11.31" fill="#ffffff"/><rect x="500.35" y="679.68" width="11.38" height="11.31" fill="#ffffff"/><rect x="511.68" y="679.68" width="11.38" height="11.31" fill="#eee7f7"/><rect x="523.01" y="679.68" width="11.38" height="11.31" fill="#ffffff"/><rect x="534.33" y="679.68" width="11.38" height="11.31" fill="#f7f4fb"/><rect x="545.66" y="679.68" width="11.38" height="11.31" fill="#eee7f7"/><rect x="556.99" y="679.68" width="11.38" height="11.31" fill="#ffffff"/><rect x="568.32" y="679.68" width="11.38" height="11.31" fill="#ffffff"/><rect x="579.64" y="679.68" width="11.38" height="11.31" fill="#ffffff"/><rect x="590.97" y="679.68" width="11.38" height="11.31" fill="#eee7f7"/><rect x="149.20" y="690.94" width="11.38" height="11.31" fill="#ffffff"/><rect x="160.53" y="690.94" width="11.38" height="11.31" fill="#ffffff"/><rect x="171.85" y="690.94" width="11.38" height="11.31" fill="#ffffff"/><rect x="183.18" y="690.94" width="11.38" height="11.31" fill="#ffffff"/><rect x="194.51" y="690.94" width="11.38" height="11.31" fill="#fcf5f4"/><rect x="205.84" y="690.94" width="11.38" height="11.31" fill="#fcf5f4"/><rect x="217.16" y="690.94" width="11.38" height="11.31" fill="#ffffff"/><rect x="228.49" y="690.94" width="11.38" height="11.31" fill="#fcf5f4"/><rect x="239.82" y="690.94" width="11.38" height="11.31" fill="#ffffff"/><rect x="251.15" y="690.94" width="11.38" height="11.31" fill="#ffffff"/><rect x="262.47" y="690.94" width="11.38" height="11.31" fill="#ffffff"/><rect x="273.80" y="690.94" width="11.38" height="11.31" fill="#ffffff"/><rect x="285.13" y="690.94" width="11.38" height="11.31" fill="#ffffff"/><rect x="296.46" y="690.94" width="11.38" height="11.31" fill="#ffffff"/><rect x="307.78" y="690.94" width="11.38" height="11.31" fill="#ffffff"/><rect x="319.11" y="690.94" width="11.38" height="11.31" fill="#fcf5f4"/><rect x="330.44" y="690.94" width="11.38" height="11.31" fill="#ffffff"/><rect x="341.77" y="690.94" width="11.38" height="11.31" fill="#fcf5f4"/><rect x="353.09" y="690.94" width="11.38" height="11.31" fill="#fcf5f4"/><rect x="364.42" y="690.94" width="11.38" height="11.31" fill="#ffffff"/><rect x="375.75" y="690.94" width="11.38" height="11.31" fill="#ffffff"/><rect x="387.08" y="690.94" width="11.38" height="11.31" fill="#fcf5f4"/><rect x="398.40" y="690.94" width="11.38" height="11.31" fill="#ffffff"/><rect x="409.73" y="690.94" width="11.38" height="11.31" fill="#fcf5f4"/><rect x="421.06" y="690.94" width="11.38" height="11.31" fill="#ffffff"/><rect x="432.39" y="690.94" width="11.38" height="11.31" fill="#ffffff"/><rect x="443.71" y="690.94" width="11.38" height="11.31" fill="#ffffff"/><rect x="455.04" y="690.94" width="11.38" height="11.31" fill="#ffffff"/><rect x="466.37" y="690.94" width="11.38" height="11.31" fill="#ffffff"/><rect x="477.70" y="690.94" width="11.38" height="11.31" fill="#fcf5f4"/><rect x="489.02" y="690.94" width="11.38" height="11.31" fill="#ffffff"/><rect x="500.35" y="690.94" width="11.38" height="11.31" fill="#ffffff"/><rect x="511.68" y="690.94" width="11.38" height="11.31" fill="#ffffff"/><rect x="523.01" y="690.94" width="11.38" height="11.31" fill="#ffffff"/><rect x="534.33" y="690.94" width="11.38" height="11.31" fill="#fcf5f4"/><rect x="545.66" y="690.94" width="11.38" height="11.31" fill="#f9e9e6"/><rect x="556.99" y="690.94" width="11.38" height="11.31" fill="#ffffff"/><rect x="568.32" y="690.94" width="11.38" height="11.31" fill="#ffffff"/><rect x="579.64" y="690.94" width="11.38" height="11.31" fill="#ffffff"/><rect x="590.97" y="690.94" width="11.38" height="11.31" fill="#fcf5f4"/><path d="M149.20 533.30V702.20M160.53 533.30V702.20M171.85 533.30V702.20M183.18 533.30V702.20M194.51 533.30V702.20M205.84 533.30V702.20M217.16 533.30V702.20M228.49 533.30V702.20M239.82 533.30V702.20M251.15 533.30V702.20M262.47 533.30V702.20M273.80 533.30V702.20M285.13 533.30V702.20M296.46 533.30V702.20M307.78 533.30V702.20M319.11 533.30V702.20M330.44 533.30V702.20M341.77 533.30V702.20M353.09 533.30V702.20M364.42 533.30V702.20M375.75 533.30V702.20M387.08 533.30V702.20M398.40 533.30V702.20M409.73 533.30V702.20M421.06 533.30V702.20M432.39 533.30V702.20M443.71 533.30V702.20M455.04 533.30V702.20M466.37 533.30V702.20M477.70 533.30V702.20M489.02 533.30V702.20M500.35 533.30V702.20M511.68 533.30V702.20M523.01 533.30V702.20M534.33 533.30V702.20M545.66 533.30V702.20M556.99 533.30V702.20M568.32 533.30V702.20M579.64 533.30V702.20M590.97 533.30V702.20M602.30 533.30V702.20M149.20 533.30H602.30M149.20 544.56H602.30M149.20 555.82H602.30M149.20 567.08H602.30M149.20 578.34H602.30M149.20 589.60H602.30M149.20 600.86H602.30M149.20 612.12H602.30M149.20 623.38H602.30M149.20 634.64H602.30M149.20 645.90H602.30M149.20 657.16H602.30M149.20 668.42H602.30M149.20 679.68H602.30M149.20 690.94H602.30M149.20 702.20H602.30" stroke="#5a5a5a" stroke-width="0.75" fill="none"/><rect x="453.44" y="533.30" width="3.2" height="168.90" fill="#000"/><rect x="600.50" y="533.30" width="1.8" height="168.90" fill="#000"/><path d="M149.20 533.30V702.20H602.30" stroke="#262626" stroke-width="0.7" fill="none"/><text x="143.50" y="542.33" font-size="9.65" fill="#4d4d4d" class="ax" text-anchor="end">GPS_radiusMobility</text><text x="143.50" y="553.59" font-size="9.65" fill="#4d4d4d" class="ax" text-anchor="end">GPS_distanceFromHome</text><text x="143.50" y="564.85" font-size="9.65" fill="#4d4d4d" class="ax" text-anchor="end">GPS_percentAtHome</text><text x="143.50" y="576.11" font-size="9.65" fill="#4d4d4d" class="ax" text-anchor="end">acc_daily</text><text x="143.50" y="587.37" font-size="9.65" fill="#4d4d4d" class="ax" text-anchor="end">GPS_missingHours</text><text x="143.50" y="598.63" font-size="9.65" fill="#4d4d4d" class="ax" text-anchor="end">pow_daily</text><text x="143.50" y="609.89" font-size="9.65" fill="#4d4d4d" class="ax" text-anchor="end">Phone_UseDuringSleep</text><text x="143.50" y="621.15" font-size="9.65" fill="#4d4d4d" class="ax" text-anchor="end">Phone_UseDuringWake</text><text x="143.50" y="632.41" font-size="9.65" fill="#4d4d4d" class="ax" text-anchor="end">Phone_SleepOffset</text><text x="143.50" y="643.67" font-size="9.65" fill="#4d4d4d" class="ax" text-anchor="end">Phone_SleepOnset</text><text x="143.50" y="654.93" font-size="9.65" fill="#4d4d4d" class="ax" text-anchor="end">Phone_UseDifferenceWakeSleep</text><text x="143.50" y="666.19" font-size="9.65" fill="#4d4d4d" class="ax" text-anchor="end">GPS_numberofPlaces</text><text x="143.50" y="677.45" font-size="9.65" fill="#4d4d4d" class="ax" text-anchor="end">Phone_SleepDuration</text><text x="143.50" y="688.71" font-size="9.65" fill="#4d4d4d" class="ax" text-anchor="end">weekday</text><text x="143.50" y="699.97" font-size="9.65" fill="#4d4d4d" class="ax" text-anchor="end">Phone_missing</text><text x="0" y="0" font-size="9.65" fill="#4d4d4d" class="ax" text-anchor="end" transform="translate(159.56 713.20) rotate(-45)">SUB4</text><text x="0" y="0" font-size="9.65" fill="#4d4d4d" class="ax" text-anchor="end" transform="translate(170.89 713.20) rotate(-45)">SUB5</text><text x="0" y="0" font-size="9.65" fill="#4d4d4d" class="ax" text-anchor="end" transform="translate(182.22 713.20) rotate(-45)">SUB7</text><text x="0" y="0" font-size="9.65" fill="#4d4d4d" class="ax" text-anchor="end" transform="translate(193.55 713.20) rotate(-45)">SUB11</text><text x="0" y="0" font-size="9.65" fill="#4d4d4d" class="ax" text-anchor="end" transform="translate(204.87 713.20) rotate(-45)">SUB12</text><text x="0" y="0" font-size="9.65" fill="#4d4d4d" class="ax" text-anchor="end" transform="translate(216.20 713.20) rotate(-45)">SUB14</text><text x="0" y="0" font-size="9.65" fill="#4d4d4d" class="ax" text-anchor="end" transform="translate(227.53 713.20) rotate(-45)">SUB15</text><text x="0" y="0" font-size="9.65" fill="#4d4d4d" class="ax" text-anchor="end" transform="translate(238.86 713.20) rotate(-45)">SUB16</text><text x="0" y="0" font-size="9.65" fill="#4d4d4d" class="ax" text-anchor="end" transform="translate(250.18 713.20) rotate(-45)">SUB17</text><text x="0" y="0" font-size="9.65" fill="#4d4d4d" class="ax" text-anchor="end" transform="translate(261.51 713.20) rotate(-45)">SUB18</text><text x="0" y="0" font-size="9.65" fill="#4d4d4d" class="ax" text-anchor="end" transform="translate(272.84 713.20) rotate(-45)">SUB19</text><text x="0" y="0" font-size="9.65" fill="#4d4d4d" class="ax" text-anchor="end" transform="translate(284.17 713.20) rotate(-45)">SUB20</text><text x="0" y="0" font-size="9.65" fill="#4d4d4d" class="ax" text-anchor="end" transform="translate(295.49 713.20) rotate(-45)">SUB21</text><text x="0" y="0" font-size="9.65" fill="#4d4d4d" class="ax" text-anchor="end" transform="translate(306.82 713.20) rotate(-45)">SUB23</text><text x="0" y="0" font-size="9.65" fill="#4d4d4d" class="ax" text-anchor="end" transform="translate(318.15 713.20) rotate(-45)">SUB24</text><text x="0" y="0" font-size="9.65" fill="#4d4d4d" class="ax" text-anchor="end" transform="translate(329.48 713.20) rotate(-45)">SUB31</text><text x="0" y="0" font-size="9.65" fill="#4d4d4d" class="ax" text-anchor="end" transform="translate(340.80 713.20) rotate(-45)">SUB32</text><text x="0" y="0" font-size="9.65" fill="#4d4d4d" class="ax" text-anchor="end" transform="translate(352.13 713.20) rotate(-45)">SUB34</text><text x="0" y="0" font-size="9.65" fill="#4d4d4d" class="ax" text-anchor="end" transform="translate(363.46 713.20) rotate(-45)">SUB36</text><text x="0" y="0" font-size="9.65" fill="#4d4d4d" class="ax" text-anchor="end" transform="translate(374.79 713.20) rotate(-45)">SUB38</text><text x="0" y="0" font-size="9.65" fill="#4d4d4d" class="ax" text-anchor="end" transform="translate(386.11 713.20) rotate(-45)">SUB40</text><text x="0" y="0" font-size="9.65" fill="#4d4d4d" class="ax" text-anchor="end" transform="translate(397.44 713.20) rotate(-45)">SUB41</text><text x="0" y="0" font-size="9.65" fill="#4d4d4d" class="ax" text-anchor="end" transform="translate(408.77 713.20) rotate(-45)">SUB47</text><text x="0" y="0" font-size="9.65" fill="#4d4d4d" class="ax" text-anchor="end" transform="translate(420.10 713.20) rotate(-45)">SUB53</text><text x="0" y="0" font-size="9.65" fill="#4d4d4d" class="ax" text-anchor="end" transform="translate(431.42 713.20) rotate(-45)">SUB55</text><text x="0" y="0" font-size="9.65" fill="#4d4d4d" class="ax" text-anchor="end" transform="translate(442.75 713.20) rotate(-45)">SUB61</text><text x="0" y="0" font-size="9.65" fill="#4d4d4d" class="ax" text-anchor="end" transform="translate(454.08 713.20) rotate(-45)">SUB69</text><text x="0" y="0" font-size="9.65" fill="#4d4d4d" class="ax" text-anchor="end" transform="translate(465.41 713.20) rotate(-45)">SUB8</text><text x="0" y="0" font-size="9.65" fill="#4d4d4d" class="ax" text-anchor="end" transform="translate(476.73 713.20) rotate(-45)">SUB10</text><text x="0" y="0" font-size="9.65" fill="#4d4d4d" class="ax" text-anchor="end" transform="translate(488.06 713.20) rotate(-45)">SUB26</text><text x="0" y="0" font-size="9.65" fill="#4d4d4d" class="ax" text-anchor="end" transform="translate(499.39 713.20) rotate(-45)">SUB27</text><text x="0" y="0" font-size="9.65" fill="#4d4d4d" class="ax" text-anchor="end" transform="translate(510.72 713.20) rotate(-45)">SUB30</text><text x="0" y="0" font-size="9.65" fill="#4d4d4d" class="ax" text-anchor="end" transform="translate(522.04 713.20) rotate(-45)">SUB46</text><text x="0" y="0" font-size="9.65" fill="#4d4d4d" class="ax" text-anchor="end" transform="translate(533.37 713.20) rotate(-45)">SUB50</text><text x="0" y="0" font-size="9.65" fill="#4d4d4d" class="ax" text-anchor="end" transform="translate(544.70 713.20) rotate(-45)">SUB52</text><text x="0" y="0" font-size="9.65" fill="#4d4d4d" class="ax" text-anchor="end" transform="translate(556.03 713.20) rotate(-45)">SUB57</text><text x="0" y="0" font-size="9.65" fill="#4d4d4d" class="ax" text-anchor="end" transform="translate(567.35 713.20) rotate(-45)">SUB64</text><text x="0" y="0" font-size="9.65" fill="#4d4d4d" class="ax" text-anchor="end" transform="translate(578.68 713.20) rotate(-45)">SUB67</text><text x="0" y="0" font-size="9.65" fill="#4d4d4d" class="ax" text-anchor="end" transform="translate(590.01 713.20) rotate(-45)">SUB68</text><text x="0" y="0" font-size="9.65" fill="#4d4d4d" class="ax" text-anchor="end" transform="translate(601.34 713.20) rotate(-45)">SUB70</text><path d="M145.60 538.93H149.20M145.60 550.19H149.20M145.60 561.45H149.20M145.60 572.71H149.20M145.60 583.97H149.20M145.60 595.23H149.20M145.60 606.49H149.20M145.60 617.75H149.20M145.60 629.01H149.20M145.60 640.27H149.20M145.60 651.53H149.20M145.60 662.79H149.20M145.60 674.05H149.20M145.60 685.31H149.20M145.60 696.57H149.20M154.86 702.20V705.90M166.19 702.20V705.90M177.52 702.20V705.90M188.85 702.20V705.90M200.17 702.20V705.90M211.50 702.20V705.90M222.83 702.20V705.90M234.16 702.20V705.90M245.48 702.20V705.90M256.81 702.20V705.90M268.14 702.20V705.90M279.47 702.20V705.90M290.79 702.20V705.90M302.12 702.20V705.90M313.45 702.20V705.90M324.78 702.20V705.90M336.10 702.20V705.90M347.43 702.20V705.90M358.76 702.20V705.90M370.09 702.20V705.90M381.41 702.20V705.90M392.74 702.20V705.90M404.07 702.20V705.90M415.40 702.20V705.90M426.72 702.20V705.90M438.05 702.20V705.90M449.38 702.20V705.90M460.71 702.20V705.90M472.03 702.20V705.90M483.36 702.20V705.90M494.69 702.20V705.90M506.02 702.20V705.90M517.34 702.20V705.90M528.67 702.20V705.90M540.00 702.20V705.90M551.33 702.20V705.90M562.65 702.20V705.90M573.98 702.20V705.90M585.31 702.20V705.90M596.64 702.20V705.90" stroke="#2b2b2b" stroke-width="1.2" fill="none"/><text x="150.90" y="759.80" font-size="14.0" fill="#000" class="tt">Feature Importance: Lonely</text><rect x="151.50" y="768.60" width="10.84" height="10.82" fill="#c4afe3"/><rect x="162.29" y="768.60" width="10.84" height="10.82" fill="#e6b5a9"/><rect x="173.08" y="768.60" width="10.84" height="10.82" fill="#d89787"/><rect x="183.86" y="768.60" width="10.84" height="10.82" fill="#cb7e6b"/><rect x="194.65" y="768.60" width="10.84" height="10.82" fill="#9e2f1e"/><rect x="205.44" y="768.60" width="10.84" height="10.82" fill="#dacdee"/><rect x="216.23" y="768.60" width="10.84" height="10.82" fill="#e6b5a9"/><rect x="227.02" y="768.60" width="10.84" height="10.82" fill="#9e2f1e"/><rect x="237.80" y="768.60" width="10.84" height="10.82" fill="#eee7f7"/><rect x="248.59" y="768.60" width="10.84" height="10.82" fill="#8d0603"/><rect x="259.38" y="768.60" width="10.84" height="10.82" fill="#e6b5a9"/><rect x="270.17" y="768.60" width="10.84" height="10.82" fill="#cb7e6b"/><rect x="280.96" y="768.60" width="10.84" height="10.82" fill="#d89787"/><rect x="291.75" y="768.60" width="10.84" height="10.82" fill="#eee7f7"/><rect x="302.53" y="768.60" width="10.84" height="10.82" fill="#c4afe3"/><rect x="313.32" y="768.60" width="10.84" height="10.82" fill="#cb7e6b"/><rect x="324.11" y="768.60" width="10.84" height="10.82" fill="#d89787"/><rect x="334.90" y="768.60" width="10.84" height="10.82" fill="#ffffff"/><rect x="345.69" y="768.60" width="10.84" height="10.82" fill="#fcf5f4"/><rect x="356.47" y="768.60" width="10.84" height="10.82" fill="#eee7f7"/><rect x="367.26" y="768.60" width="10.84" height="10.82" fill="#ae4b37"/><rect x="378.05" y="768.60" width="10.84" height="10.82" fill="#dacdee"/><rect x="388.84" y="768.60" width="10.84" height="10.82" fill="#dacdee"/><rect x="399.63" y="768.60" width="10.84" height="10.82" fill="#f0d1c9"/><rect x="410.41" y="768.60" width="10.84" height="10.82" fill="#ae4b37"/><rect x="421.20" y="768.60" width="10.84" height="10.82" fill="#f9e9e6"/><rect x="431.99" y="768.60" width="10.84" height="10.82" fill="#eee7f7"/><rect x="442.78" y="768.60" width="10.84" height="10.82" fill="#bd6450"/><rect x="453.57" y="768.60" width="10.84" height="10.82" fill="#f0d1c9"/><rect x="464.35" y="768.60" width="10.84" height="10.82" fill="#9374cc"/><rect x="475.14" y="768.60" width="10.84" height="10.82" fill="#cb7e6b"/><rect x="485.93" y="768.60" width="10.84" height="10.82" fill="#cb7e6b"/><rect x="496.72" y="768.60" width="10.84" height="10.82" fill="#fcf5f4"/><rect x="507.51" y="768.60" width="10.84" height="10.82" fill="#6240b7"/><rect x="518.30" y="768.60" width="10.84" height="10.82" fill="#0f00a0"/><rect x="529.08" y="768.60" width="10.84" height="10.82" fill="#6240b7"/><rect x="539.87" y="768.60" width="10.84" height="10.82" fill="#6240b7"/><rect x="550.66" y="768.60" width="10.84" height="10.82" fill="#361aa8"/><rect x="561.45" y="768.60" width="10.84" height="10.82" fill="#6240b7"/><rect x="572.24" y="768.60" width="10.84" height="10.82" fill="#6240b7"/><rect x="583.02" y="768.60" width="10.84" height="10.82" fill="#6240b7"/><rect x="593.81" y="768.60" width="10.84" height="10.82" fill="#4525ac"/><rect x="151.50" y="779.37" width="10.84" height="10.82" fill="#fcf5f4"/><rect x="162.29" y="779.37" width="10.84" height="10.82" fill="#e6b5a9"/><rect x="173.08" y="779.37" width="10.84" height="10.82" fill="#dacdee"/><rect x="183.86" y="779.37" width="10.84" height="10.82" fill="#f9e9e6"/><rect x="194.65" y="779.37" width="10.84" height="10.82" fill="#9e2f1e"/><rect x="205.44" y="779.37" width="10.84" height="10.82" fill="#ffffff"/><rect x="216.23" y="779.37" width="10.84" height="10.82" fill="#f9e9e6"/><rect x="227.02" y="779.37" width="10.84" height="10.82" fill="#4525ac"/><rect x="237.80" y="779.37" width="10.84" height="10.82" fill="#cb7e6b"/><rect x="248.59" y="779.37" width="10.84" height="10.82" fill="#dacdee"/><rect x="259.38" y="779.37" width="10.84" height="10.82" fill="#aa8fd7"/><rect x="270.17" y="779.37" width="10.84" height="10.82" fill="#e6b5a9"/><rect x="280.96" y="779.37" width="10.84" height="10.82" fill="#eee7f7"/><rect x="291.75" y="779.37" width="10.84" height="10.82" fill="#f0d1c9"/><rect x="302.53" y="779.37" width="10.84" height="10.82" fill="#cb7e6b"/><rect x="313.32" y="779.37" width="10.84" height="10.82" fill="#bd6450"/><rect x="324.11" y="779.37" width="10.84" height="10.82" fill="#bd6450"/><rect x="334.90" y="779.37" width="10.84" height="10.82" fill="#f9e9e6"/><rect x="345.69" y="779.37" width="10.84" height="10.82" fill="#eee7f7"/><rect x="356.47" y="779.37" width="10.84" height="10.82" fill="#dacdee"/><rect x="367.26" y="779.37" width="10.84" height="10.82" fill="#9374cc"/><rect x="378.05" y="779.37" width="10.84" height="10.82" fill="#fcf5f4"/><rect x="388.84" y="779.37" width="10.84" height="10.82" fill="#c4afe3"/><rect x="399.63" y="779.37" width="10.84" height="10.82" fill="#eee7f7"/><rect x="410.41" y="779.37" width="10.84" height="10.82" fill="#ae4b37"/><rect x="421.20" y="779.37" width="10.84" height="10.82" fill="#eee7f7"/><rect x="431.99" y="779.37" width="10.84" height="10.82" fill="#ffffff"/><rect x="442.78" y="779.37" width="10.84" height="10.82" fill="#aa8fd7"/><rect x="453.57" y="779.37" width="10.84" height="10.82" fill="#f9e9e6"/><rect x="464.35" y="779.37" width="10.84" height="10.82" fill="#e6b5a9"/><rect x="475.14" y="779.37" width="10.84" height="10.82" fill="#d89787"/><rect x="485.93" y="779.37" width="10.84" height="10.82" fill="#bd6450"/><rect x="496.72" y="779.37" width="10.84" height="10.82" fill="#aa8fd7"/><rect x="507.51" y="779.37" width="10.84" height="10.82" fill="#bd6450"/><rect x="518.30" y="779.37" width="10.84" height="10.82" fill="#d89787"/><rect x="529.08" y="779.37" width="10.84" height="10.82" fill="#bd6450"/><rect x="539.87" y="779.37" width="10.84" height="10.82" fill="#9e2f1e"/><rect x="550.66" y="779.37" width="10.84" height="10.82" fill="#9e2f1e"/><rect x="561.45" y="779.37" width="10.84" height="10.82" fill="#9374cc"/><rect x="572.24" y="779.37" width="10.84" height="10.82" fill="#bd6450"/><rect x="583.02" y="779.37" width="10.84" height="10.82" fill="#bd6450"/><rect x="593.81" y="779.37" width="10.84" height="10.82" fill="#bd6450"/><rect x="151.50" y="790.15" width="10.84" height="10.82" fill="#eee7f7"/><rect x="162.29" y="790.15" width="10.84" height="10.82" fill="#f9e9e6"/><rect x="173.08" y="790.15" width="10.84" height="10.82" fill="#e6b5a9"/><rect x="183.86" y="790.15" width="10.84" height="10.82" fill="#eee7f7"/><rect x="194.65" y="790.15" width="10.84" height="10.82" fill="#6240b7"/><rect x="205.44" y="790.15" width="10.84" height="10.82" fill="#dacdee"/><rect x="216.23" y="790.15" width="10.84" height="10.82" fill="#fcf5f4"/><rect x="227.02" y="790.15" width="10.84" height="10.82" fill="#6240b7"/><rect x="237.80" y="790.15" width="10.84" height="10.82" fill="#f9e9e6"/><rect x="248.59" y="790.15" width="10.84" height="10.82" fill="#e6b5a9"/><rect x="259.38" y="790.15" width="10.84" height="10.82" fill="#c4afe3"/><rect x="270.17" y="790.15" width="10.84" height="10.82" fill="#e6b5a9"/><rect x="280.96" y="790.15" width="10.84" height="10.82" fill="#dacdee"/><rect x="291.75" y="790.15" width="10.84" height="10.82" fill="#f9e9e6"/><rect x="302.53" y="790.15" width="10.84" height="10.82" fill="#9374cc"/><rect x="313.32" y="790.15" width="10.84" height="10.82" fill="#f0d1c9"/><rect x="324.11" y="790.15" width="10.84" height="10.82" fill="#d89787"/><rect x="334.90" y="790.15" width="10.84" height="10.82" fill="#9374cc"/><rect x="345.69" y="790.15" width="10.84" height="10.82" fill="#eee7f7"/><rect x="356.47" y="790.15" width="10.84" height="10.82" fill="#f7f4fb"/><rect x="367.26" y="790.15" width="10.84" height="10.82" fill="#aa8fd7"/><rect x="378.05" y="790.15" width="10.84" height="10.82" fill="#aa8fd7"/><rect x="388.84" y="790.15" width="10.84" height="10.82" fill="#dacdee"/><rect x="399.63" y="790.15" width="10.84" height="10.82" fill="#fcf5f4"/><rect x="410.41" y="790.15" width="10.84" height="10.82" fill="#9374cc"/><rect x="421.20" y="790.15" width="10.84" height="10.82" fill="#f9e9e6"/><rect x="431.99" y="790.15" width="10.84" height="10.82" fill="#f9e9e6"/><rect x="442.78" y="790.15" width="10.84" height="10.82" fill="#7c5ac2"/><rect x="453.57" y="790.15" width="10.84" height="10.82" fill="#fcf5f4"/><rect x="464.35" y="790.15" width="10.84" height="10.82" fill="#eee7f7"/><rect x="475.14" y="790.15" width="10.84" height="10.82" fill="#c4afe3"/><rect x="485.93" y="790.15" width="10.84" height="10.82" fill="#aa8fd7"/><rect x="496.72" y="790.15" width="10.84" height="10.82" fill="#d89787"/><rect x="507.51" y="790.15" width="10.84" height="10.82" fill="#cb7e6b"/><rect x="518.30" y="790.15" width="10.84" height="10.82" fill="#bd6450"/><rect x="529.08" y="790.15" width="10.84" height="10.82" fill="#cb7e6b"/><rect x="539.87" y="790.15" width="10.84" height="10.82" fill="#cb7e6b"/><rect x="550.66" y="790.15" width="10.84" height="10.82" fill="#6240b7"/><rect x="561.45" y="790.15" width="10.84" height="10.82" fill="#bd6450"/><rect x="572.24" y="790.15" width="10.84" height="10.82" fill="#cb7e6b"/><rect x="583.02" y="790.15" width="10.84" height="10.82" fill="#d89787"/><rect x="593.81" y="790.15" width="10.84" height="10.82" fill="#9374cc"/><rect x="151.50" y="800.92" width="10.84" height="10.82" fill="#dacdee"/><rect x="162.29" y="800.92" width="10.84" height="10.82" fill="#eee7f7"/><rect x="173.08" y="800.92" width="10.84" height="10.82" fill="#c4afe3"/><rect x="183.86" y="800.92" width="10.84" height="10.82" fill="#f9e9e6"/><rect x="194.65" y="800.92" width="10.84" height="10.82" fill="#ae4b37"/><rect x="205.44" y="800.92" width="10.84" height="10.82" fill="#f9e9e6"/><rect x="216.23" y="800.92" width="10.84" height="10.82" fill="#c4afe3"/><rect x="227.02" y="800.92" width="10.84" height="10.82" fill="#6240b7"/><rect x="237.80" y="800.92" width="10.84" height="10.82" fill="#f9e9e6"/><rect x="248.59" y="800.92" width="10.84" height="10.82" fill="#dacdee"/><rect x="259.38" y="800.92" width="10.84" height="10.82" fill="#eee7f7"/><rect x="270.17" y="800.92" width="10.84" height="10.82" fill="#eee7f7"/><rect x="280.96" y="800.92" width="10.84" height="10.82" fill="#dacdee"/><rect x="291.75" y="800.92" width="10.84" height="10.82" fill="#c4afe3"/><rect x="302.53" y="800.92" width="10.84" height="10.82" fill="#eee7f7"/><rect x="313.32" y="800.92" width="10.84" height="10.82" fill="#fcf5f4"/><rect x="324.11" y="800.92" width="10.84" height="10.82" fill="#fcf5f4"/><rect x="334.90" y="800.92" width="10.84" height="10.82" fill="#eee7f7"/><rect x="345.69" y="800.92" width="10.84" height="10.82" fill="#f9e9e6"/><rect x="356.47" y="800.92" width="10.84" height="10.82" fill="#c4afe3"/><rect x="367.26" y="800.92" width="10.84" height="10.82" fill="#c4afe3"/><rect x="378.05" y="800.92" width="10.84" height="10.82" fill="#ffffff"/><rect x="388.84" y="800.92" width="10.84" height="10.82" fill="#c4afe3"/><rect x="399.63" y="800.92" width="10.84" height="10.82" fill="#eee7f7"/><rect x="410.41" y="800.92" width="10.84" height="10.82" fill="#d89787"/><rect x="421.20" y="800.92" width="10.84" height="10.82" fill="#d89787"/><rect x="431.99" y="800.92" width="10.84" height="10.82" fill="#e6b5a9"/><rect x="442.78" y="800.92" width="10.84" height="10.82" fill="#aa8fd7"/><rect x="453.57" y="800.92" width="10.84" height="10.82" fill="#eee7f7"/><rect x="464.35" y="800.92" width="10.84" height="10.82" fill="#aa8fd7"/><rect x="475.14" y="800.92" width="10.84" height="10.82" fill="#d89787"/><rect x="485.93" y="800.92" width="10.84" height="10.82" fill="#c4afe3"/><rect x="496.72" y="800.92" width="10.84" height="10.82" fill="#c4afe3"/><rect x="507.51" y="800.92" width="10.84" height="10.82" fill="#0f00a0"/><rect x="518.30" y="800.92" width="10.84" height="10.82" fill="#f0d1c9"/><rect x="529.08" y="800.92" width="10.84" height="10.82" fill="#f9e9e6"/><rect x="539.87" y="800.92" width="10.84" height="10.82" fill="#ffffff"/><rect x="550.66" y="800.92" width="10.84" height="10.82" fill="#6240b7"/><rect x="561.45" y="800.92" width="10.84" height="10.82" fill="#bd6450"/><rect x="572.24" y="800.92" width="10.84" height="10.82" fill="#ffffff"/><rect x="583.02" y="800.92" width="10.84" height="10.82" fill="#eee7f7"/><rect x="593.81" y="800.92" width="10.84" height="10.82" fill="#fcf5f4"/><rect x="151.50" y="811.69" width="10.84" height="10.82" fill="#fcf5f4"/><rect x="162.29" y="811.69" width="10.84" height="10.82" fill="#dacdee"/><rect x="173.08" y="811.69" width="10.84" height="10.82" fill="#aa8fd7"/><rect x="183.86" y="811.69" width="10.84" height="10.82" fill="#eee7f7"/><rect x="194.65" y="811.69" width="10.84" height="10.82" fill="#f9e9e6"/><rect x="205.44" y="811.69" width="10.84" height="10.82" fill="#f9e9e6"/><rect x="216.23" y="811.69" width="10.84" height="10.82" fill="#eee7f7"/><rect x="227.02" y="811.69" width="10.84" height="10.82" fill="#ffffff"/><rect x="237.80" y="811.69" width="10.84" height="10.82" fill="#aa8fd7"/><rect x="248.59" y="811.69" width="10.84" height="10.82" fill="#c4afe3"/><rect x="259.38" y="811.69" width="10.84" height="10.82" fill="#aa8fd7"/><rect x="270.17" y="811.69" width="10.84" height="10.82" fill="#dacdee"/><rect x="280.96" y="811.69" width="10.84" height="10.82" fill="#cb7e6b"/><rect x="291.75" y="811.69" width="10.84" height="10.82" fill="#f9e9e6"/><rect x="302.53" y="811.69" width="10.84" height="10.82" fill="#f0d1c9"/><rect x="313.32" y="811.69" width="10.84" height="10.82" fill="#9374cc"/><rect x="324.11" y="811.69" width="10.84" height="10.82" fill="#f0d1c9"/><rect x="334.90" y="811.69" width="10.84" height="10.82" fill="#f0d1c9"/><rect x="345.69" y="811.69" width="10.84" height="10.82" fill="#e6b5a9"/><rect x="356.47" y="811.69" width="10.84" height="10.82" fill="#dacdee"/><rect x="367.26" y="811.69" width="10.84" height="10.82" fill="#ffffff"/><rect x="378.05" y="811.69" width="10.84" height="10.82" fill="#f0d1c9"/><rect x="388.84" y="811.69" width="10.84" height="10.82" fill="#ffffff"/><rect x="399.63" y="811.69" width="10.84" height="10.82" fill="#c4afe3"/><rect x="410.41" y="811.69" width="10.84" height="10.82" fill="#eee7f7"/><rect x="421.20" y="811.69" width="10.84" height="10.82" fill="#e6b5a9"/><rect x="431.99" y="811.69" width="10.84" height="10.82" fill="#eee7f7"/><rect x="442.78" y="811.69" width="10.84" height="10.82" fill="#ffffff"/><rect x="453.57" y="811.69" width="10.84" height="10.82" fill="#eee7f7"/><rect x="464.35" y="811.69" width="10.84" height="10.82" fill="#e6b5a9"/><rect x="475.14" y="811.69" width="10.84" height="10.82" fill="#e6b5a9"/><rect x="485.93" y="811.69" width="10.84" height="10.82" fill="#eee7f7"/><rect x="496.72" y="811.69" width="10.84" height="10.82" fill="#dacdee"/><rect x="507.51" y="811.69" width="10.84" height="10.82" fill="#eee7f7"/><rect x="518.30" y="811.69" width="10.84" height="10.82" fill="#9374cc"/><rect x="529.08" y="811.69" width="10.84" height="10.82" fill="#4525ac"/><rect x="539.87" y="811.69" width="10.84" height="10.82" fill="#4525ac"/><rect x="550.66" y="811.69" width="10.84" height="10.82" fill="#ffffff"/><rect x="561.45" y="811.69" width="10.84" height="10.82" fill="#c4afe3"/><rect x="572.24" y="811.69" width="10.84" height="10.82" fill="#6240b7"/><rect x="583.02" y="811.69" width="10.84" height="10.82" fill="#6240b7"/><rect x="593.81" y="811.69" width="10.84" height="10.82" fill="#c4afe3"/><rect x="151.50" y="822.47" width="10.84" height="10.82" fill="#fcf5f4"/><rect x="162.29" y="822.47" width="10.84" height="10.82" fill="#eee7f7"/><rect x="173.08" y="822.47" width="10.84" height="10.82" fill="#f9e9e6"/><rect x="183.86" y="822.47" width="10.84" height="10.82" fill="#dacdee"/><rect x="194.65" y="822.47" width="10.84" height="10.82" fill="#ffffff"/><rect x="205.44" y="822.47" width="10.84" height="10.82" fill="#f0d1c9"/><rect x="216.23" y="822.47" width="10.84" height="10.82" fill="#f9e9e6"/><rect x="227.02" y="822.47" width="10.84" height="10.82" fill="#ffffff"/><rect x="237.80" y="822.47" width="10.84" height="10.82" fill="#e6b5a9"/><rect x="248.59" y="822.47" width="10.84" height="10.82" fill="#eee7f7"/><rect x="259.38" y="822.47" width="10.84" height="10.82" fill="#f9e9e6"/><rect x="270.17" y="822.47" width="10.84" height="10.82" fill="#dacdee"/><rect x="280.96" y="822.47" width="10.84" height="10.82" fill="#f0d1c9"/><rect x="291.75" y="822.47" width="10.84" height="10.82" fill="#f0d1c9"/><rect x="302.53" y="822.47" width="10.84" height="10.82" fill="#eee7f7"/><rect x="313.32" y="822.47" width="10.84" height="10.82" fill="#f9e9e6"/><rect x="324.11" y="822.47" width="10.84" height="10.82" fill="#eee7f7"/><rect x="334.90" y="822.47" width="10.84" height="10.82" fill="#f9e9e6"/><rect x="345.69" y="822.47" width="10.84" height="10.82" fill="#dacdee"/><rect x="356.47" y="822.47" width="10.84" height="10.82" fill="#dacdee"/><rect x="367.26" y="822.47" width="10.84" height="10.82" fill="#f9e9e6"/><rect x="378.05" y="822.47" width="10.84" height="10.82" fill="#f9e9e6"/><rect x="388.84" y="822.47" width="10.84" height="10.82" fill="#dacdee"/><rect x="399.63" y="822.47" width="10.84" height="10.82" fill="#c4afe3"/><rect x="410.41" y="822.47" width="10.84" height="10.82" fill="#eee7f7"/><rect x="421.20" y="822.47" width="10.84" height="10.82" fill="#eee7f7"/><rect x="431.99" y="822.47" width="10.84" height="10.82" fill="#fcf5f4"/><rect x="442.78" y="822.47" width="10.84" height="10.82" fill="#ffffff"/><rect x="453.57" y="822.47" width="10.84" height="10.82" fill="#c4afe3"/><rect x="464.35" y="822.47" width="10.84" height="10.82" fill="#f0d1c9"/><rect x="475.14" y="822.47" width="10.84" height="10.82" fill="#f9e9e6"/><rect x="485.93" y="822.47" width="10.84" height="10.82" fill="#f7f4fb"/><rect x="496.72" y="822.47" width="10.84" height="10.82" fill="#dacdee"/><rect x="507.51" y="822.47" width="10.84" height="10.82" fill="#ffffff"/><rect x="518.30" y="822.47" width="10.84" height="10.82" fill="#ffffff"/><rect x="529.08" y="822.47" width="10.84" height="10.82" fill="#fcf5f4"/><rect x="539.87" y="822.47" width="10.84" height="10.82" fill="#f7f4fb"/><rect x="550.66" y="822.47" width="10.84" height="10.82" fill="#ffffff"/><rect x="561.45" y="822.47" width="10.84" height="10.82" fill="#fcf5f4"/><rect x="572.24" y="822.47" width="10.84" height="10.82" fill="#f9e9e6"/><rect x="583.02" y="822.47" width="10.84" height="10.82" fill="#f7f4fb"/><rect x="593.81" y="822.47" width="10.84" height="10.82" fill="#ffffff"/><rect x="151.50" y="833.24" width="10.84" height="10.82" fill="#eee7f7"/><rect x="162.29" y="833.24" width="10.84" height="10.82" fill="#dacdee"/><rect x="173.08" y="833.24" width="10.84" height="10.82" fill="#f0d1c9"/><rect x="183.86" y="833.24" width="10.84" height="10.82" fill="#f0d1c9"/><rect x="194.65" y="833.24" width="10.84" height="10.82" fill="#f9e9e6"/><rect x="205.44" y="833.24" width="10.84" height="10.82" fill="#eee7f7"/><rect x="216.23" y="833.24" width="10.84" height="10.82" fill="#c4afe3"/><rect x="227.02" y="833.24" width="10.84" height="10.82" fill="#eee7f7"/><rect x="237.80" y="833.24" width="10.84" height="10.82" fill="#ffffff"/><rect x="248.59" y="833.24" width="10.84" height="10.82" fill="#dacdee"/><rect x="259.38" y="833.24" width="10.84" height="10.82" fill="#eee7f7"/><rect x="270.17" y="833.24" width="10.84" height="10.82" fill="#c4afe3"/><rect x="280.96" y="833.24" width="10.84" height="10.82" fill="#eee7f7"/><rect x="291.75" y="833.24" width="10.84" height="10.82" fill="#fcf5f4"/><rect x="302.53" y="833.24" width="10.84" height="10.82" fill="#eee7f7"/><rect x="313.32" y="833.24" width="10.84" height="10.82" fill="#ffffff"/><rect x="324.11" y="833.24" width="10.84" height="10.82" fill="#eee7f7"/><rect x="334.90" y="833.24" width="10.84" height="10.82" fill="#eee7f7"/><rect x="345.69" y="833.24" width="10.84" height="10.82" fill="#eee7f7"/><rect x="356.47" y="833.24" width="10.84" height="10.82" fill="#eee7f7"/><rect x="367.26" y="833.24" width="10.84" height="10.82" fill="#f9e9e6"/><rect x="378.05" y="833.24" width="10.84" height="10.82" fill="#dacdee"/><rect x="388.84" y="833.24" width="10.84" height="10.82" fill="#dacdee"/><rect x="399.63" y="833.24" width="10.84" height="10.82" fill="#fcf5f4"/><rect x="410.41" y="833.24" width="10.84" height="10.82" fill="#fcf5f4"/><rect x="421.20" y="833.24" width="10.84" height="10.82" fill="#e6b5a9"/><rect x="431.99" y="833.24" width="10.84" height="10.82" fill="#f9e9e6"/><rect x="442.78" y="833.24" width="10.84" height="10.82" fill="#dacdee"/><rect x="453.57" y="833.24" width="10.84" height="10.82" fill="#eee7f7"/><rect x="464.35" y="833.24" width="10.84" height="10.82" fill="#fcf5f4"/><rect x="475.14" y="833.24" width="10.84" height="10.82" fill="#f9e9e6"/><rect x="485.93" y="833.24" width="10.84" height="10.82" fill="#eee7f7"/><rect x="496.72" y="833.24" width="10.84" height="10.82" fill="#f9e9e6"/><rect x="507.51" y="833.24" width="10.84" height="10.82" fill="#eee7f7"/><rect x="518.30" y="833.24" width="10.84" height="10.82" fill="#fcf5f4"/><rect x="529.08" y="833.24" width="10.84" height="10.82" fill="#f9e9e6"/><rect x="539.87" y="833.24" width="10.84" height="10.82" fill="#fcf5f4"/><rect x="550.66" y="833.24" width="10.84" height="10.82" fill="#eee7f7"/><rect x="561.45" y="833.24" width="10.84" height="10.82" fill="#f9e9e6"/><rect x="572.24" y="833.24" width="10.84" height="10.82" fill="#ffffff"/><rect x="583.02" y="833.24" width="10.84" height="10.82" fill="#fcf5f4"/><rect x="593.81" y="833.24" width="10.84" height="10.82" fill="#eee7f7"/><rect x="151.50" y="844.01" width="10.84" height="10.82" fill="#f9e9e6"/><rect x="162.29" y="844.01" width="10.84" height="10.82" fill="#dacdee"/><rect x="173.08" y="844.01" width="10.84" height="10.82" fill="#f0d1c9"/><rect x="183.86" y="844.01" width="10.84" height="10.82" fill="#dacdee"/><rect x="194.65" y="844.01" width="10.84" height="10.82" fill="#ffffff"/><rect x="205.44" y="844.01" width="10.84" height="10.82" fill="#f0d1c9"/><rect x="216.23" y="844.01" width="10.84" height="10.82" fill="#f0d1c9"/><rect x="227.02" y="844.01" width="10.84" height="10.82" fill="#ffffff"/><rect x="237.80" y="844.01" width="10.84" height="10.82" fill="#e6b5a9"/><rect x="248.59" y="844.01" width="10.84" height="10.82" fill="#eee7f7"/><rect x="259.38" y="844.01" width="10.84" height="10.82" fill="#f9e9e6"/><rect x="270.17" y="844.01" width="10.84" height="10.82" fill="#f9e9e6"/><rect x="280.96" y="844.01" width="10.84" height="10.82" fill="#f9e9e6"/><rect x="291.75" y="844.01" width="10.84" height="10.82" fill="#f9e9e6"/><rect x="302.53" y="844.01" width="10.84" height="10.82" fill="#fcf5f4"/><rect x="313.32" y="844.01" width="10.84" height="10.82" fill="#fcf5f4"/><rect x="324.11" y="844.01" width="10.84" height="10.82" fill="#eee7f7"/><rect x="334.90" y="844.01" width="10.84" height="10.82" fill="#f9e9e6"/><rect x="345.69" y="844.01" width="10.84" height="10.82" fill="#dacdee"/><rect x="356.47" y="844.01" width="10.84" height="10.82" fill="#dacdee"/><rect x="367.26" y="844.01" width="10.84" height="10.82" fill="#f0d1c9"/><rect x="378.05" y="844.01" width="10.84" height="10.82" fill="#f0d1c9"/><rect x="388.84" y="844.01" width="10.84" height="10.82" fill="#f9e9e6"/><rect x="399.63" y="844.01" width="10.84" height="10.82" fill="#f0d1c9"/><rect x="410.41" y="844.01" width="10.84" height="10.82" fill="#ffffff"/><rect x="421.20" y="844.01" width="10.84" height="10.82" fill="#ffffff"/><rect x="431.99" y="844.01" width="10.84" height="10.82" fill="#c4afe3"/><rect x="442.78" y="844.01" width="10.84" height="10.82" fill="#ffffff"/><rect x="453.57" y="844.01" width="10.84" height="10.82" fill="#c4afe3"/><rect x="464.35" y="844.01" width="10.84" height="10.82" fill="#f0d1c9"/><rect x="475.14" y="844.01" width="10.84" height="10.82" fill="#f9e9e6"/><rect x="485.93" y="844.01" width="10.84" height="10.82" fill="#eee7f7"/><rect x="496.72" y="844.01" width="10.84" height="10.82" fill="#dacdee"/><rect x="507.51" y="844.01" width="10.84" height="10.82" fill="#ffffff"/><rect x="518.30" y="844.01" width="10.84" height="10.82" fill="#ffffff"/><rect x="529.08" y="844.01" width="10.84" height="10.82" fill="#fcf5f4"/><rect x="539.87" y="844.01" width="10.84" height="10.82" fill="#ffffff"/><rect x="550.66" y="844.01" width="10.84" height="10.82" fill="#ffffff"/><rect x="561.45" y="844.01" width="10.84" height="10.82" fill="#fcf5f4"/><rect x="572.24" y="844.01" width="10.84" height="10.82" fill="#f9e9e6"/><rect x="583.02" y="844.01" width="10.84" height="10.82" fill="#f9e9e6"/><rect x="593.81" y="844.01" width="10.84" height="10.82" fill="#ffffff"/><rect x="151.50" y="854.79" width="10.84" height="10.82" fill="#f9e9e6"/><rect x="162.29" y="854.79" width="10.84" height="10.82" fill="#eee7f7"/><rect x="173.08" y="854.79" width="10.84" height="10.82" fill="#f9e9e6"/><rect x="183.86" y="854.79" width="10.84" height="10.82" fill="#f0d1c9"/><rect x="194.65" y="854.79" width="10.84" height="10.82" fill="#f9e9e6"/><rect x="205.44" y="854.79" width="10.84" height="10.82" fill="#f9e9e6"/><rect x="216.23" y="854.79" width="10.84" height="10.82" fill="#eee7f7"/><rect x="227.02" y="854.79" width="10.84" height="10.82" fill="#eee7f7"/><rect x="237.80" y="854.79" width="10.84" height="10.82" fill="#ffffff"/><rect x="248.59" y="854.79" width="10.84" height="10.82" fill="#eee7f7"/><rect x="259.38" y="854.79" width="10.84" height="10.82" fill="#f7f4fb"/><rect x="270.17" y="854.79" width="10.84" height="10.82" fill="#ffffff"/><rect x="280.96" y="854.79" width="10.84" height="10.82" fill="#f9e9e6"/><rect x="291.75" y="854.79" width="10.84" height="10.82" fill="#f0d1c9"/><rect x="302.53" y="854.79" width="10.84" height="10.82" fill="#fcf5f4"/><rect x="313.32" y="854.79" width="10.84" height="10.82" fill="#ffffff"/><rect x="324.11" y="854.79" width="10.84" height="10.82" fill="#dacdee"/><rect x="334.90" y="854.79" width="10.84" height="10.82" fill="#f9e9e6"/><rect x="345.69" y="854.79" width="10.84" height="10.82" fill="#e6b5a9"/><rect x="356.47" y="854.79" width="10.84" height="10.82" fill="#e6b5a9"/><rect x="367.26" y="854.79" width="10.84" height="10.82" fill="#f0d1c9"/><rect x="378.05" y="854.79" width="10.84" height="10.82" fill="#f0d1c9"/><rect x="388.84" y="854.79" width="10.84" height="10.82" fill="#f9e9e6"/><rect x="399.63" y="854.79" width="10.84" height="10.82" fill="#f9e9e6"/><rect x="410.41" y="854.79" width="10.84" height="10.82" fill="#f9e9e6"/><rect x="421.20" y="854.79" width="10.84" height="10.82" fill="#dacdee"/><rect x="431.99" y="854.79" width="10.84" height="10.82" fill="#f9e9e6"/><rect x="442.78" y="854.79" width="10.84" height="10.82" fill="#dacdee"/><rect x="453.57" y="854.79" width="10.84" height="10.82" fill="#eee7f7"/><rect x="464.35" y="854.79" width="10.84" height="10.82" fill="#f0d1c9"/><rect x="475.14" y="854.79" width="10.84" height="10.82" fill="#f9e9e6"/><rect x="485.93" y="854.79" width="10.84" height="10.82" fill="#eee7f7"/><rect x="496.72" y="854.79" width="10.84" height="10.82" fill="#f9e9e6"/><rect x="507.51" y="854.79" width="10.84" height="10.82" fill="#eee7f7"/><rect x="518.30" y="854.79" width="10.84" height="10.82" fill="#fcf5f4"/><rect x="529.08" y="854.79" width="10.84" height="10.82" fill="#ffffff"/><rect x="539.87" y="854.79" width="10.84" height="10.82" fill="#fcf5f4"/><rect x="550.66" y="854.79" width="10.84" height="10.82" fill="#eee7f7"/><rect x="561.45" y="854.79" width="10.84" height="10.82" fill="#fcf5f4"/><rect x="572.24" y="854.79" width="10.84" height="10.82" fill="#f9e9e6"/><rect x="583.02" y="854.79" width="10.84" height="10.82" fill="#f9e9e6"/><rect x="593.81" y="854.79" width="10.84" height="10.82" fill="#ffffff"/><rect x="151.50" y="865.56" width="10.84" height="10.82" fill="#ffffff"/><rect x="162.29" y="865.56" width="10.84" height="10.82" fill="#eee7f7"/><rect x="173.08" y="865.56" width="10.84" height="10.82" fill="#c4afe3"/><rect x="183.86" y="865.56" width="10.84" height="10.82" fill="#f0d1c9"/><rect x="194.65" y="865.56" width="10.84" height="10.82" fill="#fcf5f4"/><rect x="205.44" y="865.56" width="10.84" height="10.82" fill="#f9e9e6"/><rect x="216.23" y="865.56" width="10.84" height="10.82" fill="#eee7f7"/><rect x="227.02" y="865.56" width="10.84" height="10.82" fill="#f9e9e6"/><rect x="237.80" y="865.56" width="10.84" height="10.82" fill="#fcf5f4"/><rect x="248.59" y="865.56" width="10.84" height="10.82" fill="#fcf5f4"/><rect x="259.38" y="865.56" width="10.84" height="10.82" fill="#f7f4fb"/><rect x="270.17" y="865.56" width="10.84" height="10.82" fill="#ffffff"/><rect x="280.96" y="865.56" width="10.84" height="10.82" fill="#f0d1c9"/><rect x="291.75" y="865.56" width="10.84" height="10.82" fill="#dacdee"/><rect x="302.53" y="865.56" width="10.84" height="10.82" fill="#fcf5f4"/><rect x="313.32" y="865.56" width="10.84" height="10.82" fill="#ffffff"/><rect x="324.11" y="865.56" width="10.84" height="10.82" fill="#f0d1c9"/><rect x="334.90" y="865.56" width="10.84" height="10.82" fill="#f9e9e6"/><rect x="345.69" y="865.56" width="10.84" height="10.82" fill="#ffffff"/><rect x="356.47" y="865.56" width="10.84" height="10.82" fill="#fcf5f4"/><rect x="367.26" y="865.56" width="10.84" height="10.82" fill="#c4afe3"/><rect x="378.05" y="865.56" width="10.84" height="10.82" fill="#ffffff"/><rect x="388.84" y="865.56" width="10.84" height="10.82" fill="#eee7f7"/><rect x="399.63" y="865.56" width="10.84" height="10.82" fill="#dacdee"/><rect x="410.41" y="865.56" width="10.84" height="10.82" fill="#eee7f7"/><rect x="421.20" y="865.56" width="10.84" height="10.82" fill="#f9e9e6"/><rect x="431.99" y="865.56" width="10.84" height="10.82" fill="#eee7f7"/><rect x="442.78" y="865.56" width="10.84" height="10.82" fill="#f9e9e6"/><rect x="453.57" y="865.56" width="10.84" height="10.82" fill="#e6b5a9"/><rect x="464.35" y="865.56" width="10.84" height="10.82" fill="#ffffff"/><rect x="475.14" y="865.56" width="10.84" height="10.82" fill="#eee7f7"/><rect x="485.93" y="865.56" width="10.84" height="10.82" fill="#f9e9e6"/><rect x="496.72" y="865.56" width="10.84" height="10.82" fill="#e6b5a9"/><rect x="507.51" y="865.56" width="10.84" height="10.82" fill="#eee7f7"/><rect x="518.30" y="865.56" width="10.84" height="10.82" fill="#eee7f7"/><rect x="529.08" y="865.56" width="10.84" height="10.82" fill="#eee7f7"/><rect x="539.87" y="865.56" width="10.84" height="10.82" fill="#dacdee"/><rect x="550.66" y="865.56" width="10.84" height="10.82" fill="#fcf5f4"/><rect x="561.45" y="865.56" width="10.84" height="10.82" fill="#f7f4fb"/><rect x="572.24" y="865.56" width="10.84" height="10.82" fill="#eee7f7"/><rect x="583.02" y="865.56" width="10.84" height="10.82" fill="#dacdee"/><rect x="593.81" y="865.56" width="10.84" height="10.82" fill="#eee7f7"/><rect x="151.50" y="876.33" width="10.84" height="10.82" fill="#eee7f7"/><rect x="162.29" y="876.33" width="10.84" height="10.82" fill="#fcf5f4"/><rect x="173.08" y="876.33" width="10.84" height="10.82" fill="#f0d1c9"/><rect x="183.86" y="876.33" width="10.84" height="10.82" fill="#f0d1c9"/><rect x="194.65" y="876.33" width="10.84" height="10.82" fill="#ffffff"/><rect x="205.44" y="876.33" width="10.84" height="10.82" fill="#f0d1c9"/><rect x="216.23" y="876.33" width="10.84" height="10.82" fill="#eee7f7"/><rect x="227.02" y="876.33" width="10.84" height="10.82" fill="#f7f4fb"/><rect x="237.80" y="876.33" width="10.84" height="10.82" fill="#f0d1c9"/><rect x="248.59" y="876.33" width="10.84" height="10.82" fill="#fcf5f4"/><rect x="259.38" y="876.33" width="10.84" height="10.82" fill="#fcf5f4"/><rect x="270.17" y="876.33" width="10.84" height="10.82" fill="#c4afe3"/><rect x="280.96" y="876.33" width="10.84" height="10.82" fill="#f0d1c9"/><rect x="291.75" y="876.33" width="10.84" height="10.82" fill="#f0d1c9"/><rect x="302.53" y="876.33" width="10.84" height="10.82" fill="#f9e9e6"/><rect x="313.32" y="876.33" width="10.84" height="10.82" fill="#f9e9e6"/><rect x="324.11" y="876.33" width="10.84" height="10.82" fill="#dacdee"/><rect x="334.90" y="876.33" width="10.84" height="10.82" fill="#f9e9e6"/><rect x="345.69" y="876.33" width="10.84" height="10.82" fill="#e6b5a9"/><rect x="356.47" y="876.33" width="10.84" height="10.82" fill="#e6b5a9"/><rect x="367.26" y="876.33" width="10.84" height="10.82" fill="#f9e9e6"/><rect x="378.05" y="876.33" width="10.84" height="10.82" fill="#f0d1c9"/><rect x="388.84" y="876.33" width="10.84" height="10.82" fill="#fcf5f4"/><rect x="399.63" y="876.33" width="10.84" height="10.82" fill="#f9e9e6"/><rect x="410.41" y="876.33" width="10.84" height="10.82" fill="#f9e9e6"/><rect x="421.20" y="876.33" width="10.84" height="10.82" fill="#ffffff"/><rect x="431.99" y="876.33" width="10.84" height="10.82" fill="#f0d1c9"/><rect x="442.78" y="876.33" width="10.84" height="10.82" fill="#f9e9e6"/><rect x="453.57" y="876.33" width="10.84" height="10.82" fill="#eee7f7"/><rect x="464.35" y="876.33" width="10.84" height="10.82" fill="#f0d1c9"/><rect x="475.14" y="876.33" width="10.84" height="10.82" fill="#f9e9e6"/><rect x="485.93" y="876.33" width="10.84" height="10.82" fill="#f9e9e6"/><rect x="496.72" y="876.33" width="10.84" height="10.82" fill="#f0d1c9"/><rect x="507.51" y="876.33" width="10.84" height="10.82" fill="#ffffff"/><rect x="518.30" y="876.33" width="10.84" height="10.82" fill="#ffffff"/><rect x="529.08" y="876.33" width="10.84" height="10.82" fill="#fcf5f4"/><rect x="539.87" y="876.33" width="10.84" height="10.82" fill="#ffffff"/><rect x="550.66" y="876.33" width="10.84" height="10.82" fill="#ffffff"/><rect x="561.45" y="876.33" width="10.84" height="10.82" fill="#ffffff"/><rect x="572.24" y="876.33" width="10.84" height="10.82" fill="#fcf5f4"/><rect x="583.02" y="876.33" width="10.84" height="10.82" fill="#fcf5f4"/><rect x="593.81" y="876.33" width="10.84" height="10.82" fill="#ffffff"/><rect x="151.50" y="887.11" width="10.84" height="10.82" fill="#fcf5f4"/><rect x="162.29" y="887.11" width="10.84" height="10.82" fill="#fcf5f4"/><rect x="173.08" y="887.11" width="10.84" height="10.82" fill="#f0d1c9"/><rect x="183.86" y="887.11" width="10.84" height="10.82" fill="#eee7f7"/><rect x="194.65" y="887.11" width="10.84" height="10.82" fill="#ffffff"/><rect x="205.44" y="887.11" width="10.84" height="10.82" fill="#eee7f7"/><rect x="216.23" y="887.11" width="10.84" height="10.82" fill="#ffffff"/><rect x="227.02" y="887.11" width="10.84" height="10.82" fill="#ffffff"/><rect x="237.80" y="887.11" width="10.84" height="10.82" fill="#f0d1c9"/><rect x="248.59" y="887.11" width="10.84" height="10.82" fill="#eee7f7"/><rect x="259.38" y="887.11" width="10.84" height="10.82" fill="#fcf5f4"/><rect x="270.17" y="887.11" width="10.84" height="10.82" fill="#eee7f7"/><rect x="280.96" y="887.11" width="10.84" height="10.82" fill="#eee7f7"/><rect x="291.75" y="887.11" width="10.84" height="10.82" fill="#f9e9e6"/><rect x="302.53" y="887.11" width="10.84" height="10.82" fill="#ffffff"/><rect x="313.32" y="887.11" width="10.84" height="10.82" fill="#f9e9e6"/><rect x="324.11" y="887.11" width="10.84" height="10.82" fill="#f0d1c9"/><rect x="334.90" y="887.11" width="10.84" height="10.82" fill="#eee7f7"/><rect x="345.69" y="887.11" width="10.84" height="10.82" fill="#ffffff"/><rect x="356.47" y="887.11" width="10.84" height="10.82" fill="#c4afe3"/><rect x="367.26" y="887.11" width="10.84" height="10.82" fill="#f9e9e6"/><rect x="378.05" y="887.11" width="10.84" height="10.82" fill="#eee7f7"/><rect x="388.84" y="887.11" width="10.84" height="10.82" fill="#eee7f7"/><rect x="399.63" y="887.11" width="10.84" height="10.82" fill="#eee7f7"/><rect x="410.41" y="887.11" width="10.84" height="10.82" fill="#ffffff"/><rect x="421.20" y="887.11" width="10.84" height="10.82" fill="#e6b5a9"/><rect x="431.99" y="887.11" width="10.84" height="10.82" fill="#f0d1c9"/><rect x="442.78" y="887.11" width="10.84" height="10.82" fill="#f9e9e6"/><rect x="453.57" y="887.11" width="10.84" height="10.82" fill="#e6b5a9"/><rect x="464.35" y="887.11" width="10.84" height="10.82" fill="#f0d1c9"/><rect x="475.14" y="887.11" width="10.84" height="10.82" fill="#ffffff"/><rect x="485.93" y="887.11" width="10.84" height="10.82" fill="#eee7f7"/><rect x="496.72" y="887.11" width="10.84" height="10.82" fill="#c4afe3"/><rect x="507.51" y="887.11" width="10.84" height="10.82" fill="#ffffff"/><rect x="518.30" y="887.11" width="10.84" height="10.82" fill="#ffffff"/><rect x="529.08" y="887.11" width="10.84" height="10.82" fill="#fcf5f4"/><rect x="539.87" y="887.11" width="10.84" height="10.82" fill="#f7f4fb"/><rect x="550.66" y="887.11" width="10.84" height="10.82" fill="#ffffff"/><rect x="561.45" y="887.11" width="10.84" height="10.82" fill="#ffffff"/><rect x="572.24" y="887.11" width="10.84" height="10.82" fill="#f7f4fb"/><rect x="583.02" y="887.11" width="10.84" height="10.82" fill="#ffffff"/><rect x="593.81" y="887.11" width="10.84" height="10.82" fill="#ffffff"/><rect x="151.50" y="897.88" width="10.84" height="10.82" fill="#fcf5f4"/><rect x="162.29" y="897.88" width="10.84" height="10.82" fill="#eee7f7"/><rect x="173.08" y="897.88" width="10.84" height="10.82" fill="#f7f4fb"/><rect x="183.86" y="897.88" width="10.84" height="10.82" fill="#f0d1c9"/><rect x="194.65" y="897.88" width="10.84" height="10.82" fill="#f9e9e6"/><rect x="205.44" y="897.88" width="10.84" height="10.82" fill="#f9e9e6"/><rect x="216.23" y="897.88" width="10.84" height="10.82" fill="#fcf5f4"/><rect x="227.02" y="897.88" width="10.84" height="10.82" fill="#fcf5f4"/><rect x="237.80" y="897.88" width="10.84" height="10.82" fill="#fcf5f4"/><rect x="248.59" y="897.88" width="10.84" height="10.82" fill="#eee7f7"/><rect x="259.38" y="897.88" width="10.84" height="10.82" fill="#fcf5f4"/><rect x="270.17" y="897.88" width="10.84" height="10.82" fill="#eee7f7"/><rect x="280.96" y="897.88" width="10.84" height="10.82" fill="#f9e9e6"/><rect x="291.75" y="897.88" width="10.84" height="10.82" fill="#ffffff"/><rect x="302.53" y="897.88" width="10.84" height="10.82" fill="#f9e9e6"/><rect x="313.32" y="897.88" width="10.84" height="10.82" fill="#fcf5f4"/><rect x="324.11" y="897.88" width="10.84" height="10.82" fill="#ffffff"/><rect x="334.90" y="897.88" width="10.84" height="10.82" fill="#f9e9e6"/><rect x="345.69" y="897.88" width="10.84" height="10.82" fill="#ffffff"/><rect x="356.47" y="897.88" width="10.84" height="10.82" fill="#f0d1c9"/><rect x="367.26" y="897.88" width="10.84" height="10.82" fill="#f9e9e6"/><rect x="378.05" y="897.88" width="10.84" height="10.82" fill="#f9e9e6"/><rect x="388.84" y="897.88" width="10.84" height="10.82" fill="#ffffff"/><rect x="399.63" y="897.88" width="10.84" height="10.82" fill="#f9e9e6"/><rect x="410.41" y="897.88" width="10.84" height="10.82" fill="#f9e9e6"/><rect x="421.20" y="897.88" width="10.84" height="10.82" fill="#ffffff"/><rect x="431.99" y="897.88" width="10.84" height="10.82" fill="#f7f4fb"/><rect x="442.78" y="897.88" width="10.84" height="10.82" fill="#fcf5f4"/><rect x="453.57" y="897.88" width="10.84" height="10.82" fill="#f9e9e6"/><rect x="464.35" y="897.88" width="10.84" height="10.82" fill="#f9e9e6"/><rect x="475.14" y="897.88" width="10.84" height="10.82" fill="#f9e9e6"/><rect x="485.93" y="897.88" width="10.84" height="10.82" fill="#ffffff"/><rect x="496.72" y="897.88" width="10.84" height="10.82" fill="#f9e9e6"/><rect x="507.51" y="897.88" width="10.84" height="10.82" fill="#eee7f7"/><rect x="518.30" y="897.88" width="10.84" height="10.82" fill="#f7f4fb"/><rect x="529.08" y="897.88" width="10.84" height="10.82" fill="#f7f4fb"/><rect x="539.87" y="897.88" width="10.84" height="10.82" fill="#eee7f7"/><rect x="550.66" y="897.88" width="10.84" height="10.82" fill="#ffffff"/><rect x="561.45" y="897.88" width="10.84" height="10.82" fill="#ffffff"/><rect x="572.24" y="897.88" width="10.84" height="10.82" fill="#ffffff"/><rect x="583.02" y="897.88" width="10.84" height="10.82" fill="#eee7f7"/><rect x="593.81" y="897.88" width="10.84" height="10.82" fill="#f9e9e6"/><rect x="151.50" y="908.65" width="10.84" height="10.82" fill="#fcf5f4"/><rect x="162.29" y="908.65" width="10.84" height="10.82" fill="#eee7f7"/><rect x="173.08" y="908.65" width="10.84" height="10.82" fill="#eee7f7"/><rect x="183.86" y="908.65" width="10.84" height="10.82" fill="#f9e9e6"/><rect x="194.65" y="908.65" width="10.84" height="10.82" fill="#ffffff"/><rect x="205.44" y="908.65" width="10.84" height="10.82" fill="#f0d1c9"/><rect x="216.23" y="908.65" width="10.84" height="10.82" fill="#ffffff"/><rect x="227.02" y="908.65" width="10.84" height="10.82" fill="#ffffff"/><rect x="237.80" y="908.65" width="10.84" height="10.82" fill="#f7f4fb"/><rect x="248.59" y="908.65" width="10.84" height="10.82" fill="#fcf5f4"/><rect x="259.38" y="908.65" width="10.84" height="10.82" fill="#fcf5f4"/><rect x="270.17" y="908.65" width="10.84" height="10.82" fill="#f9e9e6"/><rect x="280.96" y="908.65" width="10.84" height="10.82" fill="#fcf5f4"/><rect x="291.75" y="908.65" width="10.84" height="10.82" fill="#eee7f7"/><rect x="302.53" y="908.65" width="10.84" height="10.82" fill="#fcf5f4"/><rect x="313.32" y="908.65" width="10.84" height="10.82" fill="#fcf5f4"/><rect x="324.11" y="908.65" width="10.84" height="10.82" fill="#f9e9e6"/><rect x="334.90" y="908.65" width="10.84" height="10.82" fill="#fcf5f4"/><rect x="345.69" y="908.65" width="10.84" height="10.82" fill="#f9e9e6"/><rect x="356.47" y="908.65" width="10.84" height="10.82" fill="#ffffff"/><rect x="367.26" y="908.65" width="10.84" height="10.82" fill="#fcf5f4"/><rect x="378.05" y="908.65" width="10.84" height="10.82" fill="#f9e9e6"/><rect x="388.84" y="908.65" width="10.84" height="10.82" fill="#f9e9e6"/><rect x="399.63" y="908.65" width="10.84" height="10.82" fill="#f9e9e6"/><rect x="410.41" y="908.65" width="10.84" height="10.82" fill="#fcf5f4"/><rect x="421.20" y="908.65" width="10.84" height="10.82" fill="#f9e9e6"/><rect x="431.99" y="908.65" width="10.84" height="10.82" fill="#f0d1c9"/><rect x="442.78" y="908.65" width="10.84" height="10.82" fill="#f7f4fb"/><rect x="453.57" y="908.65" width="10.84" height="10.82" fill="#fcf5f4"/><rect x="464.35" y="908.65" width="10.84" height="10.82" fill="#ffffff"/><rect x="475.14" y="908.65" width="10.84" height="10.82" fill="#fcf5f4"/><rect x="485.93" y="908.65" width="10.84" height="10.82" fill="#fcf5f4"/><rect x="496.72" y="908.65" width="10.84" height="10.82" fill="#f9e9e6"/><rect x="507.51" y="908.65" width="10.84" height="10.82" fill="#ffffff"/><rect x="518.30" y="908.65" width="10.84" height="10.82" fill="#ffffff"/><rect x="529.08" y="908.65" width="10.84" height="10.82" fill="#fcf5f4"/><rect x="539.87" y="908.65" width="10.84" height="10.82" fill="#ffffff"/><rect x="550.66" y="908.65" width="10.84" height="10.82" fill="#ffffff"/><rect x="561.45" y="908.65" width="10.84" height="10.82" fill="#ffffff"/><rect x="572.24" y="908.65" width="10.84" height="10.82" fill="#ffffff"/><rect x="583.02" y="908.65" width="10.84" height="10.82" fill="#ffffff"/><rect x="593.81" y="908.65" width="10.84" height="10.82" fill="#ffffff"/><rect x="151.50" y="919.43" width="10.84" height="10.82" fill="#ffffff"/><rect x="162.29" y="919.43" width="10.84" height="10.82" fill="#ffffff"/><rect x="173.08" y="919.43" width="10.84" height="10.82" fill="#ffffff"/><rect x="183.86" y="919.43" width="10.84" height="10.82" fill="#fcf5f4"/><rect x="194.65" y="919.43" width="10.84" height="10.82" fill="#ffffff"/><rect x="205.44" y="919.43" width="10.84" height="10.82" fill="#f7f4fb"/><rect x="216.23" y="919.43" width="10.84" height="10.82" fill="#ffffff"/><rect x="227.02" y="919.43" width="10.84" height="10.82" fill="#ffffff"/><rect x="237.80" y="919.43" width="10.84" height="10.82" fill="#fcf5f4"/><rect x="248.59" y="919.43" width="10.84" height="10.82" fill="#ffffff"/><rect x="259.38" y="919.43" width="10.84" height="10.82" fill="#ffffff"/><rect x="270.17" y="919.43" width="10.84" height="10.82" fill="#fcf5f4"/><rect x="280.96" y="919.43" width="10.84" height="10.82" fill="#ffffff"/><rect x="291.75" y="919.43" width="10.84" height="10.82" fill="#fcf5f4"/><rect x="302.53" y="919.43" width="10.84" height="10.82" fill="#ffffff"/><rect x="313.32" y="919.43" width="10.84" height="10.82" fill="#fcf5f4"/><rect x="324.11" y="919.43" width="10.84" height="10.82" fill="#ffffff"/><rect x="334.90" y="919.43" width="10.84" height="10.82" fill="#ffffff"/><rect x="345.69" y="919.43" width="10.84" height="10.82" fill="#ffffff"/><rect x="356.47" y="919.43" width="10.84" height="10.82" fill="#fcf5f4"/><rect x="367.26" y="919.43" width="10.84" height="10.82" fill="#f9e9e6"/><rect x="378.05" y="919.43" width="10.84" height="10.82" fill="#f7f4fb"/><rect x="388.84" y="919.43" width="10.84" height="10.82" fill="#fcf5f4"/><rect x="399.63" y="919.43" width="10.84" height="10.82" fill="#ffffff"/><rect x="410.41" y="919.43" width="10.84" height="10.82" fill="#ffffff"/><rect x="421.20" y="919.43" width="10.84" height="10.82" fill="#ffffff"/><rect x="431.99" y="919.43" width="10.84" height="10.82" fill="#ffffff"/><rect x="442.78" y="919.43" width="10.84" height="10.82" fill="#ffffff"/><rect x="453.57" y="919.43" width="10.84" height="10.82" fill="#fcf5f4"/><rect x="464.35" y="919.43" width="10.84" height="10.82" fill="#fcf5f4"/><rect x="475.14" y="919.43" width="10.84" height="10.82" fill="#fcf5f4"/><rect x="485.93" y="919.43" width="10.84" height="10.82" fill="#fcf5f4"/><rect x="496.72" y="919.43" width="10.84" height="10.82" fill="#fcf5f4"/><rect x="507.51" y="919.43" width="10.84" height="10.82" fill="#ffffff"/><rect x="518.30" y="919.43" width="10.84" height="10.82" fill="#ffffff"/><rect x="529.08" y="919.43" width="10.84" height="10.82" fill="#fcf5f4"/><rect x="539.87" y="919.43" width="10.84" height="10.82" fill="#ffffff"/><rect x="550.66" y="919.43" width="10.84" height="10.82" fill="#ffffff"/><rect x="561.45" y="919.43" width="10.84" height="10.82" fill="#ffffff"/><rect x="572.24" y="919.43" width="10.84" height="10.82" fill="#ffffff"/><rect x="583.02" y="919.43" width="10.84" height="10.82" fill="#ffffff"/><rect x="593.81" y="919.43" width="10.84" height="10.82" fill="#ffffff"/><path d="M151.50 768.60V930.20M162.29 768.60V930.20M173.08 768.60V930.20M183.86 768.60V930.20M194.65 768.60V930.20M205.44 768.60V930.20M216.23 768.60V930.20M227.02 768.60V930.20M237.80 768.60V930.20M248.59 768.60V930.20M259.38 768.60V930.20M270.17 768.60V930.20M280.96 768.60V930.20M291.75 768.60V930.20M302.53 768.60V930.20M313.32 768.60V930.20M324.11 768.60V930.20M334.90 768.60V930.20M345.69 768.60V930.20M356.47 768.60V930.20M367.26 768.60V930.20M378.05 768.60V930.20M388.84 768.60V930.20M399.63 768.60V930.20M410.41 768.60V930.20M421.20 768.60V930.20M431.99 768.60V930.20M442.78 768.60V930.20M453.57 768.60V930.20M464.35 768.60V930.20M475.14 768.60V930.20M485.93 768.60V930.20M496.72 768.60V930.20M507.51 768.60V930.20M518.30 768.60V930.20M529.08 768.60V930.20M539.87 768.60V930.20M550.66 768.60V930.20M561.45 768.60V930.20M572.24 768.60V930.20M583.02 768.60V930.20M593.81 768.60V930.20M604.60 768.60V930.20M151.50 768.60H604.60M151.50 779.37H604.60M151.50 790.15H604.60M151.50 800.92H604.60M151.50 811.69H604.60M151.50 822.47H604.60M151.50 833.24H604.60M151.50 844.01H604.60M151.50 854.79H604.60M151.50 865.56H604.60M151.50 876.33H604.60M151.50 887.11H604.60M151.50 897.88H604.60M151.50 908.65H604.60M151.50 919.43H604.60M151.50 930.20H604.60" stroke="#5a5a5a" stroke-width="0.75" fill="none"/><rect x="505.91" y="768.60" width="3.2" height="161.60" fill="#000"/><rect x="602.80" y="768.60" width="1.8" height="161.60" fill="#000"/><path d="M151.50 768.60V930.20H604.60" stroke="#262626" stroke-width="0.7" fill="none"/><text x="145.80" y="777.39" font-size="9.65" fill="#4d4d4d" class="ax" text-anchor="end">GPS_distanceFromHome</text><text x="145.80" y="788.16" font-size="9.65" fill="#4d4d4d" class="ax" text-anchor="end">GPS_radiusMobility</text><text x="145.80" y="798.93" font-size="9.65" fill="#4d4d4d" class="ax" text-anchor="end">GPS_percentAtHome</text><text x="145.80" y="809.71" font-size="9.65" fill="#4d4d4d" class="ax" text-anchor="end">GPS_missingHours</text><text x="145.80" y="820.48" font-size="9.65" fill="#4d4d4d" class="ax" text-anchor="end">acc_daily</text><text x="145.80" y="831.25" font-size="9.65" fill="#4d4d4d" class="ax" text-anchor="end">Phone_UseDuringWake</text><text x="145.80" y="842.03" font-size="9.65" fill="#4d4d4d" class="ax" text-anchor="end">Phone_SleepOffset</text><text x="145.80" y="852.80" font-size="9.65" fill="#4d4d4d" class="ax" text-anchor="end">Phone_UseDifferenceWakeSleep</text><text x="145.80" y="863.57" font-size="9.65" fill="#4d4d4d" class="ax" text-anchor="end">Phone_SleepOnset</text><text x="145.80" y="874.35" font-size="9.65" fill="#4d4d4d" class="ax" text-anchor="end">pow_daily</text><text x="145.80" y="885.12" font-size="9.65" fill="#4d4d4d" class="ax" text-anchor="end">Phone_UseDuringSleep</text><text x="145.80" y="895.89" font-size="9.65" fill="#4d4d4d" class="ax" text-anchor="end">Phone_SleepDuration</text><text x="145.80" y="906.67" font-size="9.65" fill="#4d4d4d" class="ax" text-anchor="end">GPS_numberofPlaces</text><text x="145.80" y="917.44" font-size="9.65" fill="#4d4d4d" class="ax" text-anchor="end">weekday</text><text x="145.80" y="928.21" font-size="9.65" fill="#4d4d4d" class="ax" text-anchor="end">Phone_missing</text><text x="0" y="0" font-size="9.65" fill="#4d4d4d" class="ax" text-anchor="end" transform="translate(161.59 941.20) rotate(-45)">SUB4</text><text x="0" y="0" font-size="9.65" fill="#4d4d4d" class="ax" text-anchor="end" transform="translate(172.38 941.20) rotate(-45)">SUB5</text><text x="0" y="0" font-size="9.65" fill="#4d4d4d" class="ax" text-anchor="end" transform="translate(183.17 941.20) rotate(-45)">SUB6</text><text x="0" y="0" font-size="9.65" fill="#4d4d4d" class="ax" text-anchor="end" transform="translate(193.96 941.20) rotate(-45)">SUB7</text><text x="0" y="0" font-size="9.65" fill="#4d4d4d" class="ax" text-anchor="end" transform="translate(204.75 941.20) rotate(-45)">SUB8</text><text x="0" y="0" font-size="9.65" fill="#4d4d4d" class="ax" text-anchor="end" transform="translate(215.53 941.20) rotate(-45)">SUB11</text><text x="0" y="0" font-size="9.65" fill="#4d4d4d" class="ax" text-anchor="end" transform="translate(226.32 941.20) rotate(-45)">SUB15</text><text x="0" y="0" font-size="9.65" fill="#4d4d4d" class="ax" text-anchor="end" transform="translate(237.11 941.20) rotate(-45)">SUB17</text><text x="0" y="0" font-size="9.65" fill="#4d4d4d" class="ax" text-anchor="end" transform="translate(247.90 941.20) rotate(-45)">SUB18</text><text x="0" y="0" font-size="9.65" fill="#4d4d4d" class="ax" text-anchor="end" transform="translate(258.69 941.20) rotate(-45)">SUB19</text><text x="0" y="0" font-size="9.65" fill="#4d4d4d" class="ax" text-anchor="end" transform="translate(269.47 941.20) rotate(-45)">SUB20</text><text x="0" y="0" font-size="9.65" fill="#4d4d4d" class="ax" text-anchor="end" transform="translate(280.26 941.20) rotate(-45)">SUB21</text><text x="0" y="0" font-size="9.65" fill="#4d4d4d" class="ax" text-anchor="end" transform="translate(291.05 941.20) rotate(-45)">SUB23</text><text x="0" y="0" font-size="9.65" fill="#4d4d4d" class="ax" text-anchor="end" transform="translate(301.84 941.20) rotate(-45)">SUB24</text><text x="0" y="0" font-size="9.65" fill="#4d4d4d" class="ax" text-anchor="end" transform="translate(312.63 941.20) rotate(-45)">SUB26</text><text x="0" y="0" font-size="9.65" fill="#4d4d4d" class="ax" text-anchor="end" transform="translate(323.42 941.20) rotate(-45)">SUB27</text><text x="0" y="0" font-size="9.65" fill="#4d4d4d" class="ax" text-anchor="end" transform="translate(334.20 941.20) rotate(-45)">SUB31</text><text x="0" y="0" font-size="9.65" fill="#4d4d4d" class="ax" text-anchor="end" transform="translate(344.99 941.20) rotate(-45)">SUB32</text><text x="0" y="0" font-size="9.65" fill="#4d4d4d" class="ax" text-anchor="end" transform="translate(355.78 941.20) rotate(-45)">SUB33</text><text x="0" y="0" font-size="9.65" fill="#4d4d4d" class="ax" text-anchor="end" transform="translate(366.57 941.20) rotate(-45)">SUB34</text><text x="0" y="0" font-size="9.65" fill="#4d4d4d" class="ax" text-anchor="end" transform="translate(377.36 941.20) rotate(-45)">SUB36</text><text x="0" y="0" font-size="9.65" fill="#4d4d4d" class="ax" text-anchor="end" transform="translate(388.14 941.20) rotate(-45)">SUB38</text><text x="0" y="0" font-size="9.65" fill="#4d4d4d" class="ax" text-anchor="end" transform="translate(398.93 941.20) rotate(-45)">SUB40</text><text x="0" y="0" font-size="9.65" fill="#4d4d4d" class="ax" text-anchor="end" transform="translate(409.72 941.20) rotate(-45)">SUB43</text><text x="0" y="0" font-size="9.65" fill="#4d4d4d" class="ax" text-anchor="end" transform="translate(420.51 941.20) rotate(-45)">SUB50</text><text x="0" y="0" font-size="9.65" fill="#4d4d4d" class="ax" text-anchor="end" transform="translate(431.30 941.20) rotate(-45)">SUB59</text><text x="0" y="0" font-size="9.65" fill="#4d4d4d" class="ax" text-anchor="end" transform="translate(442.08 941.20) rotate(-45)">SUB60</text><text x="0" y="0" font-size="9.65" fill="#4d4d4d" class="ax" text-anchor="end" transform="translate(452.87 941.20) rotate(-45)">SUB61</text><text x="0" y="0" font-size="9.65" fill="#4d4d4d" class="ax" text-anchor="end" transform="translate(463.66 941.20) rotate(-45)">SUB63</text><text x="0" y="0" font-size="9.65" fill="#4d4d4d" class="ax" text-anchor="end" transform="translate(474.45 941.20) rotate(-45)">SUB64</text><text x="0" y="0" font-size="9.65" fill="#4d4d4d" class="ax" text-anchor="end" transform="translate(485.24 941.20) rotate(-45)">SUB67</text><text x="0" y="0" font-size="9.65" fill="#4d4d4d" class="ax" text-anchor="end" transform="translate(496.02 941.20) rotate(-45)">SUB68</text><text x="0" y="0" font-size="9.65" fill="#4d4d4d" class="ax" text-anchor="end" transform="translate(506.81 941.20) rotate(-45)">SUB69</text><text x="0" y="0" font-size="9.65" fill="#4d4d4d" class="ax" text-anchor="end" transform="translate(517.60 941.20) rotate(-45)">SUB10</text><text x="0" y="0" font-size="9.65" fill="#4d4d4d" class="ax" text-anchor="end" transform="translate(528.39 941.20) rotate(-45)">SUB16</text><text x="0" y="0" font-size="9.65" fill="#4d4d4d" class="ax" text-anchor="end" transform="translate(539.18 941.20) rotate(-45)">SUB30</text><text x="0" y="0" font-size="9.65" fill="#4d4d4d" class="ax" text-anchor="end" transform="translate(549.97 941.20) rotate(-45)">SUB35</text><text x="0" y="0" font-size="9.65" fill="#4d4d4d" class="ax" text-anchor="end" transform="translate(560.75 941.20) rotate(-45)">SUB41</text><text x="0" y="0" font-size="9.65" fill="#4d4d4d" class="ax" text-anchor="end" transform="translate(571.54 941.20) rotate(-45)">SUB46</text><text x="0" y="0" font-size="9.65" fill="#4d4d4d" class="ax" text-anchor="end" transform="translate(582.33 941.20) rotate(-45)">SUB52</text><text x="0" y="0" font-size="9.65" fill="#4d4d4d" class="ax" text-anchor="end" transform="translate(593.12 941.20) rotate(-45)">SUB55</text><text x="0" y="0" font-size="9.65" fill="#4d4d4d" class="ax" text-anchor="end" transform="translate(603.91 941.20) rotate(-45)">SUB70</text><path d="M147.90 773.99H151.50M147.90 784.76H151.50M147.90 795.53H151.50M147.90 806.31H151.50M147.90 817.08H151.50M147.90 827.85H151.50M147.90 838.63H151.50M147.90 849.40H151.50M147.90 860.17H151.50M147.90 870.95H151.50M147.90 881.72H151.50M147.90 892.49H151.50M147.90 903.27H151.50M147.90 914.04H151.50M147.90 924.81H151.50M156.89 930.20V933.90M167.68 930.20V933.90M178.47 930.20V933.90M189.26 930.20V933.90M200.05 930.20V933.90M210.83 930.20V933.90M221.62 930.20V933.90M232.41 930.20V933.90M243.20 930.20V933.90M253.99 930.20V933.90M264.77 930.20V933.90M275.56 930.20V933.90M286.35 930.20V933.90M297.14 930.20V933.90M307.93 930.20V933.90M318.72 930.20V933.90M329.50 930.20V933.90M340.29 930.20V933.90M351.08 930.20V933.90M361.87 930.20V933.90M372.66 930.20V933.90M383.44 930.20V933.90M394.23 930.20V933.90M405.02 930.20V933.90M415.81 930.20V933.90M426.60 930.20V933.90M437.38 930.20V933.90M448.17 930.20V933.90M458.96 930.20V933.90M469.75 930.20V933.90M480.54 930.20V933.90M491.32 930.20V933.90M502.11 930.20V933.90M512.90 930.20V933.90M523.69 930.20V933.90M534.48 930.20V933.90M545.27 930.20V933.90M556.05 930.20V933.90M566.84 930.20V933.90M577.63 930.20V933.90M588.42 930.20V933.90M599.21 930.20V933.90" stroke="#2b2b2b" stroke-width="1.2" fill="none"/><defs><linearGradient id="lg" x1="0" y1="0" x2="0" y2="1"><stop offset="0.0000" stop-color="#8b0000"/><stop offset="0.0250" stop-color="#92180d"/><stop offset="0.0500" stop-color="#9a2818"/><stop offset="0.0750" stop-color="#a13523"/><stop offset="0.1000" stop-color="#a8412d"/><stop offset="0.1250" stop-color="#af4c38"/><stop offset="0.1500" stop-color="#b65843"/><stop offset="0.1750" stop-color="#bc634f"/><stop offset="0.2000" stop-color="#c26e5a"/><stop offset="0.2250" stop-color="#c87966"/><stop offset="0.2500" stop-color="#ce8372"/><stop offset="0.2750" stop-color="#d48e7e"/><stop offset="0.3000" stop-color="#d9998a"/><stop offset="0.3250" stop-color="#dea496"/><stop offset="0.3500" stop-color="#e3afa3"/><stop offset="0.3750" stop-color="#e8bbaf"/><stop offset="0.4000" stop-color="#ecc6bc"/><stop offset="0.4250" stop-color="#f1d1c9"/><stop offset="0.4500" stop-color="#f5dcd6"/><stop offset="0.4750" stop-color="#f8e8e4"/><stop offset="0.5000" stop-color="#fcf3f1"/><stop offset="0.5250" stop-color="#ffffff"/><stop offset="0.5500" stop-color="#f6f3fb"/><stop offset="0.5750" stop-color="#ede6f7"/><stop offset="0.6000" stop-color="#e4daf2"/><stop offset="0.6250" stop-color="#dbcdee"/><stop offset="0.6500" stop-color="#d2c1ea"/><stop offset="0.6750" stop-color="#c8b5e5"/><stop offset="0.7000" stop-color="#bfa9e1"/><stop offset="0.7250" stop-color="#b69ddc"/><stop offset="0.7500" stop-color="#ac92d8"/><stop offset="0.7750" stop-color="#a386d3"/><stop offset="0.8000" stop-color="#997bcf"/><stop offset="0.8250" stop-color="#8f6fca"/><stop offset="0.8500" stop-color="#8564c6"/><stop offset="0.8750" stop-color="#7a58c1"/><stop offset="0.9000" stop-color="#704dbc"/><stop offset="0.9250" stop-color="#6442b8"/><stop offset="0.9500" stop-color="#5837b3"/><stop offset="0.9750" stop-color="#4c2bae"/><stop offset="1.0000" stop-color="#3d1faa"/></linearGradient></defs><rect x="617.2" y="372.6" width="18.80" height="307.60" fill="url(#lg)"/><text x="617.4000000000001" y="367.0" font-size="12.85" fill="#1a1a1a" class="lg">Importance</text><text x="640.60" y="420.10" font-size="12.3" fill="#1a1a1a" class="lg">0.2</text><text x="640.60" y="479.30" font-size="12.3" fill="#1a1a1a" class="lg">0.1</text><text x="640.60" y="538.50" font-size="12.3" fill="#1a1a1a" class="lg">0.0</text><text x="640.60" y="597.70" font-size="12.3" fill="#1a1a1a" class="lg">−0.1</text><text x="640.60" y="656.90" font-size="12.3" fill="#1a1a1a" class="lg">−0.2</text><path d="M617.20 415.80h3.8M632.20 415.80h3.8M617.20 475.00h3.8M632.20 475.00h3.8M617.20 534.20h3.8M632.20 534.20h3.8M617.20 593.40h3.8M632.20 593.40h3.8M617.20 652.60h3.8M632.20 652.60h3.8" stroke="#fff" stroke-opacity="0.6" stroke-width="0.8" fill="none"/></svg></body></html>
